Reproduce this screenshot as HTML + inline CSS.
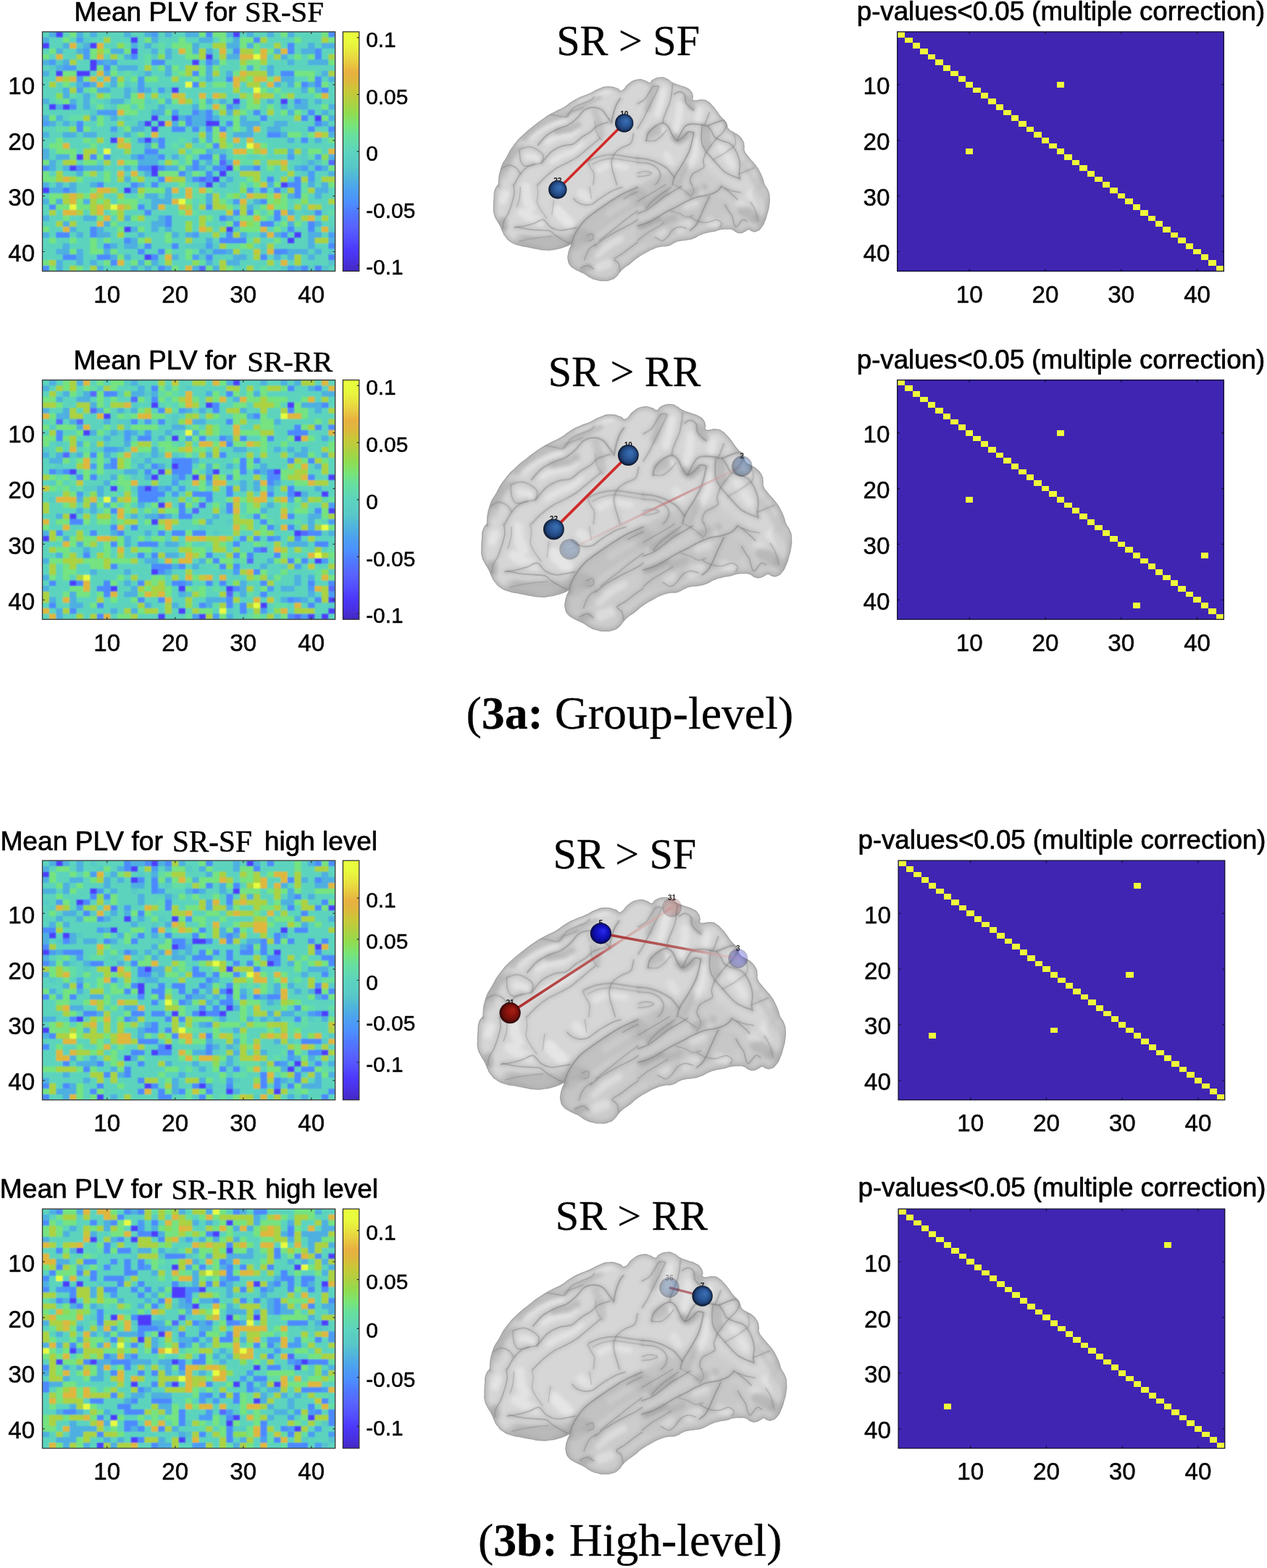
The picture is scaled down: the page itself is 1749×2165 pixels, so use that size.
<!DOCTYPE html>
<html lang="en"><head><meta charset="utf-8"><title>Figure 3</title>
<style>html,body{margin:0;padding:0;background:#fff}svg{display:block}</style></head><body>
<svg width="1749" height="2165" viewBox="0 0 1749 2165">
<defs>
<linearGradient id="cbg" x1="0" y1="0" x2="0" y2="1"><stop offset="0.000" stop-color="#e8ff3c"/><stop offset="0.045" stop-color="#e8fa3c"/><stop offset="0.094" stop-color="#e8e040"/><stop offset="0.133" stop-color="#e8c840"/><stop offset="0.168" stop-color="#e8b040"/><stop offset="0.207" stop-color="#ddb83c"/><stop offset="0.247" stop-color="#c8c838"/><stop offset="0.291" stop-color="#b0d040"/><stop offset="0.341" stop-color="#90dc50"/><stop offset="0.390" stop-color="#78e478"/><stop offset="0.430" stop-color="#68e09c"/><stop offset="0.502" stop-color="#5cd4be"/><stop offset="0.563" stop-color="#58c8c8"/><stop offset="0.612" stop-color="#50b4dc"/><stop offset="0.662" stop-color="#4ca0f0"/><stop offset="0.711" stop-color="#4c90ff"/><stop offset="0.760" stop-color="#5078ff"/><stop offset="0.810" stop-color="#5864ff"/><stop offset="0.860" stop-color="#5450ff"/><stop offset="0.910" stop-color="#4c38fc"/><stop offset="0.960" stop-color="#4830e0"/><stop offset="1.000" stop-color="#4428c0"/></linearGradient>
<filter id="bl1" x="-10%" y="-10%" width="120%" height="120%"><feGaussianBlur stdDeviation="0.9"/></filter>
<filter id="bl2" x="-10%" y="-10%" width="120%" height="120%"><feGaussianBlur stdDeviation="2.2"/></filter>
<filter id="bl3" x="-20%" y="-20%" width="140%" height="140%"><feGaussianBlur stdDeviation="5"/></filter>
<filter id="bl0" x="-10%" y="-10%" width="120%" height="120%"><feGaussianBlur stdDeviation="0.5"/></filter>
<clipPath id="bclip"><path d="M688.1 255.0C689.2 248.1 687.1 247.1 691.2 234.1C695.2 221.1 694.0 227.3 700.2 216.0C706.5 204.7 702.3 210.3 709.9 200.2C717.6 190.2 714.0 194.6 723.2 185.7C732.5 176.9 728.1 181.3 737.7 173.6C747.4 166.0 742.6 169.2 752.3 162.7C761.9 156.3 757.9 159.1 766.8 154.3C775.6 149.4 770.8 153.1 778.9 148.2C786.9 143.4 782.9 144.6 791.0 139.8C799.0 134.9 795.0 137.3 803.1 133.7C811.1 130.1 807.1 132.5 815.2 128.9C823.2 125.2 819.2 125.8 827.3 122.8C835.3 119.8 831.3 120.0 839.4 119.8C847.4 119.6 845.0 120.4 851.5 122.2C857.9 124.0 853.1 127.5 858.7 125.2C864.4 123.0 861.3 120.6 868.4 115.6C875.5 110.5 872.9 111.5 880.0 110.1C887.1 108.7 884.0 109.9 889.7 111.3C895.3 112.7 892.9 114.8 896.9 114.4C901.0 114.0 896.9 112.5 901.8 110.1C906.6 107.7 905.4 107.5 911.5 107.1C917.5 106.7 914.3 106.5 919.9 108.9C925.6 111.3 922.3 111.3 928.4 114.4C934.4 117.4 931.6 115.6 938.1 118.0C944.5 120.4 942.5 118.8 947.7 121.6C953.0 124.4 951.0 122.8 953.8 126.5C956.6 130.1 955.0 128.5 956.2 132.5C957.4 136.5 953.0 136.7 957.4 138.5C961.9 140.4 963.1 137.3 969.5 137.9C976.0 138.5 972.3 137.7 976.8 140.4C981.2 143.0 978.8 141.6 982.8 145.8C986.9 150.0 984.8 147.8 988.9 153.1C992.9 158.3 990.9 156.7 994.9 161.5C999.0 166.4 998.1 164.0 1001.0 167.6C1003.8 171.2 1001.8 168.8 1003.4 172.4C1005.0 176.0 1002.6 174.8 1005.8 178.5C1009.0 182.1 1008.6 180.5 1013.1 183.3C1017.5 186.1 1015.1 183.3 1019.1 186.9C1023.1 190.6 1022.5 189.4 1025.2 194.2C1027.8 199.0 1026.2 196.6 1027.0 201.5C1027.8 206.3 1025.8 203.9 1027.6 208.7C1029.4 213.5 1028.8 211.1 1032.4 216.0C1036.0 220.8 1034.4 218.4 1038.5 223.2C1042.5 228.1 1040.9 225.2 1044.5 230.5C1048.1 235.7 1046.5 233.3 1049.4 239.0C1052.2 244.6 1051.0 242.1 1053.0 247.4C1055.0 252.8 1053.0 249.7 1055.4 255.0C1057.8 260.4 1058.0 257.4 1060.2 263.5C1062.5 269.5 1061.7 266.3 1062.1 273.1C1062.5 280.0 1062.5 276.8 1061.5 284.0C1060.4 291.3 1061.0 287.7 1059.0 294.9C1057.0 302.2 1058.2 299.4 1055.4 305.8C1052.6 312.3 1054.2 309.8 1050.6 314.3C1046.9 318.7 1048.5 317.5 1044.5 319.1C1040.5 320.7 1042.1 319.9 1038.5 319.1C1034.8 318.3 1036.9 316.7 1033.6 316.7C1030.4 316.7 1032.4 317.5 1028.8 319.1C1025.2 320.7 1026.8 321.1 1022.7 321.5C1018.7 321.9 1020.7 321.9 1016.7 320.3C1012.7 318.7 1015.1 318.1 1010.6 316.7C1006.2 315.3 1008.6 316.1 1003.4 316.1C998.1 316.1 1000.6 315.7 994.9 316.7C989.3 317.7 992.5 317.7 986.5 319.1C980.4 320.5 983.2 319.3 976.8 320.9C970.3 322.5 973.5 321.3 967.1 324.0C960.6 326.6 963.9 326.4 957.4 328.8C951.0 331.2 954.2 330.0 947.7 331.2C941.3 332.4 943.7 331.2 938.1 332.4C932.4 333.6 936.0 332.6 930.8 334.8C925.6 337.1 928.8 337.3 922.3 339.1C915.9 340.9 918.3 338.9 911.5 340.3C904.6 341.7 908.2 340.7 901.8 343.3C895.3 345.9 899.4 344.1 892.1 348.1C884.8 352.2 887.5 350.2 880.0 355.4C872.5 360.6 875.9 359.0 869.6 363.9C863.3 368.7 866.0 365.9 861.1 369.9C856.3 374.0 858.7 371.9 855.1 376.0C851.5 380.0 854.3 378.6 850.2 382.0C846.2 385.4 848.6 384.4 843.0 386.2C837.3 388.1 839.8 387.5 833.3 387.5C826.9 387.5 829.7 387.7 823.6 386.2C817.6 384.8 820.4 385.8 815.2 383.2C809.9 380.6 812.7 381.2 807.9 378.4C803.1 375.6 805.5 377.2 800.6 374.8C795.8 372.3 797.8 374.0 793.4 371.1C789.0 368.3 790.4 370.3 787.3 366.3C784.3 362.3 785.3 363.9 784.3 359.0C783.3 354.2 783.7 356.6 784.3 351.8C784.9 346.9 784.7 349.4 786.1 344.5C787.5 339.7 789.4 339.1 788.5 337.3C787.7 335.4 788.1 337.5 783.7 339.1C779.3 340.7 781.7 340.3 775.2 342.1C768.8 343.9 772.0 343.5 764.4 344.5C756.7 345.5 760.3 345.5 752.3 345.1C744.2 344.7 748.2 344.7 740.2 343.3C732.1 341.9 736.1 342.5 728.1 340.9C720.0 339.3 723.6 340.9 716.0 338.5C708.3 336.0 711.1 337.7 705.1 333.6C699.0 329.6 701.5 330.8 697.8 326.4C694.2 321.9 696.6 325.2 694.2 320.3C691.8 315.5 693.4 317.5 690.6 311.9C687.7 306.2 688.5 309.0 685.7 303.4C682.9 297.7 683.5 301.0 682.1 294.9C680.7 288.9 681.5 292.5 681.5 285.2C681.5 278.0 681.5 280.8 682.1 273.1C682.7 265.5 681.3 268.3 683.3 262.3C685.3 256.2 686.5 257.4 688.1 255.0C689.8 252.6 687.1 262.0 688.1 255.0Z"/></clipPath>
<radialGradient id="nblue" cx="0.5" cy="0.5" r="0.5" fx="0.64" fy="0.36"><stop offset="0" stop-color="#3a70b6"/><stop offset="0.45" stop-color="#2c5a9a"/><stop offset="0.75" stop-color="#20447a"/><stop offset="0.92" stop-color="#122444"/><stop offset="1" stop-color="#081020"/></radialGradient>
<radialGradient id="ndblue" cx="0.5" cy="0.5" r="0.5" fx="0.64" fy="0.36"><stop offset="0" stop-color="#2a2af0"/><stop offset="0.45" stop-color="#1515c8"/><stop offset="0.75" stop-color="#0d0da0"/><stop offset="0.92" stop-color="#080860"/><stop offset="1" stop-color="#050530"/></radialGradient>
<radialGradient id="nred" cx="0.5" cy="0.5" r="0.5" fx="0.64" fy="0.36"><stop offset="0" stop-color="#a82014"/><stop offset="0.45" stop-color="#8c140e"/><stop offset="0.75" stop-color="#6c0e0a"/><stop offset="0.92" stop-color="#400806"/><stop offset="1" stop-color="#200303"/></radialGradient>
<g id="brain">
<path d="M688.1 255.0C689.2 248.1 687.1 247.1 691.2 234.1C695.2 221.1 694.0 227.3 700.2 216.0C706.5 204.7 702.3 210.3 709.9 200.2C717.6 190.2 714.0 194.6 723.2 185.7C732.5 176.9 728.1 181.3 737.7 173.6C747.4 166.0 742.6 169.2 752.3 162.7C761.9 156.3 757.9 159.1 766.8 154.3C775.6 149.4 770.8 153.1 778.9 148.2C786.9 143.4 782.9 144.6 791.0 139.8C799.0 134.9 795.0 137.3 803.1 133.7C811.1 130.1 807.1 132.5 815.2 128.9C823.2 125.2 819.2 125.8 827.3 122.8C835.3 119.8 831.3 120.0 839.4 119.8C847.4 119.6 845.0 120.4 851.5 122.2C857.9 124.0 853.1 127.5 858.7 125.2C864.4 123.0 861.3 120.6 868.4 115.6C875.5 110.5 872.9 111.5 880.0 110.1C887.1 108.7 884.0 109.9 889.7 111.3C895.3 112.7 892.9 114.8 896.9 114.4C901.0 114.0 896.9 112.5 901.8 110.1C906.6 107.7 905.4 107.5 911.5 107.1C917.5 106.7 914.3 106.5 919.9 108.9C925.6 111.3 922.3 111.3 928.4 114.4C934.4 117.4 931.6 115.6 938.1 118.0C944.5 120.4 942.5 118.8 947.7 121.6C953.0 124.4 951.0 122.8 953.8 126.5C956.6 130.1 955.0 128.5 956.2 132.5C957.4 136.5 953.0 136.7 957.4 138.5C961.9 140.4 963.1 137.3 969.5 137.9C976.0 138.5 972.3 137.7 976.8 140.4C981.2 143.0 978.8 141.6 982.8 145.8C986.9 150.0 984.8 147.8 988.9 153.1C992.9 158.3 990.9 156.7 994.9 161.5C999.0 166.4 998.1 164.0 1001.0 167.6C1003.8 171.2 1001.8 168.8 1003.4 172.4C1005.0 176.0 1002.6 174.8 1005.8 178.5C1009.0 182.1 1008.6 180.5 1013.1 183.3C1017.5 186.1 1015.1 183.3 1019.1 186.9C1023.1 190.6 1022.5 189.4 1025.2 194.2C1027.8 199.0 1026.2 196.6 1027.0 201.5C1027.8 206.3 1025.8 203.9 1027.6 208.7C1029.4 213.5 1028.8 211.1 1032.4 216.0C1036.0 220.8 1034.4 218.4 1038.5 223.2C1042.5 228.1 1040.9 225.2 1044.5 230.5C1048.1 235.7 1046.5 233.3 1049.4 239.0C1052.2 244.6 1051.0 242.1 1053.0 247.4C1055.0 252.8 1053.0 249.7 1055.4 255.0C1057.8 260.4 1058.0 257.4 1060.2 263.5C1062.5 269.5 1061.7 266.3 1062.1 273.1C1062.5 280.0 1062.5 276.8 1061.5 284.0C1060.4 291.3 1061.0 287.7 1059.0 294.9C1057.0 302.2 1058.2 299.4 1055.4 305.8C1052.6 312.3 1054.2 309.8 1050.6 314.3C1046.9 318.7 1048.5 317.5 1044.5 319.1C1040.5 320.7 1042.1 319.9 1038.5 319.1C1034.8 318.3 1036.9 316.7 1033.6 316.7C1030.4 316.7 1032.4 317.5 1028.8 319.1C1025.2 320.7 1026.8 321.1 1022.7 321.5C1018.7 321.9 1020.7 321.9 1016.7 320.3C1012.7 318.7 1015.1 318.1 1010.6 316.7C1006.2 315.3 1008.6 316.1 1003.4 316.1C998.1 316.1 1000.6 315.7 994.9 316.7C989.3 317.7 992.5 317.7 986.5 319.1C980.4 320.5 983.2 319.3 976.8 320.9C970.3 322.5 973.5 321.3 967.1 324.0C960.6 326.6 963.9 326.4 957.4 328.8C951.0 331.2 954.2 330.0 947.7 331.2C941.3 332.4 943.7 331.2 938.1 332.4C932.4 333.6 936.0 332.6 930.8 334.8C925.6 337.1 928.8 337.3 922.3 339.1C915.9 340.9 918.3 338.9 911.5 340.3C904.6 341.7 908.2 340.7 901.8 343.3C895.3 345.9 899.4 344.1 892.1 348.1C884.8 352.2 887.5 350.2 880.0 355.4C872.5 360.6 875.9 359.0 869.6 363.9C863.3 368.7 866.0 365.9 861.1 369.9C856.3 374.0 858.7 371.9 855.1 376.0C851.5 380.0 854.3 378.6 850.2 382.0C846.2 385.4 848.6 384.4 843.0 386.2C837.3 388.1 839.8 387.5 833.3 387.5C826.9 387.5 829.7 387.7 823.6 386.2C817.6 384.8 820.4 385.8 815.2 383.2C809.9 380.6 812.7 381.2 807.9 378.4C803.1 375.6 805.5 377.2 800.6 374.8C795.8 372.3 797.8 374.0 793.4 371.1C789.0 368.3 790.4 370.3 787.3 366.3C784.3 362.3 785.3 363.9 784.3 359.0C783.3 354.2 783.7 356.6 784.3 351.8C784.9 346.9 784.7 349.4 786.1 344.5C787.5 339.7 789.4 339.1 788.5 337.3C787.7 335.4 788.1 337.5 783.7 339.1C779.3 340.7 781.7 340.3 775.2 342.1C768.8 343.9 772.0 343.5 764.4 344.5C756.7 345.5 760.3 345.5 752.3 345.1C744.2 344.7 748.2 344.7 740.2 343.3C732.1 341.9 736.1 342.5 728.1 340.9C720.0 339.3 723.6 340.9 716.0 338.5C708.3 336.0 711.1 337.7 705.1 333.6C699.0 329.6 701.5 330.8 697.8 326.4C694.2 321.9 696.6 325.2 694.2 320.3C691.8 315.5 693.4 317.5 690.6 311.9C687.7 306.2 688.5 309.0 685.7 303.4C682.9 297.7 683.5 301.0 682.1 294.9C680.7 288.9 681.5 292.5 681.5 285.2C681.5 278.0 681.5 280.8 682.1 273.1C682.7 265.5 681.3 268.3 683.3 262.3C685.3 256.2 686.5 257.4 688.1 255.0C689.8 252.6 687.1 262.0 688.1 255.0Z" fill="#d6d6d6"/>
<g clip-path="url(#bclip)">
<path d="M788.5 337.3C791.2 327.3 790.2 330.7 792.2 326.4C794.1 322.0 795.1 320.1 798.2 315.5C801.4 310.9 803.5 307.7 807.9 303.4C812.3 299.0 815.2 297.3 820.0 293.7C824.8 290.1 826.8 288.9 832.1 285.2C837.4 281.6 840.8 279.2 846.6 275.6C852.4 271.9 854.5 270.5 861.1 267.1C867.8 263.7 873.8 262.0 880.0 258.6C886.2 255.2 884.8 254.0 892.1 250.2C899.4 246.3 906.6 243.1 916.3 239.3C926.0 235.4 930.8 232.5 940.5 230.8C950.2 229.1 955.0 228.4 964.7 230.8C974.4 233.2 979.2 235.6 988.9 242.9C998.5 250.2 1003.4 257.4 1013.1 267.1C1022.7 276.8 1027.6 284.0 1037.3 291.3C1046.9 298.5 1056.6 293.7 1061.5 303.4C1066.3 313.1 1097.7 327.6 1061.5 339.7C1025.2 351.8 924.4 351.8 880.0 363.9C835.6 376.0 859.6 397.7 839.4 400.2C819.1 402.6 789.0 388.5 778.9 376.0C768.7 363.4 785.9 347.2 788.5 337.3Z" fill="#9a9a9a" opacity="0.16" filter="url(#bl3)"/>
<g fill="none" stroke="#f0f0f0" stroke-linecap="round" stroke-linejoin="round" filter="url(#bl2)">
<path d="M732.9 189.4C735.3 187.5 742.2 181.5 747.4 178.5C752.7 175.4 759.1 173.0 764.4 171.2C769.6 169.4 776.5 168.2 778.9 167.6" stroke-width="7.7" opacity="0.51"/>
<path d="M754.7 196.6C757.1 195.4 764.2 191.0 769.2 189.4C774.2 187.7 780.3 188.5 784.9 186.9C789.6 185.3 795.0 180.9 797.0 179.7" stroke-width="7.7" opacity="0.51"/>
<path d="M728.1 216.0C729.7 216.2 735.3 216.4 737.7 217.2C740.2 218.0 741.8 220.2 742.6 220.8" stroke-width="8.8" opacity="0.51"/>
<path d="M800.6 138.5C803.1 137.7 810.3 135.5 815.2 133.7C820.0 131.9 825.2 129.1 829.7 127.7C834.1 126.2 839.8 125.6 841.8 125.2" stroke-width="7.7" opacity="0.47"/>
<path d="M761.9 223.2C764.4 221.8 771.6 217.2 776.5 214.8C781.3 212.3 786.5 211.3 791.0 208.7C795.4 206.1 801.0 200.6 803.1 199.0" stroke-width="7.7" opacity="0.47"/>
<path d="M827.3 234.1C829.3 233.1 833.3 228.7 839.4 228.1C845.4 227.5 859.5 230.1 863.5 230.5" stroke-width="9.9" opacity="0.42"/>
<path d="M915.1 125.2C914.7 127.9 913.9 135.5 912.7 141.0C911.5 146.4 908.6 155.1 907.8 157.9" stroke-width="9.9" opacity="0.51"/>
<path d="M938.1 145.8C937.9 148.6 937.7 157.5 936.9 162.7C936.0 168.0 933.8 174.8 933.2 177.3" stroke-width="11.0" opacity="0.47"/>
<path d="M964.7 153.1 L963.5 165.2" stroke-width="11.0" opacity="0.47"/>
<path d="M916.3 179.7 L917.5 182.1" stroke-width="5.5" opacity="0.85"/>
<path d="M959.8 194.2C959.6 197.4 959.8 207.9 958.6 213.5C957.4 219.2 953.6 225.6 952.6 228.1" stroke-width="9.9" opacity="0.47"/>
<path d="M994.9 203.9C996.3 205.9 1000.8 211.9 1003.4 216.0C1006.0 220.0 1009.4 226.0 1010.6 228.1" stroke-width="11.0" opacity="0.42"/>
<path d="M1034.8 225.6 L1043.3 240.2" stroke-width="9.9" opacity="0.42"/>
<path d="M919.9 213.5 L926.0 223.2" stroke-width="11.0" opacity="0.38"/>
<path d="M694.2 276.8 L697.8 267.1" stroke-width="11.0" opacity="0.51"/>
<path d="M720.8 293.7C722.8 294.9 728.9 299.0 732.9 301.0C736.9 303.0 743.0 305.0 745.0 305.8" stroke-width="13.2" opacity="0.51"/>
<path d="M769.2 291.3C770.8 292.9 776.0 298.1 778.9 301.0C781.7 303.8 784.9 307.0 786.1 308.2" stroke-width="15.4" opacity="0.59"/>
<path d="M725.6 258.6C725.8 261.2 725.6 269.7 726.9 274.4C728.1 279.0 731.9 284.4 732.9 286.5" stroke-width="13.2" opacity="0.47"/>
<path d="M803.1 267.1 L812.7 274.4" stroke-width="13.2" opacity="0.42"/>
<path d="M824.8 351.8C827.3 349.8 834.1 343.3 839.4 339.7C844.6 336.0 853.5 331.6 856.3 330.0" stroke-width="9.9" opacity="0.42"/>
<path d="M827.3 368.7 L839.4 363.9" stroke-width="13.2" opacity="0.42"/>
<path d="M839.4 294.9C842.2 293.1 850.6 287.5 856.3 284.0C861.9 280.6 870.4 276.0 873.2 274.4" stroke-width="8.8" opacity="0.30"/>
<path d="M938.1 315.5 L950.2 309.4" stroke-width="13.2" opacity="0.51"/>
<path d="M979.2 305.8 L988.9 308.2" stroke-width="13.2" opacity="0.51"/>
<path d="M947.7 285.2 L959.8 281.6" stroke-width="11.0" opacity="0.42"/>
<path d="M1037.3 268.3C1038.9 270.1 1044.5 275.4 1046.9 279.2C1049.4 283.0 1051.0 289.3 1051.8 291.3" stroke-width="13.2" opacity="0.47"/>
<path d="M909.0 325.2 L916.3 320.3" stroke-width="11.0" opacity="0.42"/>
<path d="M967.1 259.8 L968.3 265.9" stroke-width="8.8" opacity="0.51"/>
<path d="M1019.1 279.2 L1025.2 284.0" stroke-width="11.0" opacity="0.38"/>
</g>
<g fill="none" stroke="#8c8c8c" stroke-linecap="round" stroke-linejoin="round" filter="url(#bl2)">
<path d="M724.4 191.8C726.7 189.8 732.7 183.5 737.7 179.7C742.8 175.8 748.8 172.0 754.7 168.8C760.5 165.6 766.8 162.9 772.8 160.3C778.9 157.7 784.9 155.9 791.0 153.1C797.0 150.2 803.1 146.4 809.1 143.4C815.2 140.4 824.2 136.3 827.3 134.9" stroke-width="7.0" opacity="0.30"/>
<path d="M769.2 182.1C770.8 181.7 775.6 180.3 778.9 179.7C782.1 179.1 785.3 179.7 788.5 178.5C791.8 177.3 796.6 173.4 798.2 172.4" stroke-width="9.0" opacity="0.35"/>
<path d="M697.8 234.1C699.2 231.1 702.5 221.4 706.3 216.0C710.1 210.5 718.4 203.9 720.8 201.5" stroke-width="6.0" opacity="0.25"/>
<path d="M821.2 155.5C822.2 157.9 825.8 164.8 827.3 170.0C828.7 175.2 829.3 184.1 829.7 186.9" stroke-width="10.0" opacity="0.25"/>
<path d="M901.8 120.4C901.2 122.8 899.6 129.9 898.1 134.9C896.7 140.0 894.1 148.0 893.3 150.6" stroke-width="9.0" opacity="0.30"/>
<path d="M930.8 189.4C932.0 190.2 935.2 194.6 938.1 194.2C940.9 193.8 946.1 188.1 947.7 186.9" stroke-width="10.0" opacity="0.40"/>
<path d="M947.7 134.9C948.5 136.3 951.2 141.2 952.6 143.4C954.0 145.6 955.6 147.4 956.2 148.2" stroke-width="9.0" opacity="0.35"/>
<path d="M974.4 179.7C974.6 181.7 975.2 188.1 975.6 191.8C976.0 195.4 976.6 199.8 976.8 201.5" stroke-width="12.0" opacity="0.35"/>
<path d="M899.4 184.5 L906.6 179.7" stroke-width="14.0" opacity="0.30"/>
<path d="M947.7 228.1C946.9 230.1 944.7 236.1 942.9 240.2C941.1 244.2 937.9 250.2 936.9 252.3" stroke-width="8.0" opacity="0.25"/>
<path d="M694.2 305.8 L695.4 313.1" stroke-width="12.0" opacity="0.40"/>
<path d="M795.8 327.6C797.0 326.8 800.6 322.7 803.1 322.7C805.5 322.7 809.1 326.8 810.3 327.6" stroke-width="16.0" opacity="0.22"/>
<path d="M724.4 332.4C727.5 332.8 736.3 334.6 742.6 334.8C748.8 335.0 755.9 333.6 761.9 333.6C768.0 333.6 776.0 334.6 778.9 334.8" stroke-width="14.0" opacity="0.22"/>
<path d="M805.5 371.1 L812.7 368.7" stroke-width="10.0" opacity="0.35"/>
<path d="M884.8 313.1C886.9 312.3 892.9 310.0 896.9 308.2C901.0 306.4 907.0 303.2 909.0 302.2" stroke-width="8.0" opacity="0.40"/>
<path d="M892.1 284.0C894.5 282.4 902.0 277.4 906.6 274.4C911.2 271.3 917.7 267.3 919.9 265.9" stroke-width="9.0" opacity="0.35"/>
<path d="M1025.2 291.3C1026.8 291.9 1032.2 293.3 1034.8 294.9C1037.5 296.5 1039.9 300.0 1040.9 301.0" stroke-width="14.0" opacity="0.30"/>
<path d="M950.2 267.1C952.2 266.3 958.6 263.7 962.3 262.3C965.9 260.8 970.3 259.2 971.9 258.6" stroke-width="10.0" opacity="0.30"/>
<path d="M916.3 305.8 L930.8 301.0" stroke-width="10.0" opacity="0.25"/>
<path d="M794.6 332.4C797.0 330.0 803.7 322.7 809.1 317.9C814.6 313.1 821.2 307.8 827.3 303.4C833.3 299.0 839.4 295.1 845.4 291.3C851.5 287.5 857.8 283.6 863.5 280.4C869.3 277.2 877.3 273.3 880.0 271.9" stroke-width="26.0" opacity="0.16"/>
<path d="M880.0 271.9C883.0 270.3 892.1 265.5 898.1 262.3C904.2 259.0 913.3 254.2 916.3 252.6" stroke-width="26.0" opacity="0.14"/>
<path d="M791.0 351.8C793.0 351.0 799.0 349.0 803.1 346.9C807.1 344.9 813.1 340.9 815.2 339.7" stroke-width="30.0" opacity="0.10"/>
<path d="M892.1 322.7C896.1 320.9 908.2 315.1 916.3 311.9C924.4 308.6 932.4 306.2 940.5 303.4C948.5 300.6 956.6 297.7 964.7 294.9C972.7 292.1 984.8 287.9 988.9 286.5" stroke-width="30.0" opacity="0.08"/>
<path d="M720.8 333.6C724.4 334.0 734.9 335.8 742.6 336.0C750.2 336.2 760.3 335.4 766.8 334.8C773.2 334.2 778.9 332.8 781.3 332.4" stroke-width="22.0" opacity="0.22"/>
<path d="M694.2 240.2C695.4 237.1 698.8 227.5 701.5 222.0C704.1 216.6 708.5 209.9 709.9 207.5" stroke-width="14.0" opacity="0.20"/>
<path d="M1031.2 228.1C1032.8 230.1 1038.3 236.1 1040.9 240.2C1043.5 244.2 1045.9 250.2 1046.9 252.3" stroke-width="16.0" opacity="0.20"/>
<path d="M1046.9 267.1C1048.1 270.1 1053.8 279.2 1054.2 285.2C1054.6 291.3 1050.2 300.4 1049.4 303.4" stroke-width="18.0" opacity="0.20"/>
</g>
<g fill="none" stroke="#8a8a8a" stroke-linecap="round" stroke-linejoin="round" filter="url(#bl2)">
<path d="M717.2 206.3C719.4 205.7 726.2 202.5 730.5 202.7C734.7 202.9 739.4 205.5 742.6 207.5C745.8 209.5 749.0 211.9 749.8 214.8C750.6 217.6 749.4 222.4 747.4 224.4C745.4 226.5 741.6 226.0 737.7 226.9C733.9 227.7 727.7 230.3 724.4 229.3C721.2 228.3 719.6 224.6 718.4 220.8C717.2 217.0 717.4 208.7 717.2 206.3" stroke-width="4.2" opacity="0.25"/>
<path d="M742.6 200.2C744.6 198.0 750.2 190.6 754.7 186.9C759.1 183.3 764.2 180.9 769.2 178.5C774.2 176.0 780.3 175.0 784.9 172.4C789.6 169.8 793.4 166.2 797.0 162.7C800.6 159.3 803.1 154.3 806.7 151.9C810.3 149.4 814.8 148.2 818.8 148.2C822.8 148.2 827.5 149.4 830.9 151.9C834.3 154.3 837.3 160.1 839.4 162.7C841.4 165.4 842.4 166.8 843.0 167.6" stroke-width="4.8" opacity="0.30"/>
<path d="M747.4 225.6C749.6 223.0 755.9 214.0 760.7 209.9C765.6 205.9 771.4 203.3 776.5 201.5C781.5 199.6 786.5 201.0 791.0 199.0C795.4 197.0 799.0 192.2 803.1 189.4C807.1 186.5 811.5 184.7 815.2 182.1C818.8 179.5 820.8 175.8 824.8 173.6C828.9 171.4 836.9 169.6 839.4 168.8" stroke-width="4.5" opacity="0.28"/>
<path d="M754.7 157.9C756.7 158.1 762.7 158.5 766.8 159.1C770.8 159.7 776.0 161.3 778.9 161.5C781.7 161.7 781.7 162.3 783.7 160.3C785.7 158.3 787.7 152.3 791.0 149.4C794.2 146.6 799.0 145.2 803.1 143.4C807.1 141.6 812.3 140.2 815.2 138.5C818.0 136.9 819.2 134.5 820.0 133.7" stroke-width="4.2" opacity="0.23"/>
<path d="M856.3 136.1C855.5 137.3 852.9 140.6 851.5 143.4C850.0 146.2 848.8 149.8 847.8 153.1C846.8 156.3 846.0 159.9 845.4 162.7C844.8 165.6 844.4 168.8 844.2 170.0" stroke-width="5.4" opacity="0.30"/>
<path d="M874.4 184.5C873.8 186.7 873.4 194.6 870.8 197.8C868.2 201.0 862.3 201.7 858.7 203.9C855.1 206.1 851.5 208.1 849.0 211.1C846.6 214.2 844.8 218.2 844.2 222.0C843.6 225.8 844.6 230.1 845.4 234.1C846.2 238.1 848.0 242.7 849.0 246.2C850.0 249.7 851.0 253.6 851.5 255.0" stroke-width="4.5" opacity="0.25"/>
<path d="M812.7 222.0C815.2 221.0 821.8 217.4 827.3 216.0C832.7 214.6 839.4 213.5 845.4 213.5C851.5 213.5 857.8 215.2 863.5 216.0C869.3 216.8 877.3 218.0 880.0 218.4" stroke-width="5.4" opacity="0.23"/>
<path d="M817.6 226.9C819.6 225.9 825.0 222.7 829.7 221.4C834.3 220.1 839.8 219.0 845.4 219.0C851.0 219.0 857.8 220.6 863.5 221.4C869.3 222.2 877.3 223.4 880.0 223.8" stroke-width="4.2" opacity="0.17"/>
<path d="M690.6 234.1C692.4 233.1 697.8 228.5 701.5 228.1C705.1 227.7 709.5 229.7 712.3 231.7C715.2 233.7 717.4 238.8 718.4 240.2" stroke-width="4.2" opacity="0.25"/>
<path d="M709.9 255.0C711.3 252.6 715.4 244.3 718.4 240.2C721.4 236.1 724.8 232.7 728.1 230.5C731.3 228.3 736.1 227.5 737.7 226.9" stroke-width="4.5" opacity="0.28"/>
<path d="M742.6 255.0C744.6 253.0 750.2 246.5 754.7 242.6C759.1 238.7 764.4 234.7 769.2 231.7C774.0 228.7 778.9 227.1 783.7 224.4C788.5 221.8 793.4 219.4 798.2 216.0C803.1 212.5 807.9 207.9 812.7 203.9C817.6 199.8 824.8 193.8 827.3 191.8" stroke-width="4.5" opacity="0.25"/>
<path d="M811.5 223.2C812.1 224.6 813.8 228.9 815.2 231.7C816.6 234.5 819.4 236.3 820.0 240.2C820.6 244.1 819.0 252.6 818.8 255.0" stroke-width="4.2" opacity="0.20"/>
<path d="M781.3 160.3C782.1 159.5 783.7 156.9 786.1 155.5C788.5 154.1 792.6 153.1 795.8 151.9C799.0 150.6 803.9 148.8 805.5 148.2" stroke-width="3.6" opacity="0.20"/>
<path d="M821.2 167.6C821.4 169.6 821.4 176.0 822.4 179.7C823.4 183.3 825.8 187.1 827.3 189.4C828.7 191.6 830.3 192.4 830.9 193.0" stroke-width="3.9" opacity="0.17"/>
<path d="M880.0 143.4C881.6 142.4 886.9 140.2 889.7 137.3C892.5 134.5 894.9 129.5 896.9 126.5C899.0 123.4 899.8 120.4 901.8 119.2C903.8 118.0 907.8 119.2 909.0 119.2" stroke-width="4.5" opacity="0.25"/>
<path d="M909.0 120.4C908.2 122.2 906.0 127.5 904.2 131.3C902.4 135.1 900.2 139.4 898.1 143.4C896.1 147.4 894.1 151.5 892.1 155.5C890.1 159.5 888.1 164.0 886.0 167.6C884.0 171.2 881.0 175.6 880.0 177.3" stroke-width="4.5" opacity="0.25"/>
<path d="M928.4 116.8C928.2 118.8 927.8 124.8 927.2 128.9C926.6 132.9 926.0 136.9 924.8 141.0C923.5 145.0 921.3 149.4 919.9 153.1C918.5 156.7 917.1 159.9 916.3 162.7C915.5 165.6 915.3 168.8 915.1 170.0" stroke-width="4.5" opacity="0.25"/>
<path d="M930.8 130.1C932.0 129.5 935.6 126.2 938.1 126.5C940.5 126.7 943.9 128.9 945.3 131.3C946.7 133.7 945.3 138.1 946.5 141.0C947.7 143.8 950.8 146.4 952.6 148.2C954.4 150.0 956.6 151.2 957.4 151.9" stroke-width="4.8" opacity="0.28"/>
<path d="M892.1 194.2C892.5 192.6 892.5 187.7 894.5 184.5C896.5 181.3 900.8 177.3 904.2 174.8C907.6 172.4 912.1 170.0 915.1 170.0C918.1 170.0 920.1 172.0 922.3 174.8C924.6 177.7 926.4 183.7 928.4 186.9C930.4 190.2 932.0 193.8 934.4 194.2C936.9 194.6 940.3 191.4 942.9 189.4C945.5 187.3 947.7 183.1 950.2 182.1C952.6 181.1 956.2 183.1 957.4 183.3" stroke-width="5.4" opacity="0.30"/>
<path d="M892.1 194.2C894.1 194.2 900.6 195.4 904.2 194.2C907.8 193.0 911.2 189.4 913.9 186.9C916.5 184.5 918.9 180.9 919.9 179.7" stroke-width="4.2" opacity="0.23"/>
<path d="M934.4 194.2C936.2 191.0 941.9 178.7 945.3 174.8C948.8 171.0 951.0 171.6 955.0 171.2C959.0 170.8 965.9 172.0 969.5 172.4C973.1 172.8 973.5 174.2 976.8 173.6C980.0 173.0 985.2 170.0 988.9 168.8C992.5 167.6 996.1 165.8 998.5 166.4C1001.0 167.0 1002.6 171.4 1003.4 172.4" stroke-width="5.1" opacity="0.30"/>
<path d="M969.5 172.4C969.3 174.8 968.3 182.5 968.3 186.9C968.3 191.4 968.5 195.4 969.5 199.0C970.5 202.7 972.1 205.5 974.4 208.7C976.6 211.9 980.0 215.2 982.8 218.4C985.6 221.6 988.3 224.8 991.3 228.1C994.3 231.3 997.3 235.1 1001.0 237.7C1004.6 240.4 1009.8 242.4 1013.1 243.8C1016.3 245.2 1019.1 245.8 1020.3 246.2" stroke-width="4.8" opacity="0.28"/>
<path d="M979.2 155.5C978.6 157.1 976.8 162.1 975.6 165.2C974.4 168.2 972.5 172.2 971.9 173.6" stroke-width="4.5" opacity="0.25"/>
<path d="M976.8 173.6C977.8 175.0 981.2 179.5 982.8 182.1C984.4 184.7 984.2 187.3 986.5 189.4C988.7 191.4 992.7 192.8 996.1 194.2C999.6 195.6 1004.2 196.2 1007.0 197.8C1009.8 199.4 1011.0 200.8 1013.1 203.9C1015.1 206.9 1017.7 211.9 1019.1 216.0C1020.5 220.0 1021.3 224.0 1021.5 228.1C1021.7 232.1 1020.3 236.9 1020.3 240.2C1020.3 243.4 1021.3 246.2 1021.5 247.4" stroke-width="4.8" opacity="0.28"/>
<path d="M1003.4 172.4C1002.6 174.0 1001.0 178.9 998.5 182.1C996.1 185.3 992.1 188.1 988.9 191.8C985.6 195.4 981.6 200.6 979.2 203.9C976.8 207.1 975.2 209.9 974.4 211.1" stroke-width="4.5" opacity="0.25"/>
<path d="M957.4 184.5C957.0 186.5 956.0 192.6 955.0 196.6C954.0 200.6 953.0 204.7 951.4 208.7C949.8 212.7 947.5 216.8 945.3 220.8C943.1 224.8 940.5 228.9 938.1 232.9C935.6 236.9 932.4 241.3 930.8 245.0C929.2 248.7 928.8 253.4 928.4 255.0" stroke-width="5.4" opacity="0.30"/>
<path d="M974.4 211.1C973.8 212.9 971.1 218.8 970.7 222.0C970.3 225.2 972.9 228.3 971.9 230.5C970.9 232.7 967.3 233.7 964.7 235.3C962.1 236.9 958.2 237.7 956.2 240.2C954.2 242.6 952.8 247.4 952.6 249.8C952.4 252.3 954.6 254.2 955.0 255.0" stroke-width="4.5" opacity="0.25"/>
<path d="M1020.3 240.2C1022.3 239.4 1029.0 236.7 1032.4 235.3C1035.8 233.9 1039.5 232.3 1040.9 231.7" stroke-width="4.2" opacity="0.23"/>
<path d="M880.0 218.4C882.0 218.6 888.1 218.8 892.1 219.6C896.1 220.4 900.6 221.8 904.2 223.2C907.8 224.6 911.0 226.5 913.9 228.1C916.7 229.7 918.3 230.1 921.1 232.9C924.0 235.7 929.2 243.0 930.8 245.0" stroke-width="6.0" opacity="0.25"/>
<path d="M880.0 224.4C882.4 224.6 890.1 224.4 894.5 225.6C899.0 226.9 903.8 229.3 906.6 231.7C909.4 234.1 911.0 237.1 911.5 240.2C911.9 243.2 910.2 247.4 909.0 249.8C907.8 252.3 905.0 254.2 904.2 255.0" stroke-width="4.8" opacity="0.23"/>
<path d="M880.0 239.0C881.6 238.5 886.5 236.5 889.7 236.5C892.9 236.5 899.0 237.9 899.4 239.0C899.8 240.0 895.3 241.8 892.1 242.6C888.9 243.4 882.0 243.6 880.0 243.8" stroke-width="3.9" opacity="0.23"/>
<path d="M1013.1 184.5C1013.5 186.5 1015.7 193.4 1015.5 196.6C1015.3 199.8 1012.5 202.7 1011.9 203.9" stroke-width="3.9" opacity="0.20"/>
<path d="M984.0 220.8C986.9 219.2 996.5 214.0 1001.0 211.1C1005.4 208.3 1009.0 205.1 1010.6 203.9" stroke-width="3.9" opacity="0.20"/>
<path d="M788.5 337.3C789.2 335.4 790.6 330.0 792.2 326.4C793.8 322.7 795.6 319.3 798.2 315.5C800.8 311.7 804.3 307.0 807.9 303.4C811.5 299.8 816.0 296.7 820.0 293.7C824.0 290.7 827.7 288.3 832.1 285.2C836.5 282.2 841.8 278.6 846.6 275.6C851.5 272.5 855.6 269.9 861.1 267.1C866.7 264.3 876.9 260.0 880.0 258.6" stroke-width="5.4" opacity="0.30"/>
<path d="M792.2 274.4C793.0 275.2 794.6 277.8 797.0 279.2C799.4 280.6 803.3 282.4 806.7 282.8C810.1 283.2 814.4 282.8 817.6 281.6C820.8 280.4 822.8 277.8 826.0 275.6C829.3 273.3 833.3 270.5 836.9 268.3C840.6 266.1 844.2 263.9 847.8 262.3C851.5 260.6 856.9 259.2 858.7 258.6" stroke-width="4.8" opacity="0.23"/>
<path d="M708.7 255.0C708.9 257.0 710.3 262.7 709.9 267.1C709.5 271.5 707.7 277.0 706.3 281.6C704.9 286.2 703.3 290.9 701.5 294.9C699.6 299.0 696.6 302.4 695.4 305.8C694.2 309.2 694.4 313.9 694.2 315.5" stroke-width="4.5" opacity="0.25"/>
<path d="M718.4 258.6C718.2 261.0 718.0 268.7 717.2 273.1C716.4 277.6 714.2 283.2 713.5 285.2" stroke-width="3.9" opacity="0.20"/>
<path d="M709.9 314.3C712.3 313.9 719.8 312.9 724.4 311.9C729.1 310.8 733.5 309.6 737.7 308.2C742.0 306.8 746.2 302.6 749.8 303.4C753.5 304.2 755.9 310.6 759.5 313.1C763.1 315.5 767.6 317.3 771.6 317.9C775.6 318.5 779.7 317.3 783.7 316.7C787.7 316.1 793.8 314.7 795.8 314.3" stroke-width="4.5" opacity="0.25"/>
<path d="M712.3 313.1C715.4 313.7 724.6 315.9 730.5 316.7C736.3 317.5 742.6 317.5 747.4 317.9C752.3 318.3 756.3 317.9 759.5 319.1C762.7 320.3 763.5 322.9 766.8 325.2C770.0 327.4 775.2 330.4 778.9 332.4C782.5 334.4 786.9 336.5 788.5 337.3" stroke-width="4.5" opacity="0.25"/>
<path d="M716.0 333.6C718.4 333.0 725.2 331.0 730.5 330.0C735.7 329.0 742.2 328.2 747.4 327.6C752.7 327.0 759.5 326.6 761.9 326.4" stroke-width="3.9" opacity="0.20"/>
<path d="M810.3 325.2C811.5 324.8 816.2 321.9 817.6 322.7C819.0 323.5 819.6 328.4 818.8 330.0C818.0 331.6 813.8 332.0 812.7 332.4" stroke-width="3.9" opacity="0.23"/>
<path d="M821.2 339.7C823.2 338.1 829.3 332.8 833.3 330.0C837.3 327.2 841.2 325.2 845.4 322.7C849.6 320.3 854.1 317.9 858.7 315.5C863.3 313.1 869.7 310.2 873.2 308.2C876.8 306.2 878.9 304.2 880.0 303.4" stroke-width="4.5" opacity="0.25"/>
<path d="M806.7 359.0C807.3 357.4 808.9 352.2 810.3 349.4C811.7 346.5 813.1 344.1 815.2 342.1C817.2 340.1 821.2 338.1 822.4 337.3" stroke-width="4.2" opacity="0.23"/>
<path d="M801.9 369.9C803.5 369.3 808.7 366.1 811.5 366.3C814.4 366.5 817.6 370.3 818.8 371.1" stroke-width="4.2" opacity="0.25"/>
<path d="M856.3 376.0C855.9 374.0 855.3 366.9 853.9 363.9C852.5 360.8 847.0 360.0 847.8 357.8C848.6 355.6 855.1 353.2 858.7 350.6C862.3 347.9 866.0 344.7 869.6 342.1C873.1 339.5 878.3 336.0 880.0 334.8" stroke-width="4.5" opacity="0.25"/>
<path d="M861.1 274.4C862.5 273.5 866.5 271.1 869.6 269.5C872.7 267.9 878.3 265.5 880.0 264.7" stroke-width="4.2" opacity="0.25"/>
<path d="M827.3 332.4C829.3 330.8 835.3 326.0 839.4 322.7C843.4 319.5 847.4 316.3 851.5 313.1C855.5 309.8 858.8 307.0 863.5 303.4C868.3 299.8 877.3 293.3 880.0 291.3" stroke-width="4.2" opacity="0.23"/>
<path d="M741.4 255.0C741.6 257.0 742.6 263.1 742.6 267.1C742.6 271.1 740.6 275.2 741.4 279.2C742.2 283.2 745.2 287.7 747.4 291.3C749.6 294.9 753.5 299.4 754.7 301.0" stroke-width="3.9" opacity="0.17"/>
<path d="M764.4 276.8C764.2 278.4 763.5 283.2 763.1 286.5C762.7 289.7 762.1 294.5 761.9 296.1" stroke-width="3.9" opacity="0.17"/>
<path d="M814.0 258.6C814.2 260.0 814.8 264.5 815.2 267.1C815.6 269.7 816.2 273.1 816.4 274.4" stroke-width="3.9" opacity="0.17"/>
<path d="M880.0 294.9C882.0 294.1 888.1 292.3 892.1 290.1C896.1 287.9 900.2 284.6 904.2 281.6C908.2 278.6 912.3 274.8 916.3 271.9C920.3 269.1 924.4 267.1 928.4 264.7C932.4 262.3 938.5 258.6 940.5 257.4" stroke-width="4.8" opacity="0.28"/>
<path d="M880.0 311.9C882.0 311.2 888.1 309.8 892.1 308.2C896.1 306.6 899.6 304.8 904.2 302.2C908.8 299.6 914.9 295.3 919.9 292.5C925.0 289.7 929.8 287.7 934.4 285.2C939.1 282.8 943.1 280.2 947.7 278.0C952.4 275.8 957.4 273.3 962.3 271.9C967.1 270.5 972.3 270.7 976.8 269.5C981.2 268.3 985.6 266.7 988.9 264.7C992.1 262.7 994.9 258.6 996.1 257.4" stroke-width="5.1" opacity="0.30"/>
<path d="M892.1 287.7C893.7 285.8 898.1 280.2 901.8 276.8C905.4 273.3 909.8 270.1 913.9 267.1C917.9 264.1 924.0 260.0 926.0 258.6" stroke-width="4.2" opacity="0.25"/>
<path d="M996.1 257.4C997.3 258.2 1000.6 260.0 1003.4 262.3C1006.2 264.5 1010.6 268.5 1013.1 270.7C1015.5 272.9 1017.1 274.8 1017.9 275.6" stroke-width="4.5" opacity="0.25"/>
<path d="M1001.0 259.8C1002.6 260.4 1007.0 262.5 1010.6 263.5C1014.3 264.5 1020.7 265.5 1022.7 265.9" stroke-width="4.2" opacity="0.23"/>
<path d="M979.2 271.9C978.4 273.5 976.0 278.2 974.4 281.6C972.7 285.0 971.1 288.9 969.5 292.5C967.9 296.1 966.3 300.2 964.7 303.4C963.1 306.6 961.9 309.4 959.8 311.9C957.8 314.3 953.8 316.9 952.6 317.9" stroke-width="5.1" opacity="0.30"/>
<path d="M952.6 299.8C954.6 300.8 960.6 304.6 964.7 305.8C968.7 307.0 972.7 307.4 976.8 307.0C980.8 306.6 985.6 303.2 988.9 303.4C992.1 303.6 995.3 306.4 996.1 308.2C996.9 310.0 994.1 313.3 993.7 314.3" stroke-width="4.2" opacity="0.23"/>
<path d="M1001.0 282.8C1001.8 284.2 1004.2 288.7 1005.8 291.3C1007.4 293.9 1009.4 295.7 1010.6 298.5C1011.9 301.4 1012.1 305.8 1013.1 308.2C1014.1 310.6 1014.7 313.9 1016.7 313.1C1018.7 312.3 1022.7 304.6 1025.2 303.4C1027.6 302.2 1030.2 305.4 1031.2 305.8" stroke-width="4.5" opacity="0.25"/>
<path d="M1036.0 279.2C1036.9 280.4 1039.5 283.6 1040.9 286.5C1042.3 289.3 1043.5 292.9 1044.5 296.1C1045.5 299.4 1046.5 304.2 1046.9 305.8" stroke-width="4.2" opacity="0.20"/>
<path d="M904.2 327.6C905.8 328.4 911.0 332.4 913.9 332.4C916.7 332.4 918.7 330.0 921.1 327.6C923.5 325.2 925.6 320.3 928.4 317.9C931.2 315.5 934.8 313.5 938.1 313.1C941.3 312.7 946.1 315.1 947.7 315.5" stroke-width="4.2" opacity="0.23"/>
<path d="M880.0 332.4C882.0 330.8 888.1 325.6 892.1 322.7C896.1 319.9 900.2 317.9 904.2 315.5C908.2 313.1 914.3 309.4 916.3 308.2" stroke-width="4.2" opacity="0.23"/>
<path d="M880.0 278.0C882.4 276.6 889.7 272.3 894.5 269.5C899.4 266.7 905.0 263.5 909.0 261.0C913.1 258.6 917.1 256.0 918.7 255.0" stroke-width="4.2" opacity="0.23"/>
<path d="M926.0 291.3C928.0 291.9 934.4 293.5 938.1 294.9C941.7 296.3 944.5 299.4 947.7 299.8C951.0 300.2 955.8 297.7 957.4 297.3" stroke-width="3.9" opacity="0.20"/>
<path d="M930.8 255.0C932.8 256.2 939.3 259.8 942.9 262.3C946.5 264.7 951.0 268.3 952.6 269.5" stroke-width="3.9" opacity="0.20"/>
<path d="M955.0 255.0C955.4 256.6 957.8 261.7 957.4 264.7C957.0 267.7 953.4 271.7 952.6 273.1" stroke-width="3.9" opacity="0.20"/>
</g>
<g fill="none" stroke="#808080" stroke-linecap="round" stroke-linejoin="round">
<path d="M717.2 206.3C719.4 205.7 726.2 202.5 730.5 202.7C734.7 202.9 739.4 205.5 742.6 207.5C745.8 209.5 749.0 211.9 749.8 214.8C750.6 217.6 749.4 222.4 747.4 224.4C745.4 226.5 741.6 226.0 737.7 226.9C733.9 227.7 727.7 230.3 724.4 229.3C721.2 228.3 719.6 224.6 718.4 220.8C717.2 217.0 717.4 208.7 717.2 206.3" stroke-width="1.33" opacity="0.47"/>
<path d="M742.6 200.2C744.6 198.0 750.2 190.6 754.7 186.9C759.1 183.3 764.2 180.9 769.2 178.5C774.2 176.0 780.3 175.0 784.9 172.4C789.6 169.8 793.4 166.2 797.0 162.7C800.6 159.3 803.1 154.3 806.7 151.9C810.3 149.4 814.8 148.2 818.8 148.2C822.8 148.2 827.5 149.4 830.9 151.9C834.3 154.3 837.3 160.1 839.4 162.7C841.4 165.4 842.4 166.8 843.0 167.6" stroke-width="1.52" opacity="0.57"/>
<path d="M747.4 225.6C749.6 223.0 755.9 214.0 760.7 209.9C765.6 205.9 771.4 203.3 776.5 201.5C781.5 199.6 786.5 201.0 791.0 199.0C795.4 197.0 799.0 192.2 803.1 189.4C807.1 186.5 811.5 184.7 815.2 182.1C818.8 179.5 820.8 175.8 824.8 173.6C828.9 171.4 836.9 169.6 839.4 168.8" stroke-width="1.42" opacity="0.52"/>
<path d="M754.7 157.9C756.7 158.1 762.7 158.5 766.8 159.1C770.8 159.7 776.0 161.3 778.9 161.5C781.7 161.7 781.7 162.3 783.7 160.3C785.7 158.3 787.7 152.3 791.0 149.4C794.2 146.6 799.0 145.2 803.1 143.4C807.1 141.6 812.3 140.2 815.2 138.5C818.0 136.9 819.2 134.5 820.0 133.7" stroke-width="1.33" opacity="0.43"/>
<path d="M856.3 136.1C855.5 137.3 852.9 140.6 851.5 143.4C850.0 146.2 848.8 149.8 847.8 153.1C846.8 156.3 846.0 159.9 845.4 162.7C844.8 165.6 844.4 168.8 844.2 170.0" stroke-width="1.71" opacity="0.57"/>
<path d="M874.4 184.5C873.8 186.7 873.4 194.6 870.8 197.8C868.2 201.0 862.3 201.7 858.7 203.9C855.1 206.1 851.5 208.1 849.0 211.1C846.6 214.2 844.8 218.2 844.2 222.0C843.6 225.8 844.6 230.1 845.4 234.1C846.2 238.1 848.0 242.7 849.0 246.2C850.0 249.7 851.0 253.6 851.5 255.0" stroke-width="1.42" opacity="0.47"/>
<path d="M812.7 222.0C815.2 221.0 821.8 217.4 827.3 216.0C832.7 214.6 839.4 213.5 845.4 213.5C851.5 213.5 857.8 215.2 863.5 216.0C869.3 216.8 877.3 218.0 880.0 218.4" stroke-width="1.71" opacity="0.43"/>
<path d="M817.6 226.9C819.6 225.9 825.0 222.7 829.7 221.4C834.3 220.1 839.8 219.0 845.4 219.0C851.0 219.0 857.8 220.6 863.5 221.4C869.3 222.2 877.3 223.4 880.0 223.8" stroke-width="1.33" opacity="0.33"/>
<path d="M690.6 234.1C692.4 233.1 697.8 228.5 701.5 228.1C705.1 227.7 709.5 229.7 712.3 231.7C715.2 233.7 717.4 238.8 718.4 240.2" stroke-width="1.33" opacity="0.47"/>
<path d="M709.9 255.0C711.3 252.6 715.4 244.3 718.4 240.2C721.4 236.1 724.8 232.7 728.1 230.5C731.3 228.3 736.1 227.5 737.7 226.9" stroke-width="1.42" opacity="0.52"/>
<path d="M742.6 255.0C744.6 253.0 750.2 246.5 754.7 242.6C759.1 238.7 764.4 234.7 769.2 231.7C774.0 228.7 778.9 227.1 783.7 224.4C788.5 221.8 793.4 219.4 798.2 216.0C803.1 212.5 807.9 207.9 812.7 203.9C817.6 199.8 824.8 193.8 827.3 191.8" stroke-width="1.42" opacity="0.47"/>
<path d="M811.5 223.2C812.1 224.6 813.8 228.9 815.2 231.7C816.6 234.5 819.4 236.3 820.0 240.2C820.6 244.1 819.0 252.6 818.8 255.0" stroke-width="1.33" opacity="0.38"/>
<path d="M781.3 160.3C782.1 159.5 783.7 156.9 786.1 155.5C788.5 154.1 792.6 153.1 795.8 151.9C799.0 150.6 803.9 148.8 805.5 148.2" stroke-width="1.14" opacity="0.38"/>
<path d="M821.2 167.6C821.4 169.6 821.4 176.0 822.4 179.7C823.4 183.3 825.8 187.1 827.3 189.4C828.7 191.6 830.3 192.4 830.9 193.0" stroke-width="1.23" opacity="0.33"/>
<path d="M880.0 143.4C881.6 142.4 886.9 140.2 889.7 137.3C892.5 134.5 894.9 129.5 896.9 126.5C899.0 123.4 899.8 120.4 901.8 119.2C903.8 118.0 907.8 119.2 909.0 119.2" stroke-width="1.42" opacity="0.47"/>
<path d="M909.0 120.4C908.2 122.2 906.0 127.5 904.2 131.3C902.4 135.1 900.2 139.4 898.1 143.4C896.1 147.4 894.1 151.5 892.1 155.5C890.1 159.5 888.1 164.0 886.0 167.6C884.0 171.2 881.0 175.6 880.0 177.3" stroke-width="1.42" opacity="0.47"/>
<path d="M928.4 116.8C928.2 118.8 927.8 124.8 927.2 128.9C926.6 132.9 926.0 136.9 924.8 141.0C923.5 145.0 921.3 149.4 919.9 153.1C918.5 156.7 917.1 159.9 916.3 162.7C915.5 165.6 915.3 168.8 915.1 170.0" stroke-width="1.42" opacity="0.47"/>
<path d="M930.8 130.1C932.0 129.5 935.6 126.2 938.1 126.5C940.5 126.7 943.9 128.9 945.3 131.3C946.7 133.7 945.3 138.1 946.5 141.0C947.7 143.8 950.8 146.4 952.6 148.2C954.4 150.0 956.6 151.2 957.4 151.9" stroke-width="1.52" opacity="0.52"/>
<path d="M892.1 194.2C892.5 192.6 892.5 187.7 894.5 184.5C896.5 181.3 900.8 177.3 904.2 174.8C907.6 172.4 912.1 170.0 915.1 170.0C918.1 170.0 920.1 172.0 922.3 174.8C924.6 177.7 926.4 183.7 928.4 186.9C930.4 190.2 932.0 193.8 934.4 194.2C936.9 194.6 940.3 191.4 942.9 189.4C945.5 187.3 947.7 183.1 950.2 182.1C952.6 181.1 956.2 183.1 957.4 183.3" stroke-width="1.71" opacity="0.57"/>
<path d="M892.1 194.2C894.1 194.2 900.6 195.4 904.2 194.2C907.8 193.0 911.2 189.4 913.9 186.9C916.5 184.5 918.9 180.9 919.9 179.7" stroke-width="1.33" opacity="0.43"/>
<path d="M934.4 194.2C936.2 191.0 941.9 178.7 945.3 174.8C948.8 171.0 951.0 171.6 955.0 171.2C959.0 170.8 965.9 172.0 969.5 172.4C973.1 172.8 973.5 174.2 976.8 173.6C980.0 173.0 985.2 170.0 988.9 168.8C992.5 167.6 996.1 165.8 998.5 166.4C1001.0 167.0 1002.6 171.4 1003.4 172.4" stroke-width="1.61" opacity="0.57"/>
<path d="M969.5 172.4C969.3 174.8 968.3 182.5 968.3 186.9C968.3 191.4 968.5 195.4 969.5 199.0C970.5 202.7 972.1 205.5 974.4 208.7C976.6 211.9 980.0 215.2 982.8 218.4C985.6 221.6 988.3 224.8 991.3 228.1C994.3 231.3 997.3 235.1 1001.0 237.7C1004.6 240.4 1009.8 242.4 1013.1 243.8C1016.3 245.2 1019.1 245.8 1020.3 246.2" stroke-width="1.52" opacity="0.52"/>
<path d="M979.2 155.5C978.6 157.1 976.8 162.1 975.6 165.2C974.4 168.2 972.5 172.2 971.9 173.6" stroke-width="1.42" opacity="0.47"/>
<path d="M976.8 173.6C977.8 175.0 981.2 179.5 982.8 182.1C984.4 184.7 984.2 187.3 986.5 189.4C988.7 191.4 992.7 192.8 996.1 194.2C999.6 195.6 1004.2 196.2 1007.0 197.8C1009.8 199.4 1011.0 200.8 1013.1 203.9C1015.1 206.9 1017.7 211.9 1019.1 216.0C1020.5 220.0 1021.3 224.0 1021.5 228.1C1021.7 232.1 1020.3 236.9 1020.3 240.2C1020.3 243.4 1021.3 246.2 1021.5 247.4" stroke-width="1.52" opacity="0.52"/>
<path d="M1003.4 172.4C1002.6 174.0 1001.0 178.9 998.5 182.1C996.1 185.3 992.1 188.1 988.9 191.8C985.6 195.4 981.6 200.6 979.2 203.9C976.8 207.1 975.2 209.9 974.4 211.1" stroke-width="1.42" opacity="0.47"/>
<path d="M957.4 184.5C957.0 186.5 956.0 192.6 955.0 196.6C954.0 200.6 953.0 204.7 951.4 208.7C949.8 212.7 947.5 216.8 945.3 220.8C943.1 224.8 940.5 228.9 938.1 232.9C935.6 236.9 932.4 241.3 930.8 245.0C929.2 248.7 928.8 253.4 928.4 255.0" stroke-width="1.71" opacity="0.57"/>
<path d="M974.4 211.1C973.8 212.9 971.1 218.8 970.7 222.0C970.3 225.2 972.9 228.3 971.9 230.5C970.9 232.7 967.3 233.7 964.7 235.3C962.1 236.9 958.2 237.7 956.2 240.2C954.2 242.6 952.8 247.4 952.6 249.8C952.4 252.3 954.6 254.2 955.0 255.0" stroke-width="1.42" opacity="0.47"/>
<path d="M1020.3 240.2C1022.3 239.4 1029.0 236.7 1032.4 235.3C1035.8 233.9 1039.5 232.3 1040.9 231.7" stroke-width="1.33" opacity="0.43"/>
<path d="M880.0 218.4C882.0 218.6 888.1 218.8 892.1 219.6C896.1 220.4 900.6 221.8 904.2 223.2C907.8 224.6 911.0 226.5 913.9 228.1C916.7 229.7 918.3 230.1 921.1 232.9C924.0 235.7 929.2 243.0 930.8 245.0" stroke-width="1.90" opacity="0.47"/>
<path d="M880.0 224.4C882.4 224.6 890.1 224.4 894.5 225.6C899.0 226.9 903.8 229.3 906.6 231.7C909.4 234.1 911.0 237.1 911.5 240.2C911.9 243.2 910.2 247.4 909.0 249.8C907.8 252.3 905.0 254.2 904.2 255.0" stroke-width="1.52" opacity="0.43"/>
<path d="M880.0 239.0C881.6 238.5 886.5 236.5 889.7 236.5C892.9 236.5 899.0 237.9 899.4 239.0C899.8 240.0 895.3 241.8 892.1 242.6C888.9 243.4 882.0 243.6 880.0 243.8" stroke-width="1.23" opacity="0.43"/>
<path d="M1013.1 184.5C1013.5 186.5 1015.7 193.4 1015.5 196.6C1015.3 199.8 1012.5 202.7 1011.9 203.9" stroke-width="1.23" opacity="0.38"/>
<path d="M984.0 220.8C986.9 219.2 996.5 214.0 1001.0 211.1C1005.4 208.3 1009.0 205.1 1010.6 203.9" stroke-width="1.23" opacity="0.38"/>
<path d="M788.5 337.3C789.2 335.4 790.6 330.0 792.2 326.4C793.8 322.7 795.6 319.3 798.2 315.5C800.8 311.7 804.3 307.0 807.9 303.4C811.5 299.8 816.0 296.7 820.0 293.7C824.0 290.7 827.7 288.3 832.1 285.2C836.5 282.2 841.8 278.6 846.6 275.6C851.5 272.5 855.6 269.9 861.1 267.1C866.7 264.3 876.9 260.0 880.0 258.6" stroke-width="1.71" opacity="0.57"/>
<path d="M792.2 274.4C793.0 275.2 794.6 277.8 797.0 279.2C799.4 280.6 803.3 282.4 806.7 282.8C810.1 283.2 814.4 282.8 817.6 281.6C820.8 280.4 822.8 277.8 826.0 275.6C829.3 273.3 833.3 270.5 836.9 268.3C840.6 266.1 844.2 263.9 847.8 262.3C851.5 260.6 856.9 259.2 858.7 258.6" stroke-width="1.52" opacity="0.43"/>
<path d="M708.7 255.0C708.9 257.0 710.3 262.7 709.9 267.1C709.5 271.5 707.7 277.0 706.3 281.6C704.9 286.2 703.3 290.9 701.5 294.9C699.6 299.0 696.6 302.4 695.4 305.8C694.2 309.2 694.4 313.9 694.2 315.5" stroke-width="1.42" opacity="0.47"/>
<path d="M718.4 258.6C718.2 261.0 718.0 268.7 717.2 273.1C716.4 277.6 714.2 283.2 713.5 285.2" stroke-width="1.23" opacity="0.38"/>
<path d="M709.9 314.3C712.3 313.9 719.8 312.9 724.4 311.9C729.1 310.8 733.5 309.6 737.7 308.2C742.0 306.8 746.2 302.6 749.8 303.4C753.5 304.2 755.9 310.6 759.5 313.1C763.1 315.5 767.6 317.3 771.6 317.9C775.6 318.5 779.7 317.3 783.7 316.7C787.7 316.1 793.8 314.7 795.8 314.3" stroke-width="1.42" opacity="0.47"/>
<path d="M712.3 313.1C715.4 313.7 724.6 315.9 730.5 316.7C736.3 317.5 742.6 317.5 747.4 317.9C752.3 318.3 756.3 317.9 759.5 319.1C762.7 320.3 763.5 322.9 766.8 325.2C770.0 327.4 775.2 330.4 778.9 332.4C782.5 334.4 786.9 336.5 788.5 337.3" stroke-width="1.42" opacity="0.47"/>
<path d="M716.0 333.6C718.4 333.0 725.2 331.0 730.5 330.0C735.7 329.0 742.2 328.2 747.4 327.6C752.7 327.0 759.5 326.6 761.9 326.4" stroke-width="1.23" opacity="0.38"/>
<path d="M810.3 325.2C811.5 324.8 816.2 321.9 817.6 322.7C819.0 323.5 819.6 328.4 818.8 330.0C818.0 331.6 813.8 332.0 812.7 332.4" stroke-width="1.23" opacity="0.43"/>
<path d="M821.2 339.7C823.2 338.1 829.3 332.8 833.3 330.0C837.3 327.2 841.2 325.2 845.4 322.7C849.6 320.3 854.1 317.9 858.7 315.5C863.3 313.1 869.7 310.2 873.2 308.2C876.8 306.2 878.9 304.2 880.0 303.4" stroke-width="1.42" opacity="0.47"/>
<path d="M806.7 359.0C807.3 357.4 808.9 352.2 810.3 349.4C811.7 346.5 813.1 344.1 815.2 342.1C817.2 340.1 821.2 338.1 822.4 337.3" stroke-width="1.33" opacity="0.43"/>
<path d="M801.9 369.9C803.5 369.3 808.7 366.1 811.5 366.3C814.4 366.5 817.6 370.3 818.8 371.1" stroke-width="1.33" opacity="0.47"/>
<path d="M856.3 376.0C855.9 374.0 855.3 366.9 853.9 363.9C852.5 360.8 847.0 360.0 847.8 357.8C848.6 355.6 855.1 353.2 858.7 350.6C862.3 347.9 866.0 344.7 869.6 342.1C873.1 339.5 878.3 336.0 880.0 334.8" stroke-width="1.42" opacity="0.47"/>
<path d="M861.1 274.4C862.5 273.5 866.5 271.1 869.6 269.5C872.7 267.9 878.3 265.5 880.0 264.7" stroke-width="1.33" opacity="0.47"/>
<path d="M827.3 332.4C829.3 330.8 835.3 326.0 839.4 322.7C843.4 319.5 847.4 316.3 851.5 313.1C855.5 309.8 858.8 307.0 863.5 303.4C868.3 299.8 877.3 293.3 880.0 291.3" stroke-width="1.33" opacity="0.43"/>
<path d="M741.4 255.0C741.6 257.0 742.6 263.1 742.6 267.1C742.6 271.1 740.6 275.2 741.4 279.2C742.2 283.2 745.2 287.7 747.4 291.3C749.6 294.9 753.5 299.4 754.7 301.0" stroke-width="1.23" opacity="0.33"/>
<path d="M764.4 276.8C764.2 278.4 763.5 283.2 763.1 286.5C762.7 289.7 762.1 294.5 761.9 296.1" stroke-width="1.23" opacity="0.33"/>
<path d="M814.0 258.6C814.2 260.0 814.8 264.5 815.2 267.1C815.6 269.7 816.2 273.1 816.4 274.4" stroke-width="1.23" opacity="0.33"/>
<path d="M880.0 294.9C882.0 294.1 888.1 292.3 892.1 290.1C896.1 287.9 900.2 284.6 904.2 281.6C908.2 278.6 912.3 274.8 916.3 271.9C920.3 269.1 924.4 267.1 928.4 264.7C932.4 262.3 938.5 258.6 940.5 257.4" stroke-width="1.52" opacity="0.52"/>
<path d="M880.0 311.9C882.0 311.2 888.1 309.8 892.1 308.2C896.1 306.6 899.6 304.8 904.2 302.2C908.8 299.6 914.9 295.3 919.9 292.5C925.0 289.7 929.8 287.7 934.4 285.2C939.1 282.8 943.1 280.2 947.7 278.0C952.4 275.8 957.4 273.3 962.3 271.9C967.1 270.5 972.3 270.7 976.8 269.5C981.2 268.3 985.6 266.7 988.9 264.7C992.1 262.7 994.9 258.6 996.1 257.4" stroke-width="1.61" opacity="0.57"/>
<path d="M892.1 287.7C893.7 285.8 898.1 280.2 901.8 276.8C905.4 273.3 909.8 270.1 913.9 267.1C917.9 264.1 924.0 260.0 926.0 258.6" stroke-width="1.33" opacity="0.47"/>
<path d="M996.1 257.4C997.3 258.2 1000.6 260.0 1003.4 262.3C1006.2 264.5 1010.6 268.5 1013.1 270.7C1015.5 272.9 1017.1 274.8 1017.9 275.6" stroke-width="1.42" opacity="0.47"/>
<path d="M1001.0 259.8C1002.6 260.4 1007.0 262.5 1010.6 263.5C1014.3 264.5 1020.7 265.5 1022.7 265.9" stroke-width="1.33" opacity="0.43"/>
<path d="M979.2 271.9C978.4 273.5 976.0 278.2 974.4 281.6C972.7 285.0 971.1 288.9 969.5 292.5C967.9 296.1 966.3 300.2 964.7 303.4C963.1 306.6 961.9 309.4 959.8 311.9C957.8 314.3 953.8 316.9 952.6 317.9" stroke-width="1.61" opacity="0.57"/>
<path d="M952.6 299.8C954.6 300.8 960.6 304.6 964.7 305.8C968.7 307.0 972.7 307.4 976.8 307.0C980.8 306.6 985.6 303.2 988.9 303.4C992.1 303.6 995.3 306.4 996.1 308.2C996.9 310.0 994.1 313.3 993.7 314.3" stroke-width="1.33" opacity="0.43"/>
<path d="M1001.0 282.8C1001.8 284.2 1004.2 288.7 1005.8 291.3C1007.4 293.9 1009.4 295.7 1010.6 298.5C1011.9 301.4 1012.1 305.8 1013.1 308.2C1014.1 310.6 1014.7 313.9 1016.7 313.1C1018.7 312.3 1022.7 304.6 1025.2 303.4C1027.6 302.2 1030.2 305.4 1031.2 305.8" stroke-width="1.42" opacity="0.47"/>
<path d="M1036.0 279.2C1036.9 280.4 1039.5 283.6 1040.9 286.5C1042.3 289.3 1043.5 292.9 1044.5 296.1C1045.5 299.4 1046.5 304.2 1046.9 305.8" stroke-width="1.33" opacity="0.38"/>
<path d="M904.2 327.6C905.8 328.4 911.0 332.4 913.9 332.4C916.7 332.4 918.7 330.0 921.1 327.6C923.5 325.2 925.6 320.3 928.4 317.9C931.2 315.5 934.8 313.5 938.1 313.1C941.3 312.7 946.1 315.1 947.7 315.5" stroke-width="1.33" opacity="0.43"/>
<path d="M880.0 332.4C882.0 330.8 888.1 325.6 892.1 322.7C896.1 319.9 900.2 317.9 904.2 315.5C908.2 313.1 914.3 309.4 916.3 308.2" stroke-width="1.33" opacity="0.43"/>
<path d="M880.0 278.0C882.4 276.6 889.7 272.3 894.5 269.5C899.4 266.7 905.0 263.5 909.0 261.0C913.1 258.6 917.1 256.0 918.7 255.0" stroke-width="1.33" opacity="0.43"/>
<path d="M926.0 291.3C928.0 291.9 934.4 293.5 938.1 294.9C941.7 296.3 944.5 299.4 947.7 299.8C951.0 300.2 955.8 297.7 957.4 297.3" stroke-width="1.23" opacity="0.38"/>
<path d="M930.8 255.0C932.8 256.2 939.3 259.8 942.9 262.3C946.5 264.7 951.0 268.3 952.6 269.5" stroke-width="1.23" opacity="0.38"/>
<path d="M955.0 255.0C955.4 256.6 957.8 261.7 957.4 264.7C957.0 267.7 953.4 271.7 952.6 273.1" stroke-width="1.23" opacity="0.38"/>
</g>
<path d="M688.1 255.0C689.2 248.1 687.1 247.1 691.2 234.1C695.2 221.1 694.0 227.3 700.2 216.0C706.5 204.7 702.3 210.3 709.9 200.2C717.6 190.2 714.0 194.6 723.2 185.7C732.5 176.9 728.1 181.3 737.7 173.6C747.4 166.0 742.6 169.2 752.3 162.7C761.9 156.3 757.9 159.1 766.8 154.3C775.6 149.4 770.8 153.1 778.9 148.2C786.9 143.4 782.9 144.6 791.0 139.8C799.0 134.9 795.0 137.3 803.1 133.7C811.1 130.1 807.1 132.5 815.2 128.9C823.2 125.2 819.2 125.8 827.3 122.8C835.3 119.8 831.3 120.0 839.4 119.8C847.4 119.6 845.0 120.4 851.5 122.2C857.9 124.0 853.1 127.5 858.7 125.2C864.4 123.0 861.3 120.6 868.4 115.6C875.5 110.5 872.9 111.5 880.0 110.1C887.1 108.7 884.0 109.9 889.7 111.3C895.3 112.7 892.9 114.8 896.9 114.4C901.0 114.0 896.9 112.5 901.8 110.1C906.6 107.7 905.4 107.5 911.5 107.1C917.5 106.7 914.3 106.5 919.9 108.9C925.6 111.3 922.3 111.3 928.4 114.4C934.4 117.4 931.6 115.6 938.1 118.0C944.5 120.4 942.5 118.8 947.7 121.6C953.0 124.4 951.0 122.8 953.8 126.5C956.6 130.1 955.0 128.5 956.2 132.5C957.4 136.5 953.0 136.7 957.4 138.5C961.9 140.4 963.1 137.3 969.5 137.9C976.0 138.5 972.3 137.7 976.8 140.4C981.2 143.0 978.8 141.6 982.8 145.8C986.9 150.0 984.8 147.8 988.9 153.1C992.9 158.3 990.9 156.7 994.9 161.5C999.0 166.4 998.1 164.0 1001.0 167.6C1003.8 171.2 1001.8 168.8 1003.4 172.4C1005.0 176.0 1002.6 174.8 1005.8 178.5C1009.0 182.1 1008.6 180.5 1013.1 183.3C1017.5 186.1 1015.1 183.3 1019.1 186.9C1023.1 190.6 1022.5 189.4 1025.2 194.2C1027.8 199.0 1026.2 196.6 1027.0 201.5C1027.8 206.3 1025.8 203.9 1027.6 208.7C1029.4 213.5 1028.8 211.1 1032.4 216.0C1036.0 220.8 1034.4 218.4 1038.5 223.2C1042.5 228.1 1040.9 225.2 1044.5 230.5C1048.1 235.7 1046.5 233.3 1049.4 239.0C1052.2 244.6 1051.0 242.1 1053.0 247.4C1055.0 252.8 1053.0 249.7 1055.4 255.0C1057.8 260.4 1058.0 257.4 1060.2 263.5C1062.5 269.5 1061.7 266.3 1062.1 273.1C1062.5 280.0 1062.5 276.8 1061.5 284.0C1060.4 291.3 1061.0 287.7 1059.0 294.9C1057.0 302.2 1058.2 299.4 1055.4 305.8C1052.6 312.3 1054.2 309.8 1050.6 314.3C1046.9 318.7 1048.5 317.5 1044.5 319.1C1040.5 320.7 1042.1 319.9 1038.5 319.1C1034.8 318.3 1036.9 316.7 1033.6 316.7C1030.4 316.7 1032.4 317.5 1028.8 319.1C1025.2 320.7 1026.8 321.1 1022.7 321.5C1018.7 321.9 1020.7 321.9 1016.7 320.3C1012.7 318.7 1015.1 318.1 1010.6 316.7C1006.2 315.3 1008.6 316.1 1003.4 316.1C998.1 316.1 1000.6 315.7 994.9 316.7C989.3 317.7 992.5 317.7 986.5 319.1C980.4 320.5 983.2 319.3 976.8 320.9C970.3 322.5 973.5 321.3 967.1 324.0C960.6 326.6 963.9 326.4 957.4 328.8C951.0 331.2 954.2 330.0 947.7 331.2C941.3 332.4 943.7 331.2 938.1 332.4C932.4 333.6 936.0 332.6 930.8 334.8C925.6 337.1 928.8 337.3 922.3 339.1C915.9 340.9 918.3 338.9 911.5 340.3C904.6 341.7 908.2 340.7 901.8 343.3C895.3 345.9 899.4 344.1 892.1 348.1C884.8 352.2 887.5 350.2 880.0 355.4C872.5 360.6 875.9 359.0 869.6 363.9C863.3 368.7 866.0 365.9 861.1 369.9C856.3 374.0 858.7 371.9 855.1 376.0C851.5 380.0 854.3 378.6 850.2 382.0C846.2 385.4 848.6 384.4 843.0 386.2C837.3 388.1 839.8 387.5 833.3 387.5C826.9 387.5 829.7 387.7 823.6 386.2C817.6 384.8 820.4 385.8 815.2 383.2C809.9 380.6 812.7 381.2 807.9 378.4C803.1 375.6 805.5 377.2 800.6 374.8C795.8 372.3 797.8 374.0 793.4 371.1C789.0 368.3 790.4 370.3 787.3 366.3C784.3 362.3 785.3 363.9 784.3 359.0C783.3 354.2 783.7 356.6 784.3 351.8C784.9 346.9 784.7 349.4 786.1 344.5C787.5 339.7 789.4 339.1 788.5 337.3C787.7 335.4 788.1 337.5 783.7 339.1C779.3 340.7 781.7 340.3 775.2 342.1C768.8 343.9 772.0 343.5 764.4 344.5C756.7 345.5 760.3 345.5 752.3 345.1C744.2 344.7 748.2 344.7 740.2 343.3C732.1 341.9 736.1 342.5 728.1 340.9C720.0 339.3 723.6 340.9 716.0 338.5C708.3 336.0 711.1 337.7 705.1 333.6C699.0 329.6 701.5 330.8 697.8 326.4C694.2 321.9 696.6 325.2 694.2 320.3C691.8 315.5 693.4 317.5 690.6 311.9C687.7 306.2 688.5 309.0 685.7 303.4C682.9 297.7 683.5 301.0 682.1 294.9C680.7 288.9 681.5 292.5 681.5 285.2C681.5 278.0 681.5 280.8 682.1 273.1C682.7 265.5 681.3 268.3 683.3 262.3C685.3 256.2 686.5 257.4 688.1 255.0C689.8 252.6 687.1 262.0 688.1 255.0Z" fill="none" stroke="#8a8a8a" stroke-width="7" opacity="0.35" filter="url(#bl2)"/>
</g>
<path d="M688.1 255.0C689.2 248.1 687.1 247.1 691.2 234.1C695.2 221.1 694.0 227.3 700.2 216.0C706.5 204.7 702.3 210.3 709.9 200.2C717.6 190.2 714.0 194.6 723.2 185.7C732.5 176.9 728.1 181.3 737.7 173.6C747.4 166.0 742.6 169.2 752.3 162.7C761.9 156.3 757.9 159.1 766.8 154.3C775.6 149.4 770.8 153.1 778.9 148.2C786.9 143.4 782.9 144.6 791.0 139.8C799.0 134.9 795.0 137.3 803.1 133.7C811.1 130.1 807.1 132.5 815.2 128.9C823.2 125.2 819.2 125.8 827.3 122.8C835.3 119.8 831.3 120.0 839.4 119.8C847.4 119.6 845.0 120.4 851.5 122.2C857.9 124.0 853.1 127.5 858.7 125.2C864.4 123.0 861.3 120.6 868.4 115.6C875.5 110.5 872.9 111.5 880.0 110.1C887.1 108.7 884.0 109.9 889.7 111.3C895.3 112.7 892.9 114.8 896.9 114.4C901.0 114.0 896.9 112.5 901.8 110.1C906.6 107.7 905.4 107.5 911.5 107.1C917.5 106.7 914.3 106.5 919.9 108.9C925.6 111.3 922.3 111.3 928.4 114.4C934.4 117.4 931.6 115.6 938.1 118.0C944.5 120.4 942.5 118.8 947.7 121.6C953.0 124.4 951.0 122.8 953.8 126.5C956.6 130.1 955.0 128.5 956.2 132.5C957.4 136.5 953.0 136.7 957.4 138.5C961.9 140.4 963.1 137.3 969.5 137.9C976.0 138.5 972.3 137.7 976.8 140.4C981.2 143.0 978.8 141.6 982.8 145.8C986.9 150.0 984.8 147.8 988.9 153.1C992.9 158.3 990.9 156.7 994.9 161.5C999.0 166.4 998.1 164.0 1001.0 167.6C1003.8 171.2 1001.8 168.8 1003.4 172.4C1005.0 176.0 1002.6 174.8 1005.8 178.5C1009.0 182.1 1008.6 180.5 1013.1 183.3C1017.5 186.1 1015.1 183.3 1019.1 186.9C1023.1 190.6 1022.5 189.4 1025.2 194.2C1027.8 199.0 1026.2 196.6 1027.0 201.5C1027.8 206.3 1025.8 203.9 1027.6 208.7C1029.4 213.5 1028.8 211.1 1032.4 216.0C1036.0 220.8 1034.4 218.4 1038.5 223.2C1042.5 228.1 1040.9 225.2 1044.5 230.5C1048.1 235.7 1046.5 233.3 1049.4 239.0C1052.2 244.6 1051.0 242.1 1053.0 247.4C1055.0 252.8 1053.0 249.7 1055.4 255.0C1057.8 260.4 1058.0 257.4 1060.2 263.5C1062.5 269.5 1061.7 266.3 1062.1 273.1C1062.5 280.0 1062.5 276.8 1061.5 284.0C1060.4 291.3 1061.0 287.7 1059.0 294.9C1057.0 302.2 1058.2 299.4 1055.4 305.8C1052.6 312.3 1054.2 309.8 1050.6 314.3C1046.9 318.7 1048.5 317.5 1044.5 319.1C1040.5 320.7 1042.1 319.9 1038.5 319.1C1034.8 318.3 1036.9 316.7 1033.6 316.7C1030.4 316.7 1032.4 317.5 1028.8 319.1C1025.2 320.7 1026.8 321.1 1022.7 321.5C1018.7 321.9 1020.7 321.9 1016.7 320.3C1012.7 318.7 1015.1 318.1 1010.6 316.7C1006.2 315.3 1008.6 316.1 1003.4 316.1C998.1 316.1 1000.6 315.7 994.9 316.7C989.3 317.7 992.5 317.7 986.5 319.1C980.4 320.5 983.2 319.3 976.8 320.9C970.3 322.5 973.5 321.3 967.1 324.0C960.6 326.6 963.9 326.4 957.4 328.8C951.0 331.2 954.2 330.0 947.7 331.2C941.3 332.4 943.7 331.2 938.1 332.4C932.4 333.6 936.0 332.6 930.8 334.8C925.6 337.1 928.8 337.3 922.3 339.1C915.9 340.9 918.3 338.9 911.5 340.3C904.6 341.7 908.2 340.7 901.8 343.3C895.3 345.9 899.4 344.1 892.1 348.1C884.8 352.2 887.5 350.2 880.0 355.4C872.5 360.6 875.9 359.0 869.6 363.9C863.3 368.7 866.0 365.9 861.1 369.9C856.3 374.0 858.7 371.9 855.1 376.0C851.5 380.0 854.3 378.6 850.2 382.0C846.2 385.4 848.6 384.4 843.0 386.2C837.3 388.1 839.8 387.5 833.3 387.5C826.9 387.5 829.7 387.7 823.6 386.2C817.6 384.8 820.4 385.8 815.2 383.2C809.9 380.6 812.7 381.2 807.9 378.4C803.1 375.6 805.5 377.2 800.6 374.8C795.8 372.3 797.8 374.0 793.4 371.1C789.0 368.3 790.4 370.3 787.3 366.3C784.3 362.3 785.3 363.9 784.3 359.0C783.3 354.2 783.7 356.6 784.3 351.8C784.9 346.9 784.7 349.4 786.1 344.5C787.5 339.7 789.4 339.1 788.5 337.3C787.7 335.4 788.1 337.5 783.7 339.1C779.3 340.7 781.7 340.3 775.2 342.1C768.8 343.9 772.0 343.5 764.4 344.5C756.7 345.5 760.3 345.5 752.3 345.1C744.2 344.7 748.2 344.7 740.2 343.3C732.1 341.9 736.1 342.5 728.1 340.9C720.0 339.3 723.6 340.9 716.0 338.5C708.3 336.0 711.1 337.7 705.1 333.6C699.0 329.6 701.5 330.8 697.8 326.4C694.2 321.9 696.6 325.2 694.2 320.3C691.8 315.5 693.4 317.5 690.6 311.9C687.7 306.2 688.5 309.0 685.7 303.4C682.9 297.7 683.5 301.0 682.1 294.9C680.7 288.9 681.5 292.5 681.5 285.2C681.5 278.0 681.5 280.8 682.1 273.1C682.7 265.5 681.3 268.3 683.3 262.3C685.3 256.2 686.5 257.4 688.1 255.0C689.8 252.6 687.1 262.0 688.1 255.0Z" fill="none" stroke="#9c9c9c" stroke-width="1.3" opacity="0.85" filter="url(#bl0)"/>
</g>
<linearGradient id="lg2" gradientUnits="userSpaceOnUse" x1="786.5" y1="758.4" x2="1024.3" y2="643.7"><stop offset="0" stop-color="#d8b0b0" stop-opacity="0.25"/><stop offset="0.35" stop-color="#d09090" stop-opacity="0.4"/><stop offset="0.6" stop-color="#c06060" stop-opacity="0.6"/><stop offset="0.8" stop-color="#d09090" stop-opacity="0.45"/><stop offset="1" stop-color="#d8b0b0" stop-opacity="0.3"/></linearGradient>
<linearGradient id="lg3a" gradientUnits="userSpaceOnUse" x1="704.1" y1="1398.6" x2="927.5" y2="1252.9"><stop offset="0" stop-color="#b02828"/><stop offset="0.55" stop-color="#b44a4a" stop-opacity="0.85"/><stop offset="0.7" stop-color="#d09090" stop-opacity="0.55"/><stop offset="1" stop-color="#e0b0b0" stop-opacity="0.5"/></linearGradient>
<linearGradient id="lg3b" gradientUnits="userSpaceOnUse" x1="829.4" y1="1288.8" x2="1018.8" y2="1323.4"><stop offset="0" stop-color="#a83030"/><stop offset="0.6" stop-color="#b05050" stop-opacity="0.85"/><stop offset="0.8" stop-color="#d0a0a0" stop-opacity="0.6"/><stop offset="1" stop-color="#e0c0c0" stop-opacity="0.5"/></linearGradient>
<filter id="hblur" x="-2%" y="-2%" width="104%" height="104%"><feGaussianBlur stdDeviation="0.9"/></filter>
</defs>
<rect width="1749" height="2165" fill="#fff"/>
<!-- row 0 left heatmap -->
<clipPath id="hc1"><rect x="58.50" y="43.90" width="404.20" height="330.50"/></clipPath>
<g clip-path="url(#hc1)"><g>
<g id="hm1" transform="translate(58.50 43.90) scale(9.4000 7.6860)">
<rect x="-1" y="-1" width="45" height="45" fill="#5cd4bd"/>
<path fill="#4e3dfd" d="M2 0h1v1h-1zM28 0h1v1h-1zM13 1h1v1h-1zM0 2h1v1h-1zM7 2h1v1h-1zM13 3h1v1h-1zM24 4h1v1h-1zM7 5h1v1h-1zM22 5h1v1h-1zM7 6h1v1h-1zM2 7h1v1h-1zM5 7h2v1h-2zM19 10h1v1h-1zM28 12h1v1h-1zM35 12h1v1h-1zM1 13h1v1h-1zM3 13h1v1h-1zM16 15h1v1h-1zM19 15h1v1h-1zM40 15h1v1h-1zM15 16h1v1h-1zM17 16h1v1h-1zM24 16h2v1h-2zM16 17h1v1h-1zM10 19h1v1h-1zM15 19h1v1h-1zM5 22h1v1h-1zM4 24h1v1h-1zM16 24h1v1h-1zM27 24h1v1h-1zM16 25h1v1h-1zM26 25h1v1h-1zM25 26h1v1h-1zM24 27h1v1h-1zM35 27h1v1h-1zM0 28h1v1h-1zM12 28h1v1h-1zM12 35h1v1h-1zM27 35h1v1h-1zM37 36h1v1h-1zM36 37h1v1h-1zM15 40h1v1h-1z"/>
<path fill="#5668ff" d="M26 23h1v1h-1zM42 23h1v1h-1zM23 26h1v1h-1zM23 42h1v1h-1z"/>
<path fill="#4f7dff" d="M42 40h1v1h-1zM40 42h1v1h-1z"/>
<path fill="#4d89ff" d="M24 0h1v1h-1zM42 0h1v1h-1zM31 1h1v1h-1zM36 2h1v1h-1zM28 3h1v1h-1zM36 3h1v1h-1zM40 3h1v1h-1zM13 4h1v1h-1zM40 4h1v1h-1zM16 5h2v1h-2zM24 5h1v1h-1zM9 6h1v1h-1zM22 7h1v1h-1zM35 7h2v1h-2zM27 8h1v1h-1zM40 8h1v1h-1zM6 9h1v1h-1zM22 9h1v1h-1zM38 9h1v1h-1zM40 9h1v1h-1zM41 10h1v1h-1zM37 12h1v1h-1zM4 13h1v1h-1zM27 13h1v1h-1zM22 14h1v1h-1zM24 14h1v1h-1zM31 14h1v1h-1zM39 14h1v1h-1zM21 15h1v1h-1zM24 15h1v1h-1zM32 15h1v1h-1zM38 15h1v1h-1zM5 16h1v1h-1zM21 16h1v1h-1zM27 16h1v1h-1zM40 16h1v1h-1zM5 17h1v1h-1zM19 17h2v1h-2zM22 17h1v1h-1zM24 17h1v1h-1zM26 17h1v1h-1zM39 17h1v1h-1zM42 17h1v1h-1zM33 18h2v1h-2zM17 19h1v1h-1zM38 19h1v1h-1zM17 20h1v1h-1zM25 20h1v1h-1zM15 21h2v1h-2zM7 22h1v1h-1zM9 22h1v1h-1zM14 22h1v1h-1zM17 22h1v1h-1zM23 22h2v1h-2zM26 22h1v1h-1zM22 23h1v1h-1zM0 24h1v1h-1zM5 24h1v1h-1zM14 24h2v1h-2zM17 24h1v1h-1zM22 24h1v1h-1zM25 24h2v1h-2zM31 24h1v1h-1zM40 24h1v1h-1zM20 25h1v1h-1zM24 25h1v1h-1zM17 26h1v1h-1zM22 26h1v1h-1zM24 26h1v1h-1zM33 26h1v1h-1zM37 26h1v1h-1zM8 27h1v1h-1zM13 27h1v1h-1zM16 27h1v1h-1zM36 27h2v1h-2zM3 28h1v1h-1zM32 28h1v1h-1zM34 28h1v1h-1zM37 28h1v1h-1zM37 29h1v1h-1zM32 30h1v1h-1zM1 31h1v1h-1zM14 31h1v1h-1zM24 31h1v1h-1zM15 32h1v1h-1zM28 32h1v1h-1zM30 32h1v1h-1zM34 32h1v1h-1zM40 32h1v1h-1zM18 33h1v1h-1zM26 33h1v1h-1zM34 33h1v1h-1zM18 34h1v1h-1zM28 34h1v1h-1zM32 34h2v1h-2zM39 34h1v1h-1zM7 35h1v1h-1zM36 35h1v1h-1zM39 35h1v1h-1zM2 36h2v1h-2zM7 36h1v1h-1zM27 36h1v1h-1zM35 36h1v1h-1zM12 37h1v1h-1zM26 37h4v1h-4zM9 38h1v1h-1zM15 38h1v1h-1zM19 38h1v1h-1zM42 38h1v1h-1zM14 39h1v1h-1zM17 39h1v1h-1zM34 39h2v1h-2zM3 40h2v1h-2zM8 40h2v1h-2zM16 40h1v1h-1zM24 40h1v1h-1zM32 40h1v1h-1zM10 41h1v1h-1zM0 42h1v1h-1zM17 42h1v1h-1zM38 42h1v1h-1z"/>
<path fill="#4c9cf4" d="M16 0h1v1h-1zM5 1h1v1h-1zM6 3h1v1h-1zM6 4h1v1h-1zM1 5h1v1h-1zM8 5h1v1h-1zM10 5h1v1h-1zM3 6h2v1h-2zM5 8h1v1h-1zM14 8h1v1h-1zM14 9h1v1h-1zM5 10h1v1h-1zM14 10h1v1h-1zM17 10h1v1h-1zM8 14h3v1h-3zM19 14h1v1h-1zM0 16h1v1h-1zM10 17h1v1h-1zM14 19h1v1h-1zM36 22h1v1h-1zM40 22h1v1h-1zM38 24h1v1h-1zM39 25h1v1h-1zM39 26h1v1h-1zM30 28h1v1h-1zM28 30h1v1h-1zM22 36h1v1h-1zM42 36h1v1h-1zM24 38h1v1h-1zM25 39h2v1h-2zM22 40h1v1h-1zM36 42h1v1h-1z"/>
<path fill="#4fafe1" d="M1 0h1v1h-1zM5 0h1v1h-1zM7 0h1v1h-1zM12 0h1v1h-1zM15 0h1v1h-1zM18 0h1v1h-1zM21 0h2v1h-2zM27 0h1v1h-1zM30 0h1v1h-1zM33 0h1v1h-1zM36 0h1v1h-1zM0 1h1v1h-1zM16 1h1v1h-1zM23 1h2v1h-2zM28 1h1v1h-1zM3 2h1v1h-1zM6 2h1v1h-1zM13 2h1v1h-1zM15 2h1v1h-1zM22 2h1v1h-1zM27 2h2v1h-2zM30 2h1v1h-1zM39 2h1v1h-1zM41 2h2v1h-2zM2 3h1v1h-1zM5 3h1v1h-1zM10 3h2v1h-2zM16 3h1v1h-1zM18 3h1v1h-1zM22 3h1v1h-1zM24 3h1v1h-1zM34 3h1v1h-1zM38 3h2v1h-2zM12 4h1v1h-1zM18 4h1v1h-1zM27 4h2v1h-2zM35 4h1v1h-1zM0 5h1v1h-1zM3 5h1v1h-1zM9 5h1v1h-1zM25 5h1v1h-1zM36 5h1v1h-1zM39 5h3v1h-3zM2 6h1v1h-1zM11 6h3v1h-3zM18 6h1v1h-1zM24 6h1v1h-1zM30 6h1v1h-1zM33 6h1v1h-1zM0 7h1v1h-1zM9 7h1v1h-1zM15 7h1v1h-1zM18 7h1v1h-1zM24 7h1v1h-1zM27 7h1v1h-1zM33 7h1v1h-1zM41 7h1v1h-1zM10 8h1v1h-1zM24 8h1v1h-1zM35 8h2v1h-2zM42 8h1v1h-1zM5 9h1v1h-1zM7 9h1v1h-1zM10 9h1v1h-1zM34 9h1v1h-1zM36 9h1v1h-1zM39 9h1v1h-1zM3 10h1v1h-1zM8 10h2v1h-2zM12 10h1v1h-1zM15 10h1v1h-1zM38 10h1v1h-1zM40 10h1v1h-1zM3 11h1v1h-1zM6 11h1v1h-1zM12 11h1v1h-1zM0 12h1v1h-1zM4 12h1v1h-1zM6 12h1v1h-1zM10 12h2v1h-2zM18 12h1v1h-1zM24 12h1v1h-1zM26 12h1v1h-1zM33 12h1v1h-1zM38 12h1v1h-1zM40 12h1v1h-1zM2 13h1v1h-1zM6 13h1v1h-1zM17 13h1v1h-1zM22 13h1v1h-1zM28 13h1v1h-1zM35 13h1v1h-1zM37 13h2v1h-2zM42 13h1v1h-1zM16 14h2v1h-2zM23 14h1v1h-1zM27 14h1v1h-1zM36 14h1v1h-1zM41 14h1v1h-1zM0 15h1v1h-1zM2 15h1v1h-1zM7 15h1v1h-1zM10 15h1v1h-1zM20 15h1v1h-1zM22 15h2v1h-2zM25 15h1v1h-1zM29 15h1v1h-1zM42 15h1v1h-1zM1 16h1v1h-1zM3 16h1v1h-1zM14 16h1v1h-1zM19 16h1v1h-1zM22 16h2v1h-2zM29 16h3v1h-3zM34 16h2v1h-2zM41 16h1v1h-1zM13 17h2v1h-2zM30 17h1v1h-1zM33 17h2v1h-2zM0 18h1v1h-1zM3 18h2v1h-2zM6 18h2v1h-2zM12 18h1v1h-1zM24 18h1v1h-1zM28 18h3v1h-3zM35 18h1v1h-1zM42 18h1v1h-1zM16 19h1v1h-1zM22 19h1v1h-1zM24 19h1v1h-1zM36 19h1v1h-1zM40 19h1v1h-1zM15 20h1v1h-1zM0 21h1v1h-1zM24 21h1v1h-1zM36 21h1v1h-1zM0 22h1v1h-1zM2 22h2v1h-2zM13 22h1v1h-1zM15 22h2v1h-2zM19 22h1v1h-1zM42 22h1v1h-1zM1 23h1v1h-1zM14 23h3v1h-3zM24 23h1v1h-1zM27 23h1v1h-1zM39 23h1v1h-1zM1 24h1v1h-1zM3 24h1v1h-1zM6 24h3v1h-3zM12 24h1v1h-1zM18 24h2v1h-2zM21 24h1v1h-1zM23 24h1v1h-1zM29 24h2v1h-2zM37 24h1v1h-1zM41 24h1v1h-1zM5 25h1v1h-1zM15 25h1v1h-1zM42 25h1v1h-1zM12 26h1v1h-1zM27 26h1v1h-1zM0 27h1v1h-1zM2 27h1v1h-1zM4 27h1v1h-1zM7 27h1v1h-1zM14 27h1v1h-1zM23 27h1v1h-1zM26 27h1v1h-1zM33 27h1v1h-1zM39 27h1v1h-1zM41 27h1v1h-1zM1 28h2v1h-2zM4 28h1v1h-1zM13 28h1v1h-1zM18 28h1v1h-1zM40 28h2v1h-2zM15 29h2v1h-2zM18 29h1v1h-1zM24 29h1v1h-1zM36 29h1v1h-1zM40 29h1v1h-1zM0 30h1v1h-1zM2 30h1v1h-1zM6 30h1v1h-1zM16 30h3v1h-3zM24 30h1v1h-1zM31 30h1v1h-1zM16 31h1v1h-1zM30 31h1v1h-1zM36 32h1v1h-1zM0 33h1v1h-1zM6 33h2v1h-2zM12 33h1v1h-1zM17 33h1v1h-1zM27 33h1v1h-1zM3 34h1v1h-1zM9 34h1v1h-1zM16 34h2v1h-2zM36 34h1v1h-1zM40 34h1v1h-1zM4 35h1v1h-1zM8 35h1v1h-1zM13 35h1v1h-1zM16 35h1v1h-1zM18 35h1v1h-1zM0 36h1v1h-1zM5 36h1v1h-1zM8 36h2v1h-2zM14 36h1v1h-1zM19 36h1v1h-1zM21 36h1v1h-1zM29 36h1v1h-1zM32 36h1v1h-1zM34 36h1v1h-1zM39 36h2v1h-2zM13 37h1v1h-1zM24 37h1v1h-1zM39 37h1v1h-1zM42 37h1v1h-1zM3 38h1v1h-1zM10 38h1v1h-1zM12 38h2v1h-2zM39 38h1v1h-1zM2 39h2v1h-2zM5 39h1v1h-1zM9 39h1v1h-1zM23 39h1v1h-1zM27 39h1v1h-1zM36 39h3v1h-3zM40 39h1v1h-1zM5 40h1v1h-1zM10 40h1v1h-1zM12 40h1v1h-1zM19 40h1v1h-1zM28 40h2v1h-2zM34 40h1v1h-1zM36 40h1v1h-1zM39 40h1v1h-1zM2 41h1v1h-1zM5 41h1v1h-1zM7 41h1v1h-1zM14 41h1v1h-1zM16 41h1v1h-1zM24 41h1v1h-1zM27 41h2v1h-2zM2 42h1v1h-1zM8 42h1v1h-1zM13 42h1v1h-1zM15 42h1v1h-1zM18 42h1v1h-1zM22 42h1v1h-1zM25 42h1v1h-1zM37 42h1v1h-1z"/>
<path fill="#56c3cd" d="M25 21h2v1h-2zM21 25h1v1h-1zM21 26h1v1h-1zM42 41h1v1h-1zM41 42h1v1h-1z"/>
<path fill="#59cbc6" d="M6 1h1v1h-1zM5 2h1v1h-1zM16 4h1v1h-1zM2 5h1v1h-1zM1 6h1v1h-1zM14 7h1v1h-1zM12 9h1v1h-1zM13 10h1v1h-1zM18 10h1v1h-1zM9 12h1v1h-1zM15 12h1v1h-1zM10 13h1v1h-1zM7 14h1v1h-1zM12 15h1v1h-1zM4 16h1v1h-1zM10 18h1v1h-1zM38 21h1v1h-1zM38 22h1v1h-1zM38 23h1v1h-1zM40 23h1v1h-1zM39 24h1v1h-1zM38 25h1v1h-1zM35 28h1v1h-1zM38 32h2v1h-2zM28 35h1v1h-1zM42 35h1v1h-1zM21 38h3v1h-3zM25 38h1v1h-1zM32 38h1v1h-1zM24 39h1v1h-1zM32 39h1v1h-1zM42 39h1v1h-1zM23 40h1v1h-1zM35 42h1v1h-1zM39 42h1v1h-1z"/>
<path fill="#65dda5" d="M12 2h1v1h-1zM17 2h1v1h-1zM17 3h1v1h-1zM11 4h1v1h-1zM15 4h1v1h-1zM15 5h1v1h-1zM10 6h1v1h-1zM12 7h1v1h-1zM19 7h1v1h-1zM6 10h1v1h-1zM4 11h1v1h-1zM2 12h1v1h-1zM7 12h1v1h-1zM4 15h2v1h-2zM2 17h2v1h-2zM7 19h1v1h-1zM20 19h1v1h-1zM19 20h1v1h-1zM28 22h2v1h-2zM32 22h1v1h-1zM39 22h1v1h-1zM25 23h1v1h-1zM29 23h2v1h-2zM41 23h1v1h-1zM23 25h1v1h-1zM38 27h1v1h-1zM22 28h1v1h-1zM38 28h1v1h-1zM22 29h2v1h-2zM23 30h1v1h-1zM37 30h1v1h-1zM22 32h1v1h-1zM42 32h1v1h-1zM30 37h1v1h-1zM27 38h2v1h-2zM22 39h1v1h-1zM23 41h1v1h-1zM32 42h1v1h-1z"/>
<path fill="#74e381" d="M4 0h1v1h-1zM23 0h1v1h-1zM25 0h2v1h-2zM35 0h1v1h-1zM41 0h1v1h-1zM3 1h1v1h-1zM15 1h1v1h-1zM20 1h1v1h-1zM26 1h1v1h-1zM29 1h2v1h-2zM37 1h1v1h-1zM42 1h1v1h-1zM19 2h3v1h-3zM29 2h1v1h-1zM31 2h1v1h-1zM1 3h1v1h-1zM7 3h1v1h-1zM9 3h1v1h-1zM12 3h1v1h-1zM21 3h1v1h-1zM31 3h1v1h-1zM33 3h1v1h-1zM0 4h1v1h-1zM7 4h1v1h-1zM21 4h2v1h-2zM37 4h1v1h-1zM39 4h1v1h-1zM26 5h1v1h-1zM30 5h2v1h-2zM42 5h1v1h-1zM8 6h1v1h-1zM17 6h1v1h-1zM19 6h1v1h-1zM23 6h1v1h-1zM25 6h1v1h-1zM29 6h1v1h-1zM31 6h1v1h-1zM3 7h2v1h-2zM10 7h1v1h-1zM20 7h1v1h-1zM23 7h1v1h-1zM28 7h1v1h-1zM37 7h3v1h-3zM6 8h1v1h-1zM13 8h1v1h-1zM15 8h2v1h-2zM22 8h1v1h-1zM30 8h1v1h-1zM33 8h1v1h-1zM39 8h1v1h-1zM3 9h1v1h-1zM11 9h1v1h-1zM25 9h2v1h-2zM37 9h1v1h-1zM41 9h1v1h-1zM7 10h1v1h-1zM32 10h1v1h-1zM34 10h1v1h-1zM39 10h1v1h-1zM9 11h1v1h-1zM13 11h1v1h-1zM30 11h1v1h-1zM35 11h1v1h-1zM40 11h1v1h-1zM3 12h1v1h-1zM13 12h2v1h-2zM17 12h1v1h-1zM19 12h1v1h-1zM23 12h1v1h-1zM30 12h1v1h-1zM8 13h1v1h-1zM11 13h2v1h-2zM14 13h1v1h-1zM23 13h1v1h-1zM26 13h1v1h-1zM30 13h2v1h-2zM33 13h1v1h-1zM41 13h1v1h-1zM12 14h2v1h-2zM18 14h1v1h-1zM29 14h1v1h-1zM35 14h1v1h-1zM37 14h1v1h-1zM1 15h1v1h-1zM8 15h1v1h-1zM28 15h1v1h-1zM41 15h1v1h-1zM8 16h1v1h-1zM20 16h1v1h-1zM28 16h1v1h-1zM6 17h1v1h-1zM12 17h1v1h-1zM25 17h1v1h-1zM28 17h1v1h-1zM14 18h1v1h-1zM25 18h1v1h-1zM36 18h2v1h-2zM39 18h1v1h-1zM2 19h1v1h-1zM6 19h1v1h-1zM12 19h1v1h-1zM23 19h1v1h-1zM25 19h1v1h-1zM42 19h1v1h-1zM1 20h2v1h-2zM7 20h1v1h-1zM16 20h1v1h-1zM24 20h1v1h-1zM27 20h1v1h-1zM32 20h1v1h-1zM2 21h3v1h-3zM22 21h2v1h-2zM30 21h1v1h-1zM39 21h2v1h-2zM4 22h1v1h-1zM8 22h1v1h-1zM21 22h1v1h-1zM25 22h1v1h-1zM0 23h1v1h-1zM6 23h2v1h-2zM12 23h2v1h-2zM19 23h1v1h-1zM21 23h1v1h-1zM20 24h1v1h-1zM28 24h1v1h-1zM33 24h1v1h-1zM42 24h1v1h-1zM0 25h1v1h-1zM6 25h1v1h-1zM9 25h1v1h-1zM17 25h3v1h-3zM22 25h1v1h-1zM0 26h2v1h-2zM5 26h1v1h-1zM9 26h1v1h-1zM13 26h1v1h-1zM30 26h1v1h-1zM20 27h1v1h-1zM29 27h1v1h-1zM31 27h1v1h-1zM34 27h1v1h-1zM42 27h1v1h-1zM7 28h1v1h-1zM15 28h3v1h-3zM24 28h1v1h-1zM1 29h2v1h-2zM6 29h1v1h-1zM14 29h1v1h-1zM27 29h1v1h-1zM33 29h1v1h-1zM35 29h1v1h-1zM38 29h1v1h-1zM1 30h1v1h-1zM5 30h1v1h-1zM8 30h1v1h-1zM11 30h3v1h-3zM21 30h1v1h-1zM26 30h1v1h-1zM33 30h1v1h-1zM35 30h1v1h-1zM2 31h2v1h-2zM5 31h2v1h-2zM13 31h1v1h-1zM27 31h1v1h-1zM32 31h1v1h-1zM34 31h2v1h-2zM10 32h1v1h-1zM20 32h1v1h-1zM31 32h1v1h-1zM33 32h1v1h-1zM3 33h1v1h-1zM8 33h1v1h-1zM13 33h1v1h-1zM24 33h1v1h-1zM29 33h2v1h-2zM32 33h1v1h-1zM10 34h1v1h-1zM27 34h1v1h-1zM31 34h1v1h-1zM35 34h1v1h-1zM37 34h1v1h-1zM0 35h1v1h-1zM11 35h1v1h-1zM14 35h1v1h-1zM29 35h3v1h-3zM34 35h1v1h-1zM18 36h1v1h-1zM1 37h1v1h-1zM4 37h1v1h-1zM7 37h1v1h-1zM9 37h1v1h-1zM14 37h1v1h-1zM18 37h1v1h-1zM34 37h1v1h-1zM7 38h1v1h-1zM29 38h1v1h-1zM4 39h1v1h-1zM7 39h2v1h-2zM10 39h1v1h-1zM18 39h1v1h-1zM21 39h1v1h-1zM11 40h1v1h-1zM21 40h1v1h-1zM0 41h1v1h-1zM9 41h1v1h-1zM13 41h1v1h-1zM15 41h1v1h-1zM1 42h1v1h-1zM5 42h1v1h-1zM19 42h1v1h-1zM24 42h1v1h-1zM27 42h1v1h-1z"/>
<path fill="#8cdd57" d="M11 2h1v1h-1zM17 4h1v1h-1zM2 11h1v1h-1zM4 17h1v1h-1zM41 22h1v1h-1zM29 28h1v1h-1zM28 29h1v1h-1zM34 30h1v1h-1zM38 30h1v1h-1zM30 34h1v1h-1zM30 38h1v1h-1zM22 41h1v1h-1z"/>
<path fill="#9ad84b" d="M21 12h1v1h-1zM12 21h1v1h-1zM34 21h2v1h-2zM21 34h1v1h-1zM21 35h1v1h-1z"/>
<path fill="#aad243" d="M9 1h1v1h-1zM32 1h1v1h-1zM41 1h1v1h-1zM25 2h2v1h-2zM34 2h1v1h-1zM8 3h1v1h-1zM23 3h1v1h-1zM29 3h2v1h-2zM5 4h1v1h-1zM10 4h1v1h-1zM23 4h1v1h-1zM26 4h1v1h-1zM34 4h1v1h-1zM42 4h1v1h-1zM4 5h1v1h-1zM29 5h1v1h-1zM32 5h1v1h-1zM15 6h1v1h-1zM21 6h2v1h-2zM21 7h1v1h-1zM25 7h1v1h-1zM30 7h3v1h-3zM42 7h1v1h-1zM3 8h1v1h-1zM11 8h1v1h-1zM19 8h1v1h-1zM29 8h1v1h-1zM1 9h1v1h-1zM23 9h1v1h-1zM30 9h2v1h-2zM4 10h1v1h-1zM28 10h1v1h-1zM8 11h1v1h-1zM16 11h1v1h-1zM26 11h1v1h-1zM29 11h1v1h-1zM32 11h2v1h-2zM36 11h1v1h-1zM31 12h1v1h-1zM26 14h1v1h-1zM28 14h1v1h-1zM33 14h1v1h-1zM6 15h1v1h-1zM37 15h1v1h-1zM11 16h1v1h-1zM23 18h1v1h-1zM41 18h1v1h-1zM8 19h1v1h-1zM26 19h1v1h-1zM21 20h1v1h-1zM26 20h1v1h-1zM6 21h2v1h-2zM20 21h1v1h-1zM31 21h1v1h-1zM37 21h1v1h-1zM6 22h1v1h-1zM3 23h2v1h-2zM9 23h1v1h-1zM18 23h1v1h-1zM31 23h1v1h-1zM33 23h2v1h-2zM35 24h1v1h-1zM2 25h1v1h-1zM7 25h1v1h-1zM29 25h3v1h-3zM36 25h1v1h-1zM2 26h1v1h-1zM4 26h1v1h-1zM11 26h1v1h-1zM14 26h1v1h-1zM19 26h2v1h-2zM31 26h1v1h-1zM35 26h1v1h-1zM38 26h1v1h-1zM41 26h2v1h-2zM10 28h1v1h-1zM14 28h1v1h-1zM36 28h1v1h-1zM39 28h1v1h-1zM3 29h1v1h-1zM5 29h1v1h-1zM8 29h1v1h-1zM11 29h1v1h-1zM25 29h1v1h-1zM31 29h2v1h-2zM3 30h1v1h-1zM7 30h1v1h-1zM9 30h1v1h-1zM25 30h1v1h-1zM42 30h1v1h-1zM7 31h1v1h-1zM9 31h1v1h-1zM12 31h1v1h-1zM21 31h1v1h-1zM23 31h1v1h-1zM25 31h2v1h-2zM29 31h1v1h-1zM37 31h1v1h-1zM40 31h1v1h-1zM1 32h1v1h-1zM5 32h1v1h-1zM7 32h1v1h-1zM11 32h1v1h-1zM29 32h1v1h-1zM11 33h1v1h-1zM14 33h1v1h-1zM23 33h1v1h-1zM38 33h1v1h-1zM41 33h1v1h-1zM2 34h1v1h-1zM4 34h1v1h-1zM23 34h1v1h-1zM24 35h1v1h-1zM26 35h1v1h-1zM11 36h1v1h-1zM25 36h1v1h-1zM28 36h1v1h-1zM15 37h1v1h-1zM21 37h1v1h-1zM31 37h1v1h-1zM40 37h2v1h-2zM26 38h1v1h-1zM33 38h1v1h-1zM28 39h1v1h-1zM31 40h1v1h-1zM37 40h1v1h-1zM1 41h1v1h-1zM18 41h1v1h-1zM26 41h1v1h-1zM33 41h1v1h-1zM37 41h1v1h-1zM4 42h1v1h-1zM7 42h1v1h-1zM26 42h1v1h-1zM30 42h1v1h-1z"/>
<path fill="#c6c939" d="M20 11h1v1h-1zM11 20h1v1h-1zM32 27h1v1h-1zM39 31h1v1h-1zM27 32h1v1h-1zM31 39h1v1h-1z"/>
<path fill="#dfb73d" d="M4 2h1v1h-1zM8 2h1v1h-1zM20 3h1v1h-1zM26 3h1v1h-1zM32 3h1v1h-1zM35 3h1v1h-1zM2 4h1v1h-1zM8 4h1v1h-1zM29 4h2v1h-2zM32 4h1v1h-1zM8 7h1v1h-1zM29 7h1v1h-1zM2 8h1v1h-1zM4 8h1v1h-1zM7 8h1v1h-1zM9 8h1v1h-1zM28 8h1v1h-1zM31 8h2v1h-2zM34 8h1v1h-1zM8 9h1v1h-1zM28 9h1v1h-1zM33 9h1v1h-1zM14 11h1v1h-1zM19 11h1v1h-1zM23 11h1v1h-1zM25 11h1v1h-1zM31 11h1v1h-1zM41 11h1v1h-1zM20 12h1v1h-1zM25 13h1v1h-1zM11 14h1v1h-1zM18 16h1v1h-1zM31 17h1v1h-1zM16 18h1v1h-1zM26 18h1v1h-1zM40 18h1v1h-1zM11 19h1v1h-1zM28 19h1v1h-1zM30 19h1v1h-1zM3 20h1v1h-1zM12 20h1v1h-1zM31 20h1v1h-1zM28 21h2v1h-2zM32 21h1v1h-1zM42 21h1v1h-1zM11 23h1v1h-1zM28 23h1v1h-1zM35 23h1v1h-1zM11 25h1v1h-1zM13 25h1v1h-1zM3 26h1v1h-1zM18 26h1v1h-1zM8 28h2v1h-2zM19 28h1v1h-1zM21 28h1v1h-1zM23 28h1v1h-1zM4 29h1v1h-1zM7 29h1v1h-1zM21 29h1v1h-1zM30 29h1v1h-1zM34 29h1v1h-1zM4 30h1v1h-1zM19 30h1v1h-1zM29 30h1v1h-1zM8 31h1v1h-1zM11 31h1v1h-1zM17 31h1v1h-1zM20 31h1v1h-1zM33 31h1v1h-1zM3 32h2v1h-2zM8 32h1v1h-1zM21 32h1v1h-1zM35 32h1v1h-1zM9 33h1v1h-1zM31 33h1v1h-1zM36 33h1v1h-1zM39 33h1v1h-1zM8 34h1v1h-1zM29 34h1v1h-1zM3 35h1v1h-1zM23 35h1v1h-1zM32 35h1v1h-1zM41 35h1v1h-1zM33 36h1v1h-1zM33 39h1v1h-1zM18 40h1v1h-1zM11 41h1v1h-1zM35 41h1v1h-1zM21 42h1v1h-1z"/>
<path fill="#e8fc3c" d="M31 4h1v1h-1zM21 9h1v1h-1zM31 10h1v1h-1zM30 20h1v1h-1zM9 21h1v1h-1zM20 30h1v1h-1zM4 31h1v1h-1zM10 31h1v1h-1z"/>
</g></g>
<use href="#hm1" filter="url(#hblur)" opacity="0.6"/>
</g>
<rect x="58.50" y="43.90" width="404.20" height="330.50" fill="none" stroke="#333333" stroke-width="1.3"/>
<path d="M147.80 374.40v-3.2M147.80 43.90v3.2M58.50 116.92h3.2M462.70 116.92h-3.2M241.80 374.40v-3.2M241.80 43.90v3.2M58.50 193.78h3.2M462.70 193.78h-3.2M335.80 374.40v-3.2M335.80 43.90v3.2M58.50 270.64h3.2M462.70 270.64h-3.2M429.80 374.40v-3.2M429.80 43.90v3.2M58.50 347.50h3.2M462.70 347.50h-3.2" stroke="#333333" stroke-width="1.2" fill="none"/>
<g font-family="Liberation Sans, Arial, Helvetica, sans-serif" font-size="33.2" fill="#000" stroke="#000" stroke-width="0.45" stroke-linejoin="round">
<text x="147.8" y="417.6" text-anchor="middle">10</text>
<text x="48.2" y="130.3" text-anchor="end">10</text>
<text x="241.8" y="417.6" text-anchor="middle">20</text>
<text x="48.2" y="207.2" text-anchor="end">20</text>
<text x="335.8" y="417.6" text-anchor="middle">30</text>
<text x="48.2" y="284.0" text-anchor="end">30</text>
<text x="429.8" y="417.6" text-anchor="middle">40</text>
<text x="48.2" y="360.9" text-anchor="end">40</text>
</g>
<rect x="473.40" y="43.90" width="22.40" height="330.50" fill="url(#cbg)" stroke="#262626" stroke-width="1.2"/>
<g font-family="Liberation Sans, Arial, Helvetica, sans-serif" font-size="29.9" fill="#000" stroke="#000" stroke-width="0.45" stroke-linejoin="round">
<text x="505.15" y="64.95">0.1</text>
<text x="505.15" y="143.55">0.05</text>
<text x="505.15" y="222.25">0</text>
<text x="505.15" y="300.85">-0.05</text>
<text x="505.15" y="379.45">-0.1</text>
</g>
<path d="M495.80 51.90h-3M495.80 130.50h-3M495.80 209.20h-3M495.80 287.80h-3M495.80 366.40h-3" stroke="#262626" stroke-width="1.2" fill="none"/>
<text x="102.28" y="29.30" font-family="Liberation Sans, Arial, Helvetica, sans-serif" font-size="37.17" stroke="#000" stroke-width="0.70" stroke-linejoin="round" >Mean PLV for</text>
<text x="338.09" y="29.90" font-family="Liberation Serif, Times New Roman, Times, serif" font-size="40.82" stroke="#000" stroke-width="0.50" stroke-linejoin="round" >SR-SF</text>
<text x="1182.78" y="27.90" font-family="Liberation Sans, Arial, Helvetica, sans-serif" font-size="36.66" stroke="#000" stroke-width="0.70" stroke-linejoin="round" >p-values&lt;0.05 (multiple correction)</text>
<text x="768.28" y="75.50" font-family="Liberation Serif, Times New Roman, Times, serif" font-size="58.18" stroke="#000" stroke-width="0.30" stroke-linejoin="round" >SR &gt; SF</text>
<!-- row 0 right pmap -->
<rect x="1238.70" y="43.90" width="450.60" height="330.50" fill="#4025b3"/>
<g transform="translate(1238.70 43.90) scale(10.4791 7.6860)" shape-rendering="crispEdges">
<path fill="#eefa3a" d="M0 0h1v1h-1zM1 1h1v1h-1zM2 2h1v1h-1zM3 3h1v1h-1zM4 4h1v1h-1zM5 5h1v1h-1zM6 6h1v1h-1zM7 7h1v1h-1zM8 8h1v1h-1zM9 9h1v1h-1zM10 10h1v1h-1zM11 11h1v1h-1zM12 12h1v1h-1zM13 13h1v1h-1zM14 14h1v1h-1zM15 15h1v1h-1zM16 16h1v1h-1zM17 17h1v1h-1zM18 18h1v1h-1zM19 19h1v1h-1zM20 20h1v1h-1zM21 21h1v1h-1zM22 22h1v1h-1zM23 23h1v1h-1zM24 24h1v1h-1zM25 25h1v1h-1zM26 26h1v1h-1zM27 27h1v1h-1zM28 28h1v1h-1zM29 29h1v1h-1zM30 30h1v1h-1zM31 31h1v1h-1zM32 32h1v1h-1zM33 33h1v1h-1zM34 34h1v1h-1zM35 35h1v1h-1zM36 36h1v1h-1zM37 37h1v1h-1zM38 38h1v1h-1zM39 39h1v1h-1zM40 40h1v1h-1zM41 41h1v1h-1zM42 42h1v1h-1zM21 9h1v1h-1zM9 21h1v1h-1z"/>
</g>
<rect x="1238.70" y="43.90" width="450.60" height="330.50" fill="none" stroke="#0e0e30" stroke-width="1.3"/>
<path d="M1338.25 374.40v-3.2M1338.25 43.90v3.2M1238.70 116.92h3.2M1689.30 116.92h-3.2M1443.04 374.40v-3.2M1443.04 43.90v3.2M1238.70 193.78h3.2M1689.30 193.78h-3.2M1547.83 374.40v-3.2M1547.83 43.90v3.2M1238.70 270.64h3.2M1689.30 270.64h-3.2M1652.62 374.40v-3.2M1652.62 43.90v3.2M1238.70 347.50h3.2M1689.30 347.50h-3.2" stroke="#0e0e30" stroke-width="1.2" fill="none"/>
<g font-family="Liberation Sans, Arial, Helvetica, sans-serif" font-size="33.2" fill="#000" stroke="#000" stroke-width="0.45" stroke-linejoin="round">
<text x="1338.3" y="417.6" text-anchor="middle">10</text>
<text x="1228.5" y="130.3" text-anchor="end">10</text>
<text x="1443.0" y="417.6" text-anchor="middle">20</text>
<text x="1228.5" y="207.2" text-anchor="end">20</text>
<text x="1547.8" y="417.6" text-anchor="middle">30</text>
<text x="1228.5" y="284.0" text-anchor="end">30</text>
<text x="1652.6" y="417.6" text-anchor="middle">40</text>
<text x="1228.5" y="360.9" text-anchor="end">40</text>
</g>
<!-- row 1 left heatmap -->
<clipPath id="hc2"><rect x="58.50" y="524.70" width="404.20" height="330.50"/></clipPath>
<g clip-path="url(#hc2)"><g>
<g id="hm2" transform="translate(58.50 524.70) scale(9.4000 7.6860)">
<rect x="-1" y="-1" width="45" height="45" fill="#5cd4bd"/>
<path fill="#4e3dfd" d="M28 0h1v1h-1zM16 4h1v1h-1zM24 4h1v1h-1zM36 4h1v1h-1zM9 6h1v1h-1zM6 9h1v1h-1zM19 10h1v1h-1zM37 10h1v1h-1zM19 15h1v1h-1zM4 16h1v1h-1zM17 16h1v1h-1zM25 16h1v1h-1zM34 16h1v1h-1zM16 17h1v1h-1zM22 17h1v1h-1zM42 17h1v1h-1zM10 19h1v1h-1zM15 19h1v1h-1zM37 20h1v1h-1zM41 20h1v1h-1zM17 22h1v1h-1zM42 23h1v1h-1zM4 24h1v1h-1zM16 25h1v1h-1zM37 27h1v1h-1zM0 28h1v1h-1zM40 32h1v1h-1zM16 34h1v1h-1zM4 36h1v1h-1zM10 37h1v1h-1zM20 37h1v1h-1zM27 37h1v1h-1zM42 39h1v1h-1zM32 40h1v1h-1zM20 41h1v1h-1zM42 41h1v1h-1zM17 42h1v1h-1zM23 42h1v1h-1zM39 42h1v1h-1zM41 42h1v1h-1z"/>
<path fill="#5668ff" d="M7 2h1v1h-1zM13 3h1v1h-1zM7 5h1v1h-1zM2 7h1v1h-1zM5 7h1v1h-1zM3 13h1v1h-1zM23 22h1v1h-1zM22 23h1v1h-1zM38 27h1v1h-1zM32 30h1v1h-1zM30 32h1v1h-1zM42 37h1v1h-1zM27 38h1v1h-1zM37 42h1v1h-1z"/>
<path fill="#4d89ff" d="M16 1h1v1h-1zM36 1h1v1h-1zM40 1h1v1h-1zM9 2h2v1h-2zM27 2h1v1h-1zM16 3h1v1h-1zM25 4h1v1h-1zM41 4h1v1h-1zM17 5h1v1h-1zM25 5h1v1h-1zM36 5h1v1h-1zM31 6h1v1h-1zM13 7h1v1h-1zM17 7h1v1h-1zM27 7h1v1h-1zM37 8h1v1h-1zM40 8h1v1h-1zM42 8h1v1h-1zM2 9h1v1h-1zM36 9h3v1h-3zM2 10h1v1h-1zM14 10h2v1h-2zM23 10h1v1h-1zM26 10h1v1h-1zM29 10h1v1h-1zM33 10h1v1h-1zM27 11h1v1h-1zM7 13h1v1h-1zM26 13h1v1h-1zM10 14h1v1h-1zM19 14h3v1h-3zM29 14h1v1h-1zM31 14h1v1h-1zM36 14h1v1h-1zM39 14h1v1h-1zM10 15h1v1h-1zM16 15h1v1h-1zM20 15h2v1h-2zM29 15h1v1h-1zM1 16h1v1h-1zM3 16h1v1h-1zM15 16h1v1h-1zM19 16h3v1h-3zM29 16h1v1h-1zM31 16h1v1h-1zM33 16h1v1h-1zM5 17h1v1h-1zM7 17h1v1h-1zM20 17h1v1h-1zM24 17h1v1h-1zM27 17h1v1h-1zM33 17h2v1h-2zM39 17h1v1h-1zM33 18h1v1h-1zM14 19h1v1h-1zM16 19h1v1h-1zM27 19h1v1h-1zM36 19h1v1h-1zM14 20h4v1h-4zM22 20h3v1h-3zM27 20h1v1h-1zM33 20h1v1h-1zM36 20h1v1h-1zM14 21h3v1h-3zM24 21h1v1h-1zM20 22h1v1h-1zM27 22h1v1h-1zM10 23h1v1h-1zM20 23h1v1h-1zM27 23h1v1h-1zM40 23h1v1h-1zM17 24h1v1h-1zM20 24h2v1h-2zM31 24h1v1h-1zM36 24h1v1h-1zM4 25h2v1h-2zM32 25h1v1h-1zM10 26h1v1h-1zM13 26h1v1h-1zM33 26h1v1h-1zM36 26h1v1h-1zM2 27h1v1h-1zM7 27h1v1h-1zM11 27h1v1h-1zM17 27h1v1h-1zM19 27h2v1h-2zM22 27h2v1h-2zM39 27h2v1h-2zM29 28h1v1h-1zM31 28h1v1h-1zM33 28h1v1h-1zM37 28h1v1h-1zM10 29h1v1h-1zM14 29h3v1h-3zM28 29h1v1h-1zM40 29h2v1h-2zM31 30h1v1h-1zM6 31h1v1h-1zM14 31h1v1h-1zM16 31h1v1h-1zM24 31h1v1h-1zM28 31h1v1h-1zM30 31h1v1h-1zM34 31h1v1h-1zM25 32h1v1h-1zM36 32h1v1h-1zM38 32h1v1h-1zM10 33h1v1h-1zM16 33h3v1h-3zM20 33h1v1h-1zM26 33h1v1h-1zM28 33h1v1h-1zM17 34h1v1h-1zM31 34h1v1h-1zM1 36h1v1h-1zM5 36h1v1h-1zM9 36h1v1h-1zM14 36h1v1h-1zM19 36h2v1h-2zM24 36h1v1h-1zM26 36h1v1h-1zM32 36h1v1h-1zM39 36h1v1h-1zM42 36h1v1h-1zM8 37h2v1h-2zM28 37h1v1h-1zM9 38h1v1h-1zM32 38h1v1h-1zM14 39h1v1h-1zM17 39h1v1h-1zM27 39h1v1h-1zM36 39h1v1h-1zM40 39h1v1h-1zM1 40h1v1h-1zM8 40h1v1h-1zM23 40h1v1h-1zM27 40h1v1h-1zM29 40h1v1h-1zM39 40h1v1h-1zM4 41h1v1h-1zM29 41h1v1h-1zM8 42h1v1h-1zM36 42h1v1h-1z"/>
<path fill="#4c9cf4" d="M20 5h1v1h-1zM15 7h1v1h-1zM12 9h1v1h-1zM15 9h1v1h-1zM12 10h1v1h-1zM9 12h2v1h-2zM7 15h1v1h-1zM9 15h1v1h-1zM19 18h1v1h-1zM18 19h1v1h-1zM20 19h1v1h-1zM5 20h1v1h-1zM19 20h1v1h-1zM42 22h1v1h-1zM42 25h1v1h-1zM34 28h1v1h-1zM41 32h1v1h-1zM37 33h1v1h-1zM28 34h1v1h-1zM33 37h1v1h-1zM39 37h1v1h-1zM42 38h1v1h-1zM37 39h1v1h-1zM32 41h1v1h-1zM22 42h1v1h-1zM25 42h1v1h-1zM38 42h1v1h-1z"/>
<path fill="#4da5eb" d="M21 10h1v1h-1zM10 21h1v1h-1zM36 21h1v1h-1zM21 36h1v1h-1z"/>
<path fill="#4fafe1" d="M1 0h1v1h-1zM5 0h1v1h-1zM13 0h1v1h-1zM27 0h1v1h-1zM32 0h1v1h-1zM35 0h1v1h-1zM37 0h1v1h-1zM0 1h1v1h-1zM14 1h1v1h-1zM39 1h1v1h-1zM3 2h1v1h-1zM6 2h1v1h-1zM13 2h2v1h-2zM16 2h1v1h-1zM24 2h1v1h-1zM31 2h1v1h-1zM41 2h2v1h-2zM2 3h1v1h-1zM5 3h2v1h-2zM28 3h1v1h-1zM7 4h1v1h-1zM38 4h3v1h-3zM0 5h1v1h-1zM3 5h1v1h-1zM8 5h1v1h-1zM11 5h1v1h-1zM13 5h1v1h-1zM21 5h1v1h-1zM23 5h1v1h-1zM29 5h1v1h-1zM40 5h1v1h-1zM2 6h2v1h-2zM30 6h1v1h-1zM4 7h1v1h-1zM9 7h1v1h-1zM22 7h2v1h-2zM34 7h1v1h-1zM5 8h1v1h-1zM19 8h2v1h-2zM7 9h1v1h-1zM10 9h1v1h-1zM13 9h1v1h-1zM18 9h1v1h-1zM22 9h1v1h-1zM9 10h1v1h-1zM17 10h1v1h-1zM27 10h1v1h-1zM41 10h1v1h-1zM5 11h1v1h-1zM12 11h1v1h-1zM11 12h1v1h-1zM16 12h1v1h-1zM28 12h2v1h-2zM34 12h1v1h-1zM36 12h1v1h-1zM38 12h1v1h-1zM0 13h1v1h-1zM2 13h1v1h-1zM5 13h1v1h-1zM9 13h1v1h-1zM16 13h1v1h-1zM24 13h1v1h-1zM37 13h2v1h-2zM41 13h1v1h-1zM1 14h2v1h-2zM15 14h1v1h-1zM22 14h1v1h-1zM14 15h1v1h-1zM17 15h1v1h-1zM24 15h1v1h-1zM27 15h1v1h-1zM32 15h1v1h-1zM40 15h1v1h-1zM2 16h1v1h-1zM12 16h2v1h-2zM24 16h1v1h-1zM32 16h1v1h-1zM10 17h1v1h-1zM15 17h1v1h-1zM19 17h1v1h-1zM9 18h1v1h-1zM24 18h1v1h-1zM29 18h1v1h-1zM31 18h1v1h-1zM34 18h1v1h-1zM8 19h1v1h-1zM17 19h1v1h-1zM29 19h1v1h-1zM31 19h1v1h-1zM33 19h1v1h-1zM40 19h1v1h-1zM8 20h1v1h-1zM38 20h1v1h-1zM5 21h1v1h-1zM7 22h1v1h-1zM9 22h1v1h-1zM14 22h1v1h-1zM33 22h1v1h-1zM5 23h1v1h-1zM7 23h1v1h-1zM32 23h1v1h-1zM2 24h1v1h-1zM13 24h1v1h-1zM15 24h2v1h-2zM18 24h1v1h-1zM25 24h1v1h-1zM39 24h2v1h-2zM24 25h1v1h-1zM39 25h1v1h-1zM39 26h1v1h-1zM0 27h1v1h-1zM10 27h1v1h-1zM15 27h1v1h-1zM42 27h1v1h-1zM3 28h1v1h-1zM12 28h1v1h-1zM5 29h1v1h-1zM12 29h1v1h-1zM18 29h2v1h-2zM36 29h3v1h-3zM6 30h1v1h-1zM2 31h1v1h-1zM18 31h2v1h-2zM0 32h1v1h-1zM15 32h2v1h-2zM23 32h1v1h-1zM33 32h1v1h-1zM19 33h1v1h-1zM22 33h1v1h-1zM32 33h1v1h-1zM7 34h1v1h-1zM12 34h1v1h-1zM18 34h1v1h-1zM0 35h1v1h-1zM37 35h1v1h-1zM39 35h1v1h-1zM12 36h1v1h-1zM29 36h1v1h-1zM37 36h1v1h-1zM0 37h1v1h-1zM13 37h1v1h-1zM29 37h1v1h-1zM35 37h2v1h-2zM4 38h1v1h-1zM12 38h2v1h-2zM20 38h1v1h-1zM29 38h1v1h-1zM39 38h1v1h-1zM1 39h1v1h-1zM4 39h1v1h-1zM24 39h3v1h-3zM35 39h1v1h-1zM38 39h1v1h-1zM4 40h2v1h-2zM15 40h1v1h-1zM19 40h1v1h-1zM24 40h1v1h-1zM2 41h1v1h-1zM10 41h1v1h-1zM13 41h1v1h-1zM2 42h1v1h-1zM27 42h1v1h-1z"/>
<path fill="#56c3cd" d="M38 21h1v1h-1zM21 38h1v1h-1z"/>
<path fill="#59cbc6" d="M12 0h1v1h-1zM8 1h1v1h-1zM18 1h1v1h-1zM21 1h1v1h-1zM11 2h1v1h-1zM15 2h1v1h-1zM13 4h1v1h-1zM19 6h1v1h-1zM11 7h2v1h-2zM19 7h1v1h-1zM1 8h1v1h-1zM12 8h1v1h-1zM11 9h1v1h-1zM2 11h1v1h-1zM7 11h1v1h-1zM9 11h1v1h-1zM0 12h1v1h-1zM7 12h2v1h-2zM4 13h1v1h-1zM14 13h1v1h-1zM17 13h1v1h-1zM19 13h1v1h-1zM13 14h1v1h-1zM2 15h1v1h-1zM13 17h1v1h-1zM21 17h1v1h-1zM1 18h1v1h-1zM6 19h2v1h-2zM13 19h1v1h-1zM1 21h1v1h-1zM17 21h1v1h-1zM26 23h1v1h-1zM27 25h1v1h-1zM23 26h1v1h-1zM34 26h1v1h-1zM25 27h1v1h-1zM41 27h1v1h-1zM35 33h1v1h-1zM26 34h1v1h-1zM42 34h1v1h-1zM33 35h1v1h-1zM42 40h1v1h-1zM27 41h1v1h-1zM34 42h1v1h-1zM40 42h1v1h-1z"/>
<path fill="#60d8b1" d="M21 8h1v1h-1zM21 18h1v1h-1zM8 21h1v1h-1zM18 21h1v1h-1zM41 21h1v1h-1zM21 41h1v1h-1z"/>
<path fill="#65dda5" d="M7 1h1v1h-1zM17 2h1v1h-1zM19 2h1v1h-1zM18 4h1v1h-1zM19 5h1v1h-1zM12 6h1v1h-1zM1 7h1v1h-1zM18 10h1v1h-1zM20 10h1v1h-1zM19 11h1v1h-1zM6 12h1v1h-1zM17 12h1v1h-1zM2 17h1v1h-1zM12 17h1v1h-1zM4 18h1v1h-1zM10 18h1v1h-1zM2 19h1v1h-1zM5 19h1v1h-1zM11 19h1v1h-1zM10 20h1v1h-1zM37 22h1v1h-1zM29 24h1v1h-1zM33 25h1v1h-1zM37 25h1v1h-1zM40 25h1v1h-1zM24 29h1v1h-1zM32 29h1v1h-1zM38 30h1v1h-1zM42 30h1v1h-1zM29 32h1v1h-1zM42 32h1v1h-1zM25 33h1v1h-1zM40 34h1v1h-1zM40 35h1v1h-1zM22 37h1v1h-1zM25 37h1v1h-1zM30 38h1v1h-1zM25 40h1v1h-1zM34 40h2v1h-2zM30 42h1v1h-1zM32 42h1v1h-1z"/>
<path fill="#6ae098" d="M42 21h1v1h-1zM21 42h1v1h-1z"/>
<path fill="#74e381" d="M3 0h1v1h-1zM8 0h1v1h-1zM10 0h2v1h-2zM26 0h1v1h-1zM3 1h1v1h-1zM6 1h1v1h-1zM10 1h1v1h-1zM17 1h1v1h-1zM19 1h1v1h-1zM32 1h1v1h-1zM35 1h1v1h-1zM4 2h1v1h-1zM8 2h1v1h-1zM18 2h1v1h-1zM25 2h1v1h-1zM28 2h1v1h-1zM30 2h1v1h-1zM32 2h1v1h-1zM0 3h2v1h-2zM8 3h1v1h-1zM10 3h1v1h-1zM14 3h1v1h-1zM17 3h1v1h-1zM19 3h1v1h-1zM22 3h1v1h-1zM25 3h1v1h-1zM30 3h2v1h-2zM33 3h3v1h-3zM38 3h1v1h-1zM2 4h1v1h-1zM8 4h1v1h-1zM20 4h1v1h-1zM28 4h2v1h-2zM34 4h1v1h-1zM37 4h1v1h-1zM9 5h1v1h-1zM14 5h1v1h-1zM37 5h2v1h-2zM1 6h1v1h-1zM11 6h1v1h-1zM13 6h1v1h-1zM16 6h2v1h-2zM25 6h1v1h-1zM28 6h2v1h-2zM32 6h1v1h-1zM38 6h1v1h-1zM28 7h1v1h-1zM32 7h2v1h-2zM40 7h1v1h-1zM0 8h1v1h-1zM2 8h3v1h-3zM9 8h1v1h-1zM13 8h4v1h-4zM22 8h1v1h-1zM25 8h1v1h-1zM32 8h2v1h-2zM38 8h1v1h-1zM5 9h1v1h-1zM8 9h1v1h-1zM23 9h1v1h-1zM25 9h1v1h-1zM29 9h3v1h-3zM0 10h2v1h-2zM3 10h1v1h-1zM22 10h1v1h-1zM32 10h1v1h-1zM36 10h1v1h-1zM39 10h1v1h-1zM0 11h1v1h-1zM6 11h1v1h-1zM13 11h1v1h-1zM17 11h2v1h-2zM25 11h1v1h-1zM28 11h2v1h-2zM32 11h1v1h-1zM35 11h1v1h-1zM42 11h1v1h-1zM14 12h2v1h-2zM18 12h2v1h-2zM22 12h2v1h-2zM32 12h1v1h-1zM42 12h1v1h-1zM6 13h1v1h-1zM8 13h1v1h-1zM11 13h1v1h-1zM21 13h1v1h-1zM39 13h1v1h-1zM3 14h1v1h-1zM5 14h1v1h-1zM8 14h1v1h-1zM12 14h1v1h-1zM28 14h1v1h-1zM30 14h1v1h-1zM38 14h1v1h-1zM41 14h1v1h-1zM8 15h1v1h-1zM12 15h1v1h-1zM23 15h1v1h-1zM25 15h1v1h-1zM30 15h1v1h-1zM37 15h1v1h-1zM6 16h1v1h-1zM8 16h1v1h-1zM22 16h1v1h-1zM28 16h1v1h-1zM35 16h2v1h-2zM1 17h1v1h-1zM3 17h1v1h-1zM6 17h1v1h-1zM11 17h1v1h-1zM26 17h1v1h-1zM28 17h1v1h-1zM35 17h1v1h-1zM2 18h1v1h-1zM11 18h2v1h-2zM23 18h1v1h-1zM37 18h2v1h-2zM1 19h1v1h-1zM3 19h1v1h-1zM12 19h1v1h-1zM23 19h1v1h-1zM32 19h1v1h-1zM4 20h1v1h-1zM13 21h1v1h-1zM27 21h1v1h-1zM29 21h1v1h-1zM37 21h1v1h-1zM3 22h1v1h-1zM8 22h1v1h-1zM10 22h1v1h-1zM12 22h1v1h-1zM16 22h1v1h-1zM25 22h1v1h-1zM30 22h1v1h-1zM35 22h1v1h-1zM9 23h1v1h-1zM12 23h1v1h-1zM15 23h1v1h-1zM18 23h2v1h-2zM30 23h2v1h-2zM37 23h2v1h-2zM41 23h1v1h-1zM32 24h1v1h-1zM41 24h1v1h-1zM2 25h2v1h-2zM6 25h1v1h-1zM8 25h2v1h-2zM11 25h1v1h-1zM15 25h1v1h-1zM22 25h1v1h-1zM0 26h1v1h-1zM17 26h1v1h-1zM29 26h1v1h-1zM32 26h1v1h-1zM42 26h1v1h-1zM21 27h1v1h-1zM32 27h1v1h-1zM2 28h1v1h-1zM4 28h1v1h-1zM6 28h2v1h-2zM11 28h1v1h-1zM14 28h1v1h-1zM16 28h2v1h-2zM4 29h1v1h-1zM6 29h1v1h-1zM9 29h1v1h-1zM11 29h1v1h-1zM21 29h1v1h-1zM26 29h1v1h-1zM31 29h1v1h-1zM2 30h2v1h-2zM9 30h1v1h-1zM14 30h2v1h-2zM22 30h2v1h-2zM3 31h1v1h-1zM9 31h1v1h-1zM23 31h1v1h-1zM29 31h1v1h-1zM35 31h1v1h-1zM42 31h1v1h-1zM1 32h2v1h-2zM6 32h3v1h-3zM10 32h3v1h-3zM19 32h1v1h-1zM24 32h1v1h-1zM26 32h2v1h-2zM34 32h1v1h-1zM37 32h1v1h-1zM3 33h1v1h-1zM7 33h2v1h-2zM3 34h2v1h-2zM32 34h1v1h-1zM35 34h1v1h-1zM1 35h1v1h-1zM3 35h1v1h-1zM11 35h1v1h-1zM16 35h2v1h-2zM22 35h1v1h-1zM31 35h1v1h-1zM34 35h1v1h-1zM42 35h1v1h-1zM10 36h1v1h-1zM16 36h1v1h-1zM4 37h2v1h-2zM15 37h1v1h-1zM18 37h1v1h-1zM21 37h1v1h-1zM23 37h1v1h-1zM32 37h1v1h-1zM3 38h1v1h-1zM5 38h2v1h-2zM8 38h1v1h-1zM14 38h1v1h-1zM18 38h1v1h-1zM23 38h1v1h-1zM10 39h1v1h-1zM13 39h1v1h-1zM7 40h1v1h-1zM14 41h1v1h-1zM23 41h2v1h-2zM11 42h2v1h-2zM26 42h1v1h-1zM31 42h1v1h-1zM35 42h1v1h-1z"/>
<path fill="#7fe26c" d="M22 21h1v1h-1zM21 22h1v1h-1z"/>
<path fill="#8cdd57" d="M12 2h1v1h-1zM20 7h1v1h-1zM2 12h1v1h-1zM7 20h1v1h-1zM33 27h1v1h-1zM30 28h1v1h-1zM36 28h1v1h-1zM28 30h1v1h-1zM27 33h1v1h-1zM41 34h1v1h-1zM28 36h1v1h-1zM34 41h1v1h-1z"/>
<path fill="#9ad84b" d="M21 6h1v1h-1zM21 20h1v1h-1zM6 21h1v1h-1zM20 21h1v1h-1zM40 21h1v1h-1zM21 40h1v1h-1z"/>
<path fill="#aad243" d="M4 0h1v1h-1zM17 0h1v1h-1zM22 0h2v1h-2zM38 0h2v1h-2zM2 1h1v1h-1zM4 1h1v1h-1zM9 1h1v1h-1zM27 1h2v1h-2zM30 1h1v1h-1zM33 1h2v1h-2zM1 2h1v1h-1zM20 3h1v1h-1zM24 3h1v1h-1zM32 3h1v1h-1zM41 3h1v1h-1zM0 4h2v1h-2zM5 4h2v1h-2zM10 4h2v1h-2zM22 4h1v1h-1zM31 4h3v1h-3zM4 5h1v1h-1zM6 5h1v1h-1zM15 5h1v1h-1zM27 5h2v1h-2zM32 5h1v1h-1zM35 5h1v1h-1zM42 5h1v1h-1zM4 6h2v1h-2zM22 6h1v1h-1zM24 6h1v1h-1zM29 7h1v1h-1zM42 7h1v1h-1zM11 8h1v1h-1zM24 8h1v1h-1zM31 8h1v1h-1zM39 8h1v1h-1zM1 9h1v1h-1zM24 9h1v1h-1zM32 9h2v1h-2zM4 10h1v1h-1zM28 10h1v1h-1zM4 11h1v1h-1zM8 11h1v1h-1zM14 11h2v1h-2zM21 11h1v1h-1zM31 11h1v1h-1zM20 12h1v1h-1zM25 12h1v1h-1zM41 12h1v1h-1zM23 13h1v1h-1zM25 13h1v1h-1zM30 13h1v1h-1zM32 13h1v1h-1zM35 13h1v1h-1zM42 13h1v1h-1zM11 14h1v1h-1zM37 14h1v1h-1zM40 14h1v1h-1zM5 15h1v1h-1zM11 15h1v1h-1zM36 15h1v1h-1zM41 15h1v1h-1zM18 16h1v1h-1zM37 16h2v1h-2zM41 16h1v1h-1zM0 17h1v1h-1zM23 17h1v1h-1zM25 17h1v1h-1zM31 17h1v1h-1zM36 17h2v1h-2zM16 18h1v1h-1zM40 18h2v1h-2zM25 19h1v1h-1zM28 19h1v1h-1zM35 19h1v1h-1zM3 20h1v1h-1zM12 20h1v1h-1zM30 20h1v1h-1zM11 21h1v1h-1zM30 21h1v1h-1zM34 21h1v1h-1zM39 21h1v1h-1zM0 22h1v1h-1zM4 22h1v1h-1zM6 22h1v1h-1zM31 22h1v1h-1zM38 22h1v1h-1zM41 22h1v1h-1zM0 23h1v1h-1zM13 23h1v1h-1zM17 23h1v1h-1zM25 23h1v1h-1zM3 24h1v1h-1zM6 24h1v1h-1zM8 24h2v1h-2zM28 24h1v1h-1zM42 24h1v1h-1zM12 25h2v1h-2zM17 25h1v1h-1zM19 25h1v1h-1zM23 25h1v1h-1zM28 25h3v1h-3zM30 26h1v1h-1zM38 26h1v1h-1zM40 26h1v1h-1zM1 27h1v1h-1zM5 27h1v1h-1zM28 27h1v1h-1zM31 27h1v1h-1zM1 28h1v1h-1zM5 28h1v1h-1zM10 28h1v1h-1zM19 28h1v1h-1zM24 28h2v1h-2zM27 28h1v1h-1zM39 28h1v1h-1zM7 29h1v1h-1zM25 29h1v1h-1zM34 29h1v1h-1zM1 30h1v1h-1zM13 30h1v1h-1zM20 30h2v1h-2zM25 30h2v1h-2zM35 30h1v1h-1zM37 30h1v1h-1zM40 30h1v1h-1zM4 31h1v1h-1zM8 31h1v1h-1zM11 31h1v1h-1zM17 31h1v1h-1zM22 31h1v1h-1zM27 31h1v1h-1zM41 31h1v1h-1zM3 32h3v1h-3zM9 32h1v1h-1zM13 32h1v1h-1zM35 32h1v1h-1zM1 33h1v1h-1zM4 33h1v1h-1zM9 33h1v1h-1zM36 33h1v1h-1zM42 33h1v1h-1zM1 34h1v1h-1zM21 34h1v1h-1zM29 34h1v1h-1zM5 35h1v1h-1zM13 35h1v1h-1zM19 35h1v1h-1zM30 35h1v1h-1zM32 35h1v1h-1zM15 36h1v1h-1zM17 36h1v1h-1zM33 36h1v1h-1zM14 37h1v1h-1zM16 37h2v1h-2zM30 37h1v1h-1zM41 37h1v1h-1zM0 38h1v1h-1zM16 38h1v1h-1zM22 38h1v1h-1zM26 38h1v1h-1zM41 38h1v1h-1zM0 39h1v1h-1zM8 39h1v1h-1zM21 39h1v1h-1zM28 39h1v1h-1zM41 39h1v1h-1zM14 40h1v1h-1zM18 40h1v1h-1zM26 40h1v1h-1zM30 40h1v1h-1zM3 41h1v1h-1zM12 41h1v1h-1zM15 41h2v1h-2zM18 41h1v1h-1zM22 41h1v1h-1zM31 41h1v1h-1zM37 41h3v1h-3zM5 42h1v1h-1zM7 42h1v1h-1zM13 42h1v1h-1zM24 42h1v1h-1zM33 42h1v1h-1z"/>
<path fill="#c6c939" d="M19 0h1v1h-1zM18 5h1v1h-1zM5 18h1v1h-1zM0 19h1v1h-1zM28 22h1v1h-1zM35 23h1v1h-1zM22 28h1v1h-1zM39 33h1v1h-1zM23 35h1v1h-1zM33 39h1v1h-1z"/>
<path fill="#d4bf3a" d="M21 12h1v1h-1zM12 21h1v1h-1z"/>
<path fill="#dfb73d" d="M6 0h1v1h-1zM25 0h1v1h-1zM41 0h1v1h-1zM42 1h1v1h-1zM21 2h1v1h-1zM21 3h1v1h-1zM26 3h1v1h-1zM29 3h1v1h-1zM39 3h1v1h-1zM12 4h1v1h-1zM21 4h1v1h-1zM0 6h1v1h-1zM8 6h1v1h-1zM14 6h2v1h-2zM36 6h2v1h-2zM21 7h1v1h-1zM6 8h1v1h-1zM28 8h1v1h-1zM28 9h1v1h-1zM42 9h1v1h-1zM38 10h1v1h-1zM23 11h2v1h-2zM26 11h1v1h-1zM30 11h1v1h-1zM4 12h1v1h-1zM13 12h1v1h-1zM12 13h1v1h-1zM18 13h1v1h-1zM6 14h1v1h-1zM6 15h1v1h-1zM38 15h1v1h-1zM38 17h1v1h-1zM13 18h1v1h-1zM22 18h1v1h-1zM25 18h2v1h-2zM32 18h1v1h-1zM39 18h1v1h-1zM32 20h1v1h-1zM2 21h3v1h-3zM7 21h1v1h-1zM28 21h1v1h-1zM31 21h2v1h-2zM35 21h1v1h-1zM18 22h1v1h-1zM11 23h1v1h-1zM28 23h1v1h-1zM11 24h1v1h-1zM35 24h1v1h-1zM0 25h1v1h-1zM18 25h1v1h-1zM3 26h1v1h-1zM11 26h1v1h-1zM18 26h1v1h-1zM28 26h1v1h-1zM35 26h1v1h-1zM8 28h2v1h-2zM21 28h1v1h-1zM23 28h1v1h-1zM26 28h1v1h-1zM3 29h1v1h-1zM11 30h1v1h-1zM34 30h1v1h-1zM21 31h1v1h-1zM39 31h1v1h-1zM18 32h1v1h-1zM20 32h2v1h-2zM30 34h1v1h-1zM21 35h1v1h-1zM24 35h1v1h-1zM26 35h1v1h-1zM41 35h1v1h-1zM6 36h1v1h-1zM6 37h1v1h-1zM40 37h1v1h-1zM10 38h1v1h-1zM15 38h1v1h-1zM17 38h1v1h-1zM3 39h1v1h-1zM18 39h1v1h-1zM31 39h1v1h-1zM37 40h1v1h-1zM0 41h1v1h-1zM35 41h1v1h-1zM1 42h1v1h-1zM9 42h1v1h-1z"/>
<path fill="#e8fc3c" d="M35 6h1v1h-1zM21 9h1v1h-1zM9 21h1v1h-1zM41 26h1v1h-1zM40 31h1v1h-1zM6 35h1v1h-1zM31 40h1v1h-1zM26 41h1v1h-1z"/>
</g></g>
<use href="#hm2" filter="url(#hblur)" opacity="0.6"/>
</g>
<rect x="58.50" y="524.70" width="404.20" height="330.50" fill="none" stroke="#333333" stroke-width="1.3"/>
<path d="M147.80 855.20v-3.2M147.80 524.70v3.2M58.50 597.72h3.2M462.70 597.72h-3.2M241.80 855.20v-3.2M241.80 524.70v3.2M58.50 674.58h3.2M462.70 674.58h-3.2M335.80 855.20v-3.2M335.80 524.70v3.2M58.50 751.44h3.2M462.70 751.44h-3.2M429.80 855.20v-3.2M429.80 524.70v3.2M58.50 828.30h3.2M462.70 828.30h-3.2" stroke="#333333" stroke-width="1.2" fill="none"/>
<g font-family="Liberation Sans, Arial, Helvetica, sans-serif" font-size="33.2" fill="#000" stroke="#000" stroke-width="0.45" stroke-linejoin="round">
<text x="147.8" y="898.5" text-anchor="middle">10</text>
<text x="48.2" y="611.1" text-anchor="end">10</text>
<text x="241.8" y="898.5" text-anchor="middle">20</text>
<text x="48.2" y="688.0" text-anchor="end">20</text>
<text x="335.8" y="898.5" text-anchor="middle">30</text>
<text x="48.2" y="764.8" text-anchor="end">30</text>
<text x="429.8" y="898.5" text-anchor="middle">40</text>
<text x="48.2" y="841.7" text-anchor="end">40</text>
</g>
<rect x="473.40" y="524.70" width="22.40" height="330.50" fill="url(#cbg)" stroke="#262626" stroke-width="1.2"/>
<g font-family="Liberation Sans, Arial, Helvetica, sans-serif" font-size="29.9" fill="#000" stroke="#000" stroke-width="0.45" stroke-linejoin="round">
<text x="505.15" y="545.45">0.1</text>
<text x="505.15" y="624.15">0.05</text>
<text x="505.15" y="702.95">0</text>
<text x="505.15" y="781.65">-0.05</text>
<text x="505.15" y="860.05">-0.1</text>
</g>
<path d="M495.80 532.40h-3M495.80 611.10h-3M495.80 689.90h-3M495.80 768.60h-3M495.80 847.00h-3" stroke="#262626" stroke-width="1.2" fill="none"/>
<text x="101.57" y="509.70" font-family="Liberation Sans, Arial, Helvetica, sans-serif" font-size="37.22" stroke="#000" stroke-width="0.70" stroke-linejoin="round" >Mean PLV for</text>
<text x="341.29" y="512.70" font-family="Liberation Serif, Times New Roman, Times, serif" font-size="40.82" stroke="#000" stroke-width="0.50" stroke-linejoin="round" >SR-RR</text>
<text x="1182.78" y="509.40" font-family="Liberation Sans, Arial, Helvetica, sans-serif" font-size="36.66" stroke="#000" stroke-width="0.70" stroke-linejoin="round" >p-values&lt;0.05 (multiple correction)</text>
<text x="756.78" y="532.50" font-family="Liberation Serif, Times New Roman, Times, serif" font-size="58.14" stroke="#000" stroke-width="0.30" stroke-linejoin="round" >SR &gt; RR</text>
<!-- row 1 right pmap -->
<rect x="1238.70" y="524.70" width="450.60" height="330.50" fill="#4025b3"/>
<g transform="translate(1238.70 524.70) scale(10.4791 7.6860)" shape-rendering="crispEdges">
<path fill="#eefa3a" d="M0 0h1v1h-1zM1 1h1v1h-1zM2 2h1v1h-1zM3 3h1v1h-1zM4 4h1v1h-1zM5 5h1v1h-1zM6 6h1v1h-1zM7 7h1v1h-1zM8 8h1v1h-1zM9 9h1v1h-1zM10 10h1v1h-1zM11 11h1v1h-1zM12 12h1v1h-1zM13 13h1v1h-1zM14 14h1v1h-1zM15 15h1v1h-1zM16 16h1v1h-1zM17 17h1v1h-1zM18 18h1v1h-1zM19 19h1v1h-1zM20 20h1v1h-1zM21 21h1v1h-1zM22 22h1v1h-1zM23 23h1v1h-1zM24 24h1v1h-1zM25 25h1v1h-1zM26 26h1v1h-1zM27 27h1v1h-1zM28 28h1v1h-1zM29 29h1v1h-1zM30 30h1v1h-1zM31 31h1v1h-1zM32 32h1v1h-1zM33 33h1v1h-1zM34 34h1v1h-1zM35 35h1v1h-1zM36 36h1v1h-1zM37 37h1v1h-1zM38 38h1v1h-1zM39 39h1v1h-1zM40 40h1v1h-1zM41 41h1v1h-1zM42 42h1v1h-1zM21 9h1v1h-1zM9 21h1v1h-1zM40 31h1v1h-1zM31 40h1v1h-1z"/>
</g>
<rect x="1238.70" y="524.70" width="450.60" height="330.50" fill="none" stroke="#0e0e30" stroke-width="1.3"/>
<path d="M1338.25 855.20v-3.2M1338.25 524.70v3.2M1238.70 597.72h3.2M1689.30 597.72h-3.2M1443.04 855.20v-3.2M1443.04 524.70v3.2M1238.70 674.58h3.2M1689.30 674.58h-3.2M1547.83 855.20v-3.2M1547.83 524.70v3.2M1238.70 751.44h3.2M1689.30 751.44h-3.2M1652.62 855.20v-3.2M1652.62 524.70v3.2M1238.70 828.30h3.2M1689.30 828.30h-3.2" stroke="#0e0e30" stroke-width="1.2" fill="none"/>
<g font-family="Liberation Sans, Arial, Helvetica, sans-serif" font-size="33.2" fill="#000" stroke="#000" stroke-width="0.45" stroke-linejoin="round">
<text x="1338.3" y="898.5" text-anchor="middle">10</text>
<text x="1228.5" y="611.1" text-anchor="end">10</text>
<text x="1443.0" y="898.5" text-anchor="middle">20</text>
<text x="1228.5" y="688.0" text-anchor="end">20</text>
<text x="1547.8" y="898.5" text-anchor="middle">30</text>
<text x="1228.5" y="764.8" text-anchor="end">30</text>
<text x="1652.6" y="898.5" text-anchor="middle">40</text>
<text x="1228.5" y="841.7" text-anchor="end">40</text>
</g>
<!-- row 2 left heatmap -->
<clipPath id="hc3"><rect x="58.50" y="1188.20" width="404.20" height="330.50"/></clipPath>
<g clip-path="url(#hc3)"><g>
<g id="hm3" transform="translate(58.50 1188.20) scale(9.4000 7.6860)">
<rect x="-1" y="-1" width="45" height="45" fill="#5cd4bd"/>
<path fill="#4e3dfd" d="M2 0h1v1h-1zM16 0h1v1h-1zM30 0h1v1h-1zM13 1h1v1h-1zM0 2h1v1h-1zM13 3h1v1h-1zM7 5h1v1h-1zM28 5h1v1h-1zM5 7h1v1h-1zM42 8h1v1h-1zM12 10h1v1h-1zM19 10h1v1h-1zM10 12h1v1h-1zM35 12h1v1h-1zM1 13h1v1h-1zM3 13h1v1h-1zM22 14h2v1h-2zM19 15h1v1h-1zM40 15h1v1h-1zM0 16h1v1h-1zM34 16h1v1h-1zM33 18h1v1h-1zM10 19h1v1h-1zM15 19h1v1h-1zM27 19h1v1h-1zM14 22h1v1h-1zM14 23h1v1h-1zM27 23h1v1h-1zM40 23h1v1h-1zM27 26h1v1h-1zM19 27h1v1h-1zM23 27h1v1h-1zM26 27h1v1h-1zM41 27h1v1h-1zM5 28h1v1h-1zM0 30h1v1h-1zM18 33h1v1h-1zM16 34h1v1h-1zM41 34h1v1h-1zM12 35h1v1h-1zM37 36h1v1h-1zM36 37h1v1h-1zM15 40h1v1h-1zM23 40h1v1h-1zM27 41h1v1h-1zM34 41h1v1h-1zM8 42h1v1h-1z"/>
<path fill="#4d89ff" d="M12 0h1v1h-1zM15 0h1v1h-1zM18 0h1v1h-1zM24 0h1v1h-1zM33 0h1v1h-1zM40 0h1v1h-1zM42 0h1v1h-1zM12 1h1v1h-1zM31 1h1v1h-1zM14 3h1v1h-1zM16 3h1v1h-1zM36 3h1v1h-1zM40 3h1v1h-1zM16 4h1v1h-1zM24 4h1v1h-1zM28 4h1v1h-1zM16 5h1v1h-1zM22 5h1v1h-1zM7 6h1v1h-1zM9 6h1v1h-1zM27 6h1v1h-1zM37 6h1v1h-1zM6 7h1v1h-1zM18 7h1v1h-1zM27 7h1v1h-1zM41 7h1v1h-1zM10 8h1v1h-1zM18 8h1v1h-1zM36 8h1v1h-1zM40 8h1v1h-1zM6 9h1v1h-1zM14 9h1v1h-1zM38 9h1v1h-1zM8 10h1v1h-1zM0 12h2v1h-2zM16 12h1v1h-1zM23 12h1v1h-1zM28 12h1v1h-1zM37 12h2v1h-2zM14 13h1v1h-1zM18 13h1v1h-1zM22 13h1v1h-1zM27 13h1v1h-1zM34 13h1v1h-1zM3 14h1v1h-1zM9 14h1v1h-1zM13 14h1v1h-1zM19 14h2v1h-2zM24 14h1v1h-1zM27 14h1v1h-1zM32 14h1v1h-1zM34 14h1v1h-1zM36 14h1v1h-1zM39 14h1v1h-1zM41 14h1v1h-1zM0 15h1v1h-1zM20 15h1v1h-1zM30 15h1v1h-1zM32 15h1v1h-1zM3 16h3v1h-3zM12 16h1v1h-1zM23 16h1v1h-1zM25 16h1v1h-1zM27 16h1v1h-1zM29 16h2v1h-2zM32 16h1v1h-1zM40 16h1v1h-1zM22 17h3v1h-3zM27 17h1v1h-1zM33 17h2v1h-2zM41 17h2v1h-2zM0 18h1v1h-1zM7 18h2v1h-2zM13 18h1v1h-1zM28 18h1v1h-1zM30 18h1v1h-1zM34 18h1v1h-1zM42 18h1v1h-1zM14 19h1v1h-1zM22 19h1v1h-1zM31 19h1v1h-1zM14 20h2v1h-2zM22 20h2v1h-2zM25 20h1v1h-1zM28 20h1v1h-1zM41 20h1v1h-1zM24 21h1v1h-1zM5 22h1v1h-1zM13 22h1v1h-1zM17 22h1v1h-1zM19 22h2v1h-2zM23 22h1v1h-1zM27 22h1v1h-1zM40 22h1v1h-1zM12 23h1v1h-1zM16 23h2v1h-2zM20 23h1v1h-1zM22 23h1v1h-1zM26 23h1v1h-1zM42 23h1v1h-1zM0 24h1v1h-1zM4 24h1v1h-1zM14 24h1v1h-1zM17 24h1v1h-1zM21 24h1v1h-1zM27 24h1v1h-1zM31 24h1v1h-1zM33 24h2v1h-2zM41 24h1v1h-1zM16 25h1v1h-1zM20 25h1v1h-1zM26 25h2v1h-2zM23 26h1v1h-1zM25 26h1v1h-1zM37 26h1v1h-1zM6 27h2v1h-2zM13 27h2v1h-2zM16 27h2v1h-2zM22 27h1v1h-1zM24 27h2v1h-2zM40 27h1v1h-1zM4 28h1v1h-1zM12 28h1v1h-1zM18 28h1v1h-1zM20 28h1v1h-1zM37 28h1v1h-1zM16 29h1v1h-1zM15 30h2v1h-2zM18 30h1v1h-1zM1 31h1v1h-1zM19 31h1v1h-1zM24 31h1v1h-1zM14 32h3v1h-3zM38 32h3v1h-3zM0 33h1v1h-1zM17 33h1v1h-1zM24 33h1v1h-1zM13 34h2v1h-2zM17 34h2v1h-2zM24 34h1v1h-1zM36 34h1v1h-1zM39 34h2v1h-2zM3 36h1v1h-1zM8 36h1v1h-1zM14 36h1v1h-1zM34 36h1v1h-1zM40 36h1v1h-1zM6 37h1v1h-1zM12 37h1v1h-1zM26 37h1v1h-1zM28 37h1v1h-1zM38 37h2v1h-2zM9 38h1v1h-1zM12 38h1v1h-1zM32 38h1v1h-1zM37 38h1v1h-1zM14 39h1v1h-1zM32 39h1v1h-1zM34 39h1v1h-1zM37 39h1v1h-1zM0 40h1v1h-1zM3 40h1v1h-1zM8 40h1v1h-1zM16 40h1v1h-1zM22 40h1v1h-1zM27 40h1v1h-1zM32 40h1v1h-1zM34 40h1v1h-1zM36 40h1v1h-1zM7 41h1v1h-1zM14 41h1v1h-1zM17 41h1v1h-1zM20 41h1v1h-1zM24 41h1v1h-1zM42 41h1v1h-1zM0 42h1v1h-1zM17 42h2v1h-2zM23 42h1v1h-1zM41 42h1v1h-1z"/>
<path fill="#4c94fc" d="M21 10h1v1h-1zM10 21h1v1h-1z"/>
<path fill="#4c9cf4" d="M16 1h1v1h-1zM7 2h1v1h-1zM8 5h1v1h-1zM17 5h1v1h-1zM2 7h1v1h-1zM5 8h1v1h-1zM12 8h1v1h-1zM8 12h1v1h-1zM1 16h1v1h-1zM5 17h1v1h-1zM29 24h1v1h-1zM39 27h1v1h-1zM24 29h1v1h-1zM36 35h1v1h-1zM35 36h1v1h-1zM27 39h1v1h-1z"/>
<path fill="#4fafe1" d="M1 0h1v1h-1zM3 0h1v1h-1zM5 0h1v1h-1zM13 0h2v1h-2zM17 0h1v1h-1zM20 0h1v1h-1zM28 0h1v1h-1zM31 0h1v1h-1zM39 0h1v1h-1zM0 1h1v1h-1zM5 1h1v1h-1zM11 1h1v1h-1zM18 1h1v1h-1zM23 1h1v1h-1zM28 1h1v1h-1zM10 2h1v1h-1zM16 2h1v1h-1zM24 2h1v1h-1zM41 2h1v1h-1zM0 3h1v1h-1zM4 3h2v1h-2zM9 3h1v1h-1zM11 3h1v1h-1zM18 3h1v1h-1zM22 3h1v1h-1zM38 3h1v1h-1zM41 3h2v1h-2zM3 4h1v1h-1zM9 4h1v1h-1zM13 4h2v1h-2zM26 4h1v1h-1zM35 4h1v1h-1zM40 4h2v1h-2zM0 5h2v1h-2zM3 5h1v1h-1zM10 5h1v1h-1zM21 5h1v1h-1zM23 5h1v1h-1zM26 5h1v1h-1zM36 5h1v1h-1zM14 6h1v1h-1zM18 6h1v1h-1zM30 6h1v1h-1zM36 6h1v1h-1zM39 6h1v1h-1zM14 7h1v1h-1zM24 7h1v1h-1zM35 7h2v1h-2zM24 8h1v1h-1zM27 8h1v1h-1zM3 9h2v1h-2zM10 9h1v1h-1zM12 9h1v1h-1zM2 10h1v1h-1zM5 10h1v1h-1zM9 10h1v1h-1zM14 10h1v1h-1zM37 10h1v1h-1zM42 10h1v1h-1zM1 11h1v1h-1zM3 11h1v1h-1zM13 11h1v1h-1zM18 11h1v1h-1zM38 11h1v1h-1zM9 12h1v1h-1zM26 12h1v1h-1zM0 13h1v1h-1zM4 13h1v1h-1zM11 13h1v1h-1zM16 13h1v1h-1zM26 13h1v1h-1zM28 13h1v1h-1zM35 13h1v1h-1zM0 14h1v1h-1zM4 14h1v1h-1zM6 14h2v1h-2zM10 14h1v1h-1zM30 14h2v1h-2zM16 15h1v1h-1zM21 15h1v1h-1zM29 15h1v1h-1zM2 16h1v1h-1zM13 16h1v1h-1zM15 16h1v1h-1zM17 16h1v1h-1zM19 16h1v1h-1zM21 16h1v1h-1zM0 17h1v1h-1zM16 17h1v1h-1zM19 17h2v1h-2zM1 18h1v1h-1zM3 18h1v1h-1zM6 18h1v1h-1zM11 18h1v1h-1zM36 18h1v1h-1zM16 19h2v1h-2zM39 19h3v1h-3zM0 20h1v1h-1zM17 20h1v1h-1zM38 20h1v1h-1zM5 21h1v1h-1zM15 21h2v1h-2zM25 21h1v1h-1zM3 22h1v1h-1zM24 22h1v1h-1zM34 22h1v1h-1zM36 22h1v1h-1zM1 23h1v1h-1zM5 23h1v1h-1zM24 23h1v1h-1zM29 23h1v1h-1zM34 23h1v1h-1zM37 23h1v1h-1zM39 23h1v1h-1zM2 24h1v1h-1zM7 24h2v1h-2zM22 24h2v1h-2zM25 24h1v1h-1zM32 24h1v1h-1zM40 24h1v1h-1zM21 25h1v1h-1zM24 25h1v1h-1zM33 25h1v1h-1zM4 26h2v1h-2zM12 26h2v1h-2zM28 26h1v1h-1zM8 27h1v1h-1zM33 27h1v1h-1zM35 27h2v1h-2zM0 28h2v1h-2zM13 28h1v1h-1zM26 28h1v1h-1zM30 28h1v1h-1zM32 28h1v1h-1zM34 28h1v1h-1zM41 28h1v1h-1zM15 29h1v1h-1zM23 29h1v1h-1zM6 30h1v1h-1zM14 30h1v1h-1zM28 30h1v1h-1zM0 31h1v1h-1zM14 31h1v1h-1zM24 32h1v1h-1zM28 32h1v1h-1zM34 32h1v1h-1zM25 33h1v1h-1zM27 33h1v1h-1zM22 34h2v1h-2zM28 34h1v1h-1zM32 34h1v1h-1zM4 35h1v1h-1zM7 35h1v1h-1zM13 35h1v1h-1zM27 35h1v1h-1zM37 35h1v1h-1zM39 35h1v1h-1zM5 36h3v1h-3zM18 36h1v1h-1zM22 36h1v1h-1zM27 36h1v1h-1zM42 36h1v1h-1zM10 37h1v1h-1zM23 37h1v1h-1zM35 37h1v1h-1zM3 38h1v1h-1zM11 38h1v1h-1zM20 38h1v1h-1zM40 38h1v1h-1zM42 38h1v1h-1zM0 39h1v1h-1zM6 39h1v1h-1zM19 39h1v1h-1zM23 39h1v1h-1zM35 39h1v1h-1zM40 39h1v1h-1zM4 40h1v1h-1zM19 40h1v1h-1zM24 40h1v1h-1zM38 40h3v1h-3zM2 41h3v1h-3zM19 41h1v1h-1zM28 41h1v1h-1zM3 42h1v1h-1zM10 42h1v1h-1zM36 42h1v1h-1zM38 42h1v1h-1z"/>
<path fill="#56c3cd" d="M21 14h1v1h-1zM14 21h1v1h-1z"/>
<path fill="#59cbc6" d="M7 0h1v1h-1zM8 1h1v1h-1zM21 1h1v1h-1zM14 2h1v1h-1zM18 4h1v1h-1zM13 5h1v1h-1zM19 6h1v1h-1zM0 7h1v1h-1zM9 7h1v1h-1zM1 8h1v1h-1zM7 9h1v1h-1zM17 10h1v1h-1zM16 11h1v1h-1zM5 13h1v1h-1zM2 14h1v1h-1zM17 14h1v1h-1zM11 16h1v1h-1zM20 16h1v1h-1zM10 17h1v1h-1zM14 17h1v1h-1zM4 18h1v1h-1zM6 19h1v1h-1zM16 20h1v1h-1zM1 21h1v1h-1zM42 22h1v1h-1zM34 25h1v1h-1zM38 27h1v1h-1zM33 28h1v1h-1zM39 28h1v1h-1zM42 31h1v1h-1zM36 32h1v1h-1zM41 32h1v1h-1zM28 33h1v1h-1zM25 34h1v1h-1zM32 36h1v1h-1zM39 36h1v1h-1zM27 38h1v1h-1zM28 39h1v1h-1zM36 39h1v1h-1zM32 41h1v1h-1zM22 42h1v1h-1zM31 42h1v1h-1z"/>
<path fill="#60d8b1" d="M21 19h1v1h-1zM19 21h1v1h-1z"/>
<path fill="#65dda5" d="M17 2h1v1h-1zM19 4h2v1h-2zM17 7h1v1h-1zM17 8h1v1h-1zM2 17h1v1h-1zM7 17h2v1h-2zM4 19h1v1h-1zM4 20h1v1h-1zM30 22h1v1h-1zM39 26h1v1h-1zM42 26h1v1h-1zM38 28h1v1h-1zM36 29h1v1h-1zM38 29h1v1h-1zM22 30h1v1h-1zM36 30h1v1h-1zM36 31h1v1h-1zM35 34h1v1h-1zM34 35h1v1h-1zM29 36h3v1h-3zM41 37h1v1h-1zM28 38h2v1h-2zM26 39h1v1h-1zM37 41h1v1h-1zM26 42h1v1h-1z"/>
<path fill="#6ae098" d="M37 21h1v1h-1zM41 21h2v1h-2zM21 37h1v1h-1zM21 41h1v1h-1zM21 42h1v1h-1z"/>
<path fill="#74e381" d="M23 0h1v1h-1zM37 0h1v1h-1zM41 0h1v1h-1zM2 1h2v1h-2zM9 1h1v1h-1zM19 1h2v1h-2zM24 1h1v1h-1zM29 1h2v1h-2zM37 1h1v1h-1zM1 2h1v1h-1zM4 2h1v1h-1zM6 2h1v1h-1zM11 2h1v1h-1zM18 2h1v1h-1zM25 2h1v1h-1zM30 2h1v1h-1zM33 2h1v1h-1zM1 3h1v1h-1zM7 3h1v1h-1zM17 3h1v1h-1zM19 3h1v1h-1zM21 3h1v1h-1zM23 3h3v1h-3zM29 3h2v1h-2zM2 4h1v1h-1zM5 4h1v1h-1zM23 4h1v1h-1zM27 4h1v1h-1zM4 5h1v1h-1zM29 5h3v1h-3zM33 5h1v1h-1zM35 5h1v1h-1zM37 5h1v1h-1zM40 5h3v1h-3zM2 6h1v1h-1zM10 6h1v1h-1zM20 6h1v1h-1zM22 6h1v1h-1zM25 6h1v1h-1zM3 7h1v1h-1zM10 7h1v1h-1zM34 7h1v1h-1zM37 7h1v1h-1zM42 7h1v1h-1zM21 8h2v1h-2zM28 8h1v1h-1zM32 8h2v1h-2zM41 8h1v1h-1zM1 9h1v1h-1zM13 9h1v1h-1zM15 9h1v1h-1zM24 9h2v1h-2zM31 9h1v1h-1zM6 10h2v1h-2zM16 10h1v1h-1zM20 10h1v1h-1zM22 10h2v1h-2zM26 10h1v1h-1zM34 10h3v1h-3zM2 11h1v1h-1zM23 11h1v1h-1zM28 11h1v1h-1zM33 11h1v1h-1zM37 11h1v1h-1zM40 11h1v1h-1zM13 12h2v1h-2zM19 12h1v1h-1zM22 12h1v1h-1zM27 12h1v1h-1zM29 12h1v1h-1zM9 13h1v1h-1zM12 13h1v1h-1zM23 13h1v1h-1zM12 14h1v1h-1zM18 14h1v1h-1zM35 14h1v1h-1zM9 15h1v1h-1zM17 15h2v1h-2zM31 15h1v1h-1zM10 16h1v1h-1zM24 16h1v1h-1zM3 17h1v1h-1zM15 17h1v1h-1zM38 17h1v1h-1zM2 18h1v1h-1zM14 18h2v1h-2zM20 18h1v1h-1zM23 18h1v1h-1zM31 18h1v1h-1zM37 18h1v1h-1zM39 18h1v1h-1zM41 18h1v1h-1zM1 19h1v1h-1zM3 19h1v1h-1zM12 19h1v1h-1zM20 19h1v1h-1zM25 19h1v1h-1zM37 19h1v1h-1zM1 20h1v1h-1zM6 20h1v1h-1zM10 20h1v1h-1zM18 20h2v1h-2zM26 20h2v1h-2zM32 20h1v1h-1zM35 20h1v1h-1zM3 21h1v1h-1zM8 21h1v1h-1zM30 21h1v1h-1zM34 21h1v1h-1zM6 22h1v1h-1zM8 22h1v1h-1zM10 22h1v1h-1zM12 22h1v1h-1zM25 22h1v1h-1zM28 22h1v1h-1zM32 22h1v1h-1zM35 22h1v1h-1zM0 23h1v1h-1zM3 23h2v1h-2zM10 23h2v1h-2zM13 23h1v1h-1zM18 23h1v1h-1zM28 23h1v1h-1zM32 23h1v1h-1zM41 23h1v1h-1zM1 24h1v1h-1zM3 24h1v1h-1zM9 24h1v1h-1zM16 24h1v1h-1zM28 24h1v1h-1zM39 24h1v1h-1zM42 24h1v1h-1zM2 25h2v1h-2zM6 25h1v1h-1zM9 25h1v1h-1zM19 25h1v1h-1zM22 25h1v1h-1zM30 25h2v1h-2zM37 25h1v1h-1zM10 26h1v1h-1zM20 26h1v1h-1zM29 26h1v1h-1zM35 26h1v1h-1zM38 26h1v1h-1zM4 27h1v1h-1zM12 27h1v1h-1zM20 27h1v1h-1zM29 27h1v1h-1zM8 28h1v1h-1zM11 28h1v1h-1zM22 28h3v1h-3zM29 28h1v1h-1zM42 28h1v1h-1zM1 29h1v1h-1zM3 29h1v1h-1zM5 29h1v1h-1zM12 29h1v1h-1zM26 29h3v1h-3zM31 29h2v1h-2zM1 30h3v1h-3zM5 30h1v1h-1zM21 30h1v1h-1zM25 30h1v1h-1zM33 30h1v1h-1zM37 30h1v1h-1zM5 31h1v1h-1zM9 31h1v1h-1zM15 31h1v1h-1zM18 31h1v1h-1zM25 31h1v1h-1zM29 31h1v1h-1zM8 32h1v1h-1zM20 32h1v1h-1zM22 32h2v1h-2zM29 32h1v1h-1zM2 33h1v1h-1zM5 33h1v1h-1zM8 33h1v1h-1zM11 33h1v1h-1zM30 33h1v1h-1zM37 33h1v1h-1zM7 34h1v1h-1zM10 34h1v1h-1zM21 34h1v1h-1zM37 34h1v1h-1zM5 35h1v1h-1zM10 35h1v1h-1zM14 35h1v1h-1zM20 35h1v1h-1zM22 35h1v1h-1zM26 35h1v1h-1zM38 35h1v1h-1zM10 36h1v1h-1zM0 37h2v1h-2zM5 37h1v1h-1zM7 37h1v1h-1zM11 37h1v1h-1zM18 37h2v1h-2zM25 37h1v1h-1zM30 37h1v1h-1zM33 37h2v1h-2zM40 37h1v1h-1zM17 38h1v1h-1zM26 38h1v1h-1zM35 38h1v1h-1zM41 38h1v1h-1zM18 39h1v1h-1zM24 39h1v1h-1zM5 40h1v1h-1zM11 40h1v1h-1zM37 40h1v1h-1zM0 41h1v1h-1zM5 41h1v1h-1zM8 41h1v1h-1zM18 41h1v1h-1zM23 41h1v1h-1zM38 41h1v1h-1zM5 42h1v1h-1zM7 42h1v1h-1zM24 42h1v1h-1zM28 42h1v1h-1z"/>
<path fill="#8cdd57" d="M8 6h1v1h-1zM6 8h1v1h-1zM36 25h1v1h-1zM39 31h1v1h-1zM25 36h1v1h-1zM31 39h1v1h-1z"/>
<path fill="#aad243" d="M19 0h1v1h-1zM15 1h1v1h-1zM40 1h2v1h-2zM12 2h1v1h-1zM19 2h2v1h-2zM26 2h1v1h-1zM29 2h1v1h-1zM31 2h1v1h-1zM37 2h1v1h-1zM8 3h1v1h-1zM27 3h1v1h-1zM31 3h1v1h-1zM37 3h1v1h-1zM22 4h1v1h-1zM30 4h1v1h-1zM37 4h1v1h-1zM34 5h1v1h-1zM29 6h1v1h-1zM31 6h1v1h-1zM34 6h1v1h-1zM8 7h1v1h-1zM23 7h1v1h-1zM28 7h1v1h-1zM30 7h3v1h-3zM38 7h1v1h-1zM3 8h1v1h-1zM7 8h1v1h-1zM16 8h1v1h-1zM19 8h1v1h-1zM23 8h1v1h-1zM25 8h2v1h-2zM31 8h1v1h-1zM34 8h1v1h-1zM38 8h2v1h-2zM19 9h2v1h-2zM27 9h1v1h-1zM29 9h2v1h-2zM35 9h1v1h-1zM31 10h2v1h-2zM38 10h2v1h-2zM20 11h1v1h-1zM29 11h2v1h-2zM36 11h1v1h-1zM2 12h1v1h-1zM21 12h1v1h-1zM25 12h1v1h-1zM42 12h1v1h-1zM25 13h1v1h-1zM29 13h1v1h-1zM32 13h1v1h-1zM28 14h1v1h-1zM33 14h1v1h-1zM1 15h1v1h-1zM39 15h1v1h-1zM8 16h1v1h-1zM39 16h1v1h-1zM31 17h1v1h-1zM36 17h1v1h-1zM19 18h1v1h-1zM24 18h1v1h-1zM26 18h1v1h-1zM32 18h1v1h-1zM40 18h1v1h-1zM0 19h1v1h-1zM2 19h1v1h-1zM8 19h2v1h-2zM18 19h1v1h-1zM26 19h1v1h-1zM28 19h3v1h-3zM2 20h1v1h-1zM9 20h1v1h-1zM11 20h1v1h-1zM21 20h1v1h-1zM12 21h1v1h-1zM20 21h1v1h-1zM28 21h2v1h-2zM39 21h1v1h-1zM4 22h1v1h-1zM39 22h1v1h-1zM7 23h2v1h-2zM25 23h1v1h-1zM18 24h1v1h-1zM8 25h1v1h-1zM12 25h2v1h-2zM23 25h1v1h-1zM29 25h1v1h-1zM35 25h1v1h-1zM2 26h1v1h-1zM8 26h1v1h-1zM18 26h2v1h-2zM3 27h1v1h-1zM9 27h1v1h-1zM31 27h2v1h-2zM34 27h1v1h-1zM7 28h1v1h-1zM14 28h1v1h-1zM19 28h1v1h-1zM21 28h1v1h-1zM2 29h1v1h-1zM6 29h1v1h-1zM9 29h1v1h-1zM11 29h1v1h-1zM13 29h1v1h-1zM19 29h1v1h-1zM21 29h1v1h-1zM25 29h1v1h-1zM30 29h1v1h-1zM33 29h3v1h-3zM4 30h1v1h-1zM7 30h1v1h-1zM9 30h1v1h-1zM11 30h1v1h-1zM19 30h1v1h-1zM29 30h1v1h-1zM35 30h1v1h-1zM42 30h1v1h-1zM2 31h2v1h-2zM6 31h3v1h-3zM10 31h1v1h-1zM17 31h1v1h-1zM27 31h1v1h-1zM32 31h1v1h-1zM34 31h1v1h-1zM7 32h1v1h-1zM10 32h1v1h-1zM13 32h1v1h-1zM18 32h1v1h-1zM27 32h1v1h-1zM31 32h1v1h-1zM35 32h1v1h-1zM14 33h1v1h-1zM29 33h1v1h-1zM36 33h1v1h-1zM39 33h1v1h-1zM41 33h1v1h-1zM5 34h2v1h-2zM8 34h1v1h-1zM27 34h1v1h-1zM29 34h1v1h-1zM31 34h1v1h-1zM42 34h1v1h-1zM9 35h1v1h-1zM25 35h1v1h-1zM29 35h2v1h-2zM32 35h1v1h-1zM41 35h1v1h-1zM11 36h1v1h-1zM17 36h1v1h-1zM33 36h1v1h-1zM38 36h1v1h-1zM2 37h3v1h-3zM7 38h2v1h-2zM10 38h1v1h-1zM36 38h1v1h-1zM39 38h1v1h-1zM8 39h1v1h-1zM10 39h1v1h-1zM15 39h2v1h-2zM21 39h2v1h-2zM33 39h1v1h-1zM38 39h1v1h-1zM1 40h1v1h-1zM18 40h1v1h-1zM1 41h1v1h-1zM33 41h1v1h-1zM35 41h1v1h-1zM12 42h1v1h-1zM30 42h1v1h-1zM34 42h1v1h-1z"/>
<path fill="#c6c939" d="M41 22h1v1h-1zM31 26h1v1h-1zM42 29h1v1h-1zM26 31h1v1h-1zM22 41h1v1h-1zM29 42h1v1h-1z"/>
<path fill="#dfb73d" d="M8 2h1v1h-1zM34 2h2v1h-2zM20 3h1v1h-1zM26 3h1v1h-1zM32 3h1v1h-1zM35 3h1v1h-1zM32 4h1v1h-1zM34 4h1v1h-1zM42 4h1v1h-1zM25 7h1v1h-1zM29 7h1v1h-1zM2 8h1v1h-1zM9 8h1v1h-1zM15 8h1v1h-1zM8 9h1v1h-1zM21 9h1v1h-1zM28 9h1v1h-1zM33 9h1v1h-1zM19 11h1v1h-1zM25 11h1v1h-1zM31 11h2v1h-2zM17 12h1v1h-1zM20 12h1v1h-1zM31 12h2v1h-2zM26 14h1v1h-1zM8 15h1v1h-1zM41 15h1v1h-1zM18 16h1v1h-1zM12 17h1v1h-1zM16 18h1v1h-1zM11 19h1v1h-1zM3 20h1v1h-1zM12 20h1v1h-1zM31 20h1v1h-1zM34 20h1v1h-1zM9 21h1v1h-1zM31 21h2v1h-2zM35 21h1v1h-1zM31 23h1v1h-1zM35 23h1v1h-1zM35 24h1v1h-1zM7 25h1v1h-1zM11 25h1v1h-1zM3 26h1v1h-1zM14 26h1v1h-1zM9 28h1v1h-1zM7 29h1v1h-1zM11 31h2v1h-2zM20 31h2v1h-2zM23 31h1v1h-1zM33 31h1v1h-1zM35 31h1v1h-1zM37 31h1v1h-1zM40 31h1v1h-1zM3 32h2v1h-2zM11 32h2v1h-2zM21 32h1v1h-1zM42 32h1v1h-1zM9 33h1v1h-1zM31 33h1v1h-1zM38 33h1v1h-1zM2 34h1v1h-1zM4 34h1v1h-1zM20 34h1v1h-1zM2 35h2v1h-2zM21 35h1v1h-1zM23 35h2v1h-2zM31 35h1v1h-1zM31 37h1v1h-1zM33 38h1v1h-1zM31 40h1v1h-1zM15 41h1v1h-1zM4 42h1v1h-1zM32 42h1v1h-1z"/>
<path fill="#e8fc3c" d="M31 4h1v1h-1zM25 18h1v1h-1zM30 20h1v1h-1zM18 25h1v1h-1zM20 30h1v1h-1zM4 31h1v1h-1z"/>
</g></g>
<use href="#hm3" filter="url(#hblur)" opacity="0.6"/>
</g>
<rect x="58.50" y="1188.20" width="404.20" height="330.50" fill="none" stroke="#333333" stroke-width="1.3"/>
<path d="M147.80 1518.70v-3.2M147.80 1188.20v3.2M58.50 1261.22h3.2M462.70 1261.22h-3.2M241.80 1518.70v-3.2M241.80 1188.20v3.2M58.50 1338.08h3.2M462.70 1338.08h-3.2M335.80 1518.70v-3.2M335.80 1188.20v3.2M58.50 1414.94h3.2M462.70 1414.94h-3.2M429.80 1518.70v-3.2M429.80 1188.20v3.2M58.50 1491.80h3.2M462.70 1491.80h-3.2" stroke="#333333" stroke-width="1.2" fill="none"/>
<g font-family="Liberation Sans, Arial, Helvetica, sans-serif" font-size="33.2" fill="#000" stroke="#000" stroke-width="0.45" stroke-linejoin="round">
<text x="147.8" y="1562.0" text-anchor="middle">10</text>
<text x="48.2" y="1274.6" text-anchor="end">10</text>
<text x="241.8" y="1562.0" text-anchor="middle">20</text>
<text x="48.2" y="1351.5" text-anchor="end">20</text>
<text x="335.8" y="1562.0" text-anchor="middle">30</text>
<text x="48.2" y="1428.3" text-anchor="end">30</text>
<text x="429.8" y="1562.0" text-anchor="middle">40</text>
<text x="48.2" y="1505.2" text-anchor="end">40</text>
</g>
<rect x="473.40" y="1188.20" width="22.40" height="330.50" fill="url(#cbg)" stroke="#262626" stroke-width="1.2"/>
<g font-family="Liberation Sans, Arial, Helvetica, sans-serif" font-size="29.9" fill="#000" stroke="#000" stroke-width="0.45" stroke-linejoin="round">
<text x="505.15" y="1253.15">0.1</text>
<text x="505.15" y="1309.85">0.05</text>
<text x="505.15" y="1366.55">0</text>
<text x="505.15" y="1423.25">-0.05</text>
<text x="505.15" y="1479.95">-0.1</text>
</g>
<path d="M495.80 1240.10h-3M495.80 1296.80h-3M495.80 1353.50h-3M495.80 1410.20h-3M495.80 1466.90h-3" stroke="#262626" stroke-width="1.2" fill="none"/>
<text x="0.43" y="1173.80" font-family="Liberation Sans, Arial, Helvetica, sans-serif" font-size="37.15" stroke="#000" stroke-width="0.70" stroke-linejoin="round" >Mean PLV for</text>
<text x="237.97" y="1175.60" font-family="Liberation Serif, Times New Roman, Times, serif" font-size="41.17" stroke="#000" stroke-width="0.50" stroke-linejoin="round" >SR-SF</text>
<text x="365.07" y="1173.80" font-family="Liberation Sans, Arial, Helvetica, sans-serif" font-size="36.92" stroke="#000" stroke-width="0.70" stroke-linejoin="round" >high level</text>
<text x="1184.48" y="1171.70" font-family="Liberation Sans, Arial, Helvetica, sans-serif" font-size="36.65" stroke="#000" stroke-width="0.70" stroke-linejoin="round" >p-values&lt;0.05 (multiple correction)</text>
<text x="763.48" y="1198.90" font-family="Liberation Serif, Times New Roman, Times, serif" font-size="58.18" stroke="#000" stroke-width="0.30" stroke-linejoin="round" >SR &gt; SF</text>
<!-- row 2 right pmap -->
<rect x="1240.10" y="1188.20" width="450.60" height="330.50" fill="#4025b3"/>
<g transform="translate(1240.10 1188.20) scale(10.4791 7.6860)" shape-rendering="crispEdges">
<path fill="#eefa3a" d="M0 0h1v1h-1zM1 1h1v1h-1zM2 2h1v1h-1zM3 3h1v1h-1zM4 4h1v1h-1zM5 5h1v1h-1zM6 6h1v1h-1zM7 7h1v1h-1zM8 8h1v1h-1zM9 9h1v1h-1zM10 10h1v1h-1zM11 11h1v1h-1zM12 12h1v1h-1zM13 13h1v1h-1zM14 14h1v1h-1zM15 15h1v1h-1zM16 16h1v1h-1zM17 17h1v1h-1zM18 18h1v1h-1zM19 19h1v1h-1zM20 20h1v1h-1zM21 21h1v1h-1zM22 22h1v1h-1zM23 23h1v1h-1zM24 24h1v1h-1zM25 25h1v1h-1zM26 26h1v1h-1zM27 27h1v1h-1zM28 28h1v1h-1zM29 29h1v1h-1zM30 30h1v1h-1zM31 31h1v1h-1zM32 32h1v1h-1zM33 33h1v1h-1zM34 34h1v1h-1zM35 35h1v1h-1zM36 36h1v1h-1zM37 37h1v1h-1zM38 38h1v1h-1zM39 39h1v1h-1zM40 40h1v1h-1zM41 41h1v1h-1zM42 42h1v1h-1zM31 4h1v1h-1zM4 31h1v1h-1zM30 20h1v1h-1zM20 30h1v1h-1z"/>
</g>
<rect x="1240.10" y="1188.20" width="450.60" height="330.50" fill="none" stroke="#0e0e30" stroke-width="1.3"/>
<path d="M1339.65 1518.70v-3.2M1339.65 1188.20v3.2M1240.10 1261.22h3.2M1690.70 1261.22h-3.2M1444.44 1518.70v-3.2M1444.44 1188.20v3.2M1240.10 1338.08h3.2M1690.70 1338.08h-3.2M1549.23 1518.70v-3.2M1549.23 1188.20v3.2M1240.10 1414.94h3.2M1690.70 1414.94h-3.2M1654.02 1518.70v-3.2M1654.02 1188.20v3.2M1240.10 1491.80h3.2M1690.70 1491.80h-3.2" stroke="#0e0e30" stroke-width="1.2" fill="none"/>
<g font-family="Liberation Sans, Arial, Helvetica, sans-serif" font-size="33.2" fill="#000" stroke="#000" stroke-width="0.45" stroke-linejoin="round">
<text x="1339.7" y="1562.0" text-anchor="middle">10</text>
<text x="1229.9" y="1274.6" text-anchor="end">10</text>
<text x="1444.4" y="1562.0" text-anchor="middle">20</text>
<text x="1229.9" y="1351.5" text-anchor="end">20</text>
<text x="1549.2" y="1562.0" text-anchor="middle">30</text>
<text x="1229.9" y="1428.3" text-anchor="end">30</text>
<text x="1654.0" y="1562.0" text-anchor="middle">40</text>
<text x="1229.9" y="1505.2" text-anchor="end">40</text>
</g>
<!-- row 3 left heatmap -->
<clipPath id="hc4"><rect x="58.50" y="1669.20" width="404.20" height="330.50"/></clipPath>
<g clip-path="url(#hc4)"><g>
<g id="hm4" transform="translate(58.50 1669.20) scale(9.4000 7.6860)">
<rect x="-1" y="-1" width="45" height="45" fill="#5cd4bd"/>
<path fill="#4e3dfd" d="M27 2h1v1h-1zM13 3h1v1h-1zM16 4h1v1h-1zM25 4h1v1h-1zM7 5h1v1h-1zM13 5h1v1h-1zM5 7h1v1h-1zM27 7h1v1h-1zM42 8h1v1h-1zM19 10h1v1h-1zM37 10h1v1h-1zM3 13h1v1h-1zM5 13h1v1h-1zM31 13h1v1h-1zM41 13h1v1h-1zM19 14h2v1h-2zM23 14h1v1h-1zM19 15h2v1h-2zM4 16h1v1h-1zM22 17h1v1h-1zM10 19h1v1h-1zM14 19h2v1h-2zM27 19h1v1h-1zM31 19h1v1h-1zM14 20h2v1h-2zM41 20h1v1h-1zM17 22h1v1h-1zM14 23h1v1h-1zM4 25h1v1h-1zM2 27h1v1h-1zM7 27h1v1h-1zM19 27h1v1h-1zM38 27h1v1h-1zM31 28h1v1h-1zM37 28h1v1h-1zM13 31h1v1h-1zM19 31h1v1h-1zM28 31h1v1h-1zM34 31h1v1h-1zM31 34h1v1h-1zM10 37h1v1h-1zM28 37h1v1h-1zM39 37h1v1h-1zM27 38h1v1h-1zM37 39h1v1h-1zM13 41h1v1h-1zM20 41h1v1h-1zM8 42h1v1h-1z"/>
<path fill="#5668ff" d="M20 19h1v1h-1zM19 20h1v1h-1zM36 26h1v1h-1zM26 36h1v1h-1z"/>
<path fill="#4d89ff" d="M2 0h1v1h-1zM12 0h1v1h-1zM14 0h1v1h-1zM28 0h1v1h-1zM31 0h2v1h-2zM11 1h1v1h-1zM0 2h1v1h-1zM7 2h1v1h-1zM10 2h1v1h-1zM16 2h1v1h-1zM36 3h1v1h-1zM14 4h2v1h-2zM24 4h1v1h-1zM36 4h1v1h-1zM11 5h1v1h-1zM17 5h1v1h-1zM9 6h1v1h-1zM27 6h1v1h-1zM2 7h1v1h-1zM9 7h1v1h-1zM11 7h2v1h-2zM34 7h1v1h-1zM18 8h3v1h-3zM34 8h1v1h-1zM37 8h1v1h-1zM40 8h1v1h-1zM6 9h2v1h-2zM10 9h1v1h-1zM12 9h1v1h-1zM14 9h1v1h-1zM26 9h1v1h-1zM2 10h1v1h-1zM9 10h1v1h-1zM12 10h1v1h-1zM14 10h1v1h-1zM23 10h1v1h-1zM27 10h1v1h-1zM29 10h1v1h-1zM33 10h1v1h-1zM1 11h1v1h-1zM5 11h1v1h-1zM7 11h1v1h-1zM12 11h2v1h-2zM27 11h1v1h-1zM35 11h1v1h-1zM0 12h1v1h-1zM7 12h1v1h-1zM9 12h3v1h-3zM27 12h2v1h-2zM35 12h2v1h-2zM38 12h2v1h-2zM11 13h1v1h-1zM14 13h1v1h-1zM19 13h1v1h-1zM24 13h1v1h-1zM26 13h1v1h-1zM34 13h1v1h-1zM36 13h1v1h-1zM38 13h1v1h-1zM0 14h1v1h-1zM4 14h1v1h-1zM9 14h2v1h-2zM13 14h1v1h-1zM15 14h1v1h-1zM21 14h2v1h-2zM29 14h1v1h-1zM32 14h1v1h-1zM36 14h1v1h-1zM39 14h1v1h-1zM41 14h1v1h-1zM4 15h1v1h-1zM14 15h1v1h-1zM21 15h1v1h-1zM2 16h1v1h-1zM17 16h1v1h-1zM21 16h1v1h-1zM25 16h1v1h-1zM29 16h1v1h-1zM31 16h1v1h-1zM34 16h1v1h-1zM42 16h1v1h-1zM5 17h1v1h-1zM16 17h1v1h-1zM34 17h1v1h-1zM39 17h1v1h-1zM8 18h1v1h-1zM34 18h1v1h-1zM8 19h1v1h-1zM13 19h1v1h-1zM8 20h1v1h-1zM22 20h1v1h-1zM24 20h1v1h-1zM27 20h2v1h-2zM36 20h3v1h-3zM14 21h3v1h-3zM14 22h1v1h-1zM20 22h1v1h-1zM23 22h1v1h-1zM27 22h1v1h-1zM10 23h1v1h-1zM22 23h1v1h-1zM26 23h2v1h-2zM40 23h1v1h-1zM4 24h1v1h-1zM13 24h1v1h-1zM20 24h1v1h-1zM31 24h1v1h-1zM33 24h1v1h-1zM16 25h1v1h-1zM9 26h1v1h-1zM13 26h1v1h-1zM23 26h1v1h-1zM33 26h1v1h-1zM6 27h1v1h-1zM10 27h3v1h-3zM20 27h1v1h-1zM22 27h2v1h-2zM37 27h1v1h-1zM39 27h3v1h-3zM0 28h1v1h-1zM12 28h1v1h-1zM20 28h1v1h-1zM33 28h2v1h-2zM10 29h1v1h-1zM14 29h1v1h-1zM16 29h1v1h-1zM31 30h2v1h-2zM0 31h1v1h-1zM16 31h1v1h-1zM24 31h1v1h-1zM30 31h1v1h-1zM0 32h1v1h-1zM14 32h1v1h-1zM30 32h1v1h-1zM38 32h3v1h-3zM10 33h1v1h-1zM24 33h1v1h-1zM26 33h1v1h-1zM28 33h1v1h-1zM7 34h2v1h-2zM13 34h1v1h-1zM16 34h3v1h-3zM28 34h1v1h-1zM41 34h1v1h-1zM11 35h2v1h-2zM39 35h1v1h-1zM3 36h2v1h-2zM12 36h3v1h-3zM20 36h1v1h-1zM40 36h1v1h-1zM42 36h1v1h-1zM8 37h1v1h-1zM20 37h1v1h-1zM27 37h1v1h-1zM42 37h1v1h-1zM12 38h2v1h-2zM20 38h1v1h-1zM32 38h1v1h-1zM42 38h1v1h-1zM12 39h1v1h-1zM14 39h1v1h-1zM17 39h1v1h-1zM27 39h1v1h-1zM32 39h1v1h-1zM35 39h1v1h-1zM8 40h1v1h-1zM23 40h1v1h-1zM27 40h1v1h-1zM32 40h1v1h-1zM36 40h1v1h-1zM14 41h1v1h-1zM27 41h1v1h-1zM34 41h1v1h-1zM16 42h1v1h-1zM36 42h3v1h-3z"/>
<path fill="#4c9cf4" d="M14 2h1v1h-1zM14 3h1v1h-1zM15 10h1v1h-1zM2 14h2v1h-2zM10 15h1v1h-1zM42 22h1v1h-1zM33 23h2v1h-2zM37 23h1v1h-1zM42 23h1v1h-1zM36 24h2v1h-2zM34 25h1v1h-1zM36 27h1v1h-1zM30 29h1v1h-1zM29 30h1v1h-1zM41 32h1v1h-1zM23 33h1v1h-1zM23 34h1v1h-1zM25 34h1v1h-1zM24 36h1v1h-1zM27 36h1v1h-1zM37 36h1v1h-1zM39 36h1v1h-1zM23 37h2v1h-2zM36 37h1v1h-1zM36 39h1v1h-1zM40 39h1v1h-1zM39 40h1v1h-1zM42 40h1v1h-1zM32 41h1v1h-1zM22 42h2v1h-2zM40 42h1v1h-1z"/>
<path fill="#4da5eb" d="M21 5h1v1h-1zM21 10h1v1h-1zM21 17h1v1h-1zM5 21h1v1h-1zM10 21h1v1h-1zM17 21h1v1h-1z"/>
<path fill="#4fafe1" d="M1 0h1v1h-1zM5 0h1v1h-1zM13 0h1v1h-1zM20 0h1v1h-1zM24 0h1v1h-1zM29 0h1v1h-1zM40 0h1v1h-1zM0 1h1v1h-1zM31 1h1v1h-1zM9 2h1v1h-1zM22 2h1v1h-1zM24 2h1v1h-1zM31 2h1v1h-1zM36 2h1v1h-1zM41 2h1v1h-1zM4 3h1v1h-1zM9 3h1v1h-1zM16 3h1v1h-1zM28 3h1v1h-1zM30 3h1v1h-1zM41 3h2v1h-2zM3 4h1v1h-1zM7 4h1v1h-1zM17 4h1v1h-1zM35 4h1v1h-1zM38 4h4v1h-4zM0 5h1v1h-1zM10 5h1v1h-1zM23 5h1v1h-1zM25 5h1v1h-1zM28 5h1v1h-1zM36 5h1v1h-1zM39 5h2v1h-2zM39 6h1v1h-1zM42 6h1v1h-1zM4 7h1v1h-1zM14 7h2v1h-2zM17 7h1v1h-1zM22 7h1v1h-1zM30 7h1v1h-1zM39 7h1v1h-1zM24 8h1v1h-1zM27 8h4v1h-4zM2 9h2v1h-2zM22 9h1v1h-1zM27 9h1v1h-1zM36 9h1v1h-1zM38 9h1v1h-1zM41 9h1v1h-1zM5 10h1v1h-1zM26 10h1v1h-1zM42 10h1v1h-1zM16 11h1v1h-1zM22 11h1v1h-1zM41 11h1v1h-1zM22 12h1v1h-1zM26 12h1v1h-1zM34 12h1v1h-1zM0 13h1v1h-1zM22 13h1v1h-1zM27 13h1v1h-1zM33 13h1v1h-1zM39 13h1v1h-1zM7 14h1v1h-1zM17 14h1v1h-1zM27 14h1v1h-1zM33 14h1v1h-1zM7 15h1v1h-1zM16 15h1v1h-1zM27 15h1v1h-1zM32 15h1v1h-1zM3 16h1v1h-1zM11 16h1v1h-1zM15 16h1v1h-1zM20 16h1v1h-1zM23 16h2v1h-2zM33 16h1v1h-1zM4 17h1v1h-1zM7 17h1v1h-1zM14 17h1v1h-1zM20 17h1v1h-1zM27 17h1v1h-1zM33 17h1v1h-1zM35 17h1v1h-1zM41 17h2v1h-2zM21 18h1v1h-1zM27 18h3v1h-3zM31 18h1v1h-1zM33 18h1v1h-1zM35 18h2v1h-2zM42 18h1v1h-1zM39 19h1v1h-1zM0 20h1v1h-1zM16 20h2v1h-2zM23 20h1v1h-1zM29 20h1v1h-1zM40 20h1v1h-1zM18 21h1v1h-1zM23 21h2v1h-2zM2 22h1v1h-1zM7 22h1v1h-1zM9 22h1v1h-1zM11 22h3v1h-3zM5 23h1v1h-1zM16 23h1v1h-1zM20 23h2v1h-2zM24 23h1v1h-1zM29 23h1v1h-1zM0 24h1v1h-1zM2 24h1v1h-1zM8 24h1v1h-1zM16 24h1v1h-1zM21 24h1v1h-1zM23 24h1v1h-1zM5 25h1v1h-1zM26 25h1v1h-1zM10 26h1v1h-1zM12 26h1v1h-1zM25 26h1v1h-1zM27 26h1v1h-1zM8 27h2v1h-2zM13 27h3v1h-3zM17 27h2v1h-2zM26 27h1v1h-1zM3 28h1v1h-1zM5 28h1v1h-1zM8 28h1v1h-1zM18 28h1v1h-1zM42 28h1v1h-1zM0 29h1v1h-1zM8 29h1v1h-1zM18 29h1v1h-1zM20 29h1v1h-1zM23 29h1v1h-1zM41 29h1v1h-1zM3 30h1v1h-1zM7 30h2v1h-2zM1 31h2v1h-2zM18 31h1v1h-1zM32 31h1v1h-1zM15 32h1v1h-1zM31 32h1v1h-1zM33 32h2v1h-2zM13 33h2v1h-2zM16 33h3v1h-3zM32 33h1v1h-1zM35 33h1v1h-1zM37 33h1v1h-1zM12 34h1v1h-1zM32 34h1v1h-1zM36 34h1v1h-1zM4 35h1v1h-1zM17 35h2v1h-2zM33 35h1v1h-1zM36 35h1v1h-1zM2 36h1v1h-1zM5 36h1v1h-1zM9 36h1v1h-1zM18 36h1v1h-1zM34 36h2v1h-2zM33 37h1v1h-1zM4 38h1v1h-1zM9 38h1v1h-1zM4 39h4v1h-4zM13 39h1v1h-1zM19 39h1v1h-1zM0 40h1v1h-1zM4 40h2v1h-2zM20 40h1v1h-1zM2 41h3v1h-3zM9 41h1v1h-1zM11 41h1v1h-1zM17 41h1v1h-1zM29 41h1v1h-1zM3 42h1v1h-1zM6 42h1v1h-1zM10 42h1v1h-1zM17 42h2v1h-2zM28 42h1v1h-1z"/>
<path fill="#56c3cd" d="M21 8h1v1h-1zM8 21h1v1h-1zM40 21h1v1h-1zM21 40h1v1h-1zM42 41h1v1h-1zM41 42h1v1h-1z"/>
<path fill="#59cbc6" d="M16 1h1v1h-1zM20 5h1v1h-1zM19 7h1v1h-1zM13 8h1v1h-1zM17 8h1v1h-1zM8 13h1v1h-1zM20 13h1v1h-1zM1 16h1v1h-1zM8 17h1v1h-1zM19 17h1v1h-1zM7 19h1v1h-1zM17 19h1v1h-1zM21 19h1v1h-1zM5 20h1v1h-1zM13 20h1v1h-1zM19 21h1v1h-1zM38 21h1v1h-1zM41 21h1v1h-1zM34 24h1v1h-1zM36 28h1v1h-1zM39 28h1v1h-1zM39 29h1v1h-1zM24 34h1v1h-1zM28 36h1v1h-1zM21 38h1v1h-1zM41 38h1v1h-1zM28 39h2v1h-2zM21 41h1v1h-1zM38 41h1v1h-1z"/>
<path fill="#65dda5" d="M16 0h1v1h-1zM8 7h1v1h-1zM20 7h1v1h-1zM7 8h1v1h-1zM17 9h1v1h-1zM19 9h1v1h-1zM0 16h1v1h-1zM9 17h1v1h-1zM9 19h1v1h-1zM7 20h1v1h-1zM39 23h1v1h-1zM42 27h1v1h-1zM33 30h2v1h-2zM30 33h1v1h-1zM40 33h2v1h-2zM30 34h1v1h-1zM40 35h1v1h-1zM42 35h1v1h-1zM40 38h1v1h-1zM23 39h1v1h-1zM33 40h1v1h-1zM35 40h1v1h-1zM38 40h1v1h-1zM33 41h1v1h-1zM27 42h1v1h-1zM35 42h1v1h-1z"/>
<path fill="#6ae098" d="M21 1h1v1h-1zM21 11h1v1h-1zM1 21h1v1h-1zM11 21h1v1h-1zM25 21h1v1h-1zM21 25h1v1h-1z"/>
<path fill="#74e381" d="M3 0h2v1h-2zM10 0h1v1h-1zM18 0h1v1h-1zM26 0h1v1h-1zM37 0h3v1h-3zM2 1h1v1h-1zM23 1h1v1h-1zM25 1h1v1h-1zM35 1h1v1h-1zM39 1h1v1h-1zM1 2h1v1h-1zM3 2h2v1h-2zM11 2h1v1h-1zM19 2h1v1h-1zM26 2h1v1h-1zM28 2h2v1h-2zM32 2h3v1h-3zM42 2h1v1h-1zM0 3h1v1h-1zM2 3h1v1h-1zM7 3h1v1h-1zM11 3h1v1h-1zM17 3h1v1h-1zM19 3h1v1h-1zM25 3h1v1h-1zM27 3h1v1h-1zM31 3h1v1h-1zM37 3h1v1h-1zM0 4h1v1h-1zM2 4h1v1h-1zM10 4h2v1h-2zM18 4h2v1h-2zM21 4h1v1h-1zM23 4h1v1h-1zM27 4h1v1h-1zM31 4h1v1h-1zM24 5h1v1h-1zM26 5h1v1h-1zM29 5h1v1h-1zM32 5h2v1h-2zM41 5h2v1h-2zM8 6h1v1h-1zM17 6h1v1h-1zM30 6h1v1h-1zM3 7h1v1h-1zM10 7h1v1h-1zM16 7h1v1h-1zM23 7h2v1h-2zM26 7h1v1h-1zM28 7h2v1h-2zM32 7h1v1h-1zM35 7h1v1h-1zM37 7h1v1h-1zM6 8h1v1h-1zM23 8h1v1h-1zM36 8h1v1h-1zM16 9h1v1h-1zM25 9h1v1h-1zM32 9h1v1h-1zM0 10h1v1h-1zM4 10h1v1h-1zM7 10h1v1h-1zM16 10h1v1h-1zM22 10h1v1h-1zM25 10h1v1h-1zM39 10h1v1h-1zM2 11h3v1h-3zM20 11h1v1h-1zM28 11h1v1h-1zM37 11h1v1h-1zM40 11h1v1h-1zM17 12h1v1h-1zM19 12h1v1h-1zM23 12h1v1h-1zM25 12h1v1h-1zM18 14h1v1h-1zM37 14h1v1h-1zM17 15h1v1h-1zM25 15h1v1h-1zM7 16h1v1h-1zM9 16h2v1h-2zM22 16h1v1h-1zM36 16h3v1h-3zM3 17h1v1h-1zM6 17h1v1h-1zM12 17h1v1h-1zM15 17h1v1h-1zM26 17h1v1h-1zM0 18h1v1h-1zM4 18h1v1h-1zM14 18h1v1h-1zM20 18h1v1h-1zM24 18h1v1h-1zM37 18h1v1h-1zM2 19h3v1h-3zM12 19h1v1h-1zM28 19h1v1h-1zM35 19h4v1h-4zM11 20h1v1h-1zM18 20h1v1h-1zM26 20h1v1h-1zM4 21h1v1h-1zM34 21h1v1h-1zM10 22h1v1h-1zM16 22h1v1h-1zM24 22h2v1h-2zM32 22h2v1h-2zM35 22h1v1h-1zM1 23h1v1h-1zM4 23h1v1h-1zM7 23h2v1h-2zM12 23h1v1h-1zM38 23h1v1h-1zM5 24h1v1h-1zM7 24h1v1h-1zM18 24h1v1h-1zM22 24h1v1h-1zM26 24h2v1h-2zM30 24h1v1h-1zM32 24h1v1h-1zM1 25h1v1h-1zM3 25h1v1h-1zM9 25h2v1h-2zM12 25h1v1h-1zM15 25h1v1h-1zM22 25h1v1h-1zM37 25h2v1h-2zM0 26h1v1h-1zM2 26h1v1h-1zM5 26h1v1h-1zM7 26h1v1h-1zM17 26h1v1h-1zM20 26h1v1h-1zM24 26h1v1h-1zM39 26h2v1h-2zM3 27h2v1h-2zM24 27h1v1h-1zM31 27h1v1h-1zM2 28h1v1h-1zM7 28h1v1h-1zM11 28h1v1h-1zM19 28h1v1h-1zM38 28h1v1h-1zM2 29h1v1h-1zM5 29h1v1h-1zM7 29h1v1h-1zM33 29h4v1h-4zM6 30h1v1h-1zM24 30h1v1h-1zM39 30h2v1h-2zM42 30h1v1h-1zM3 31h2v1h-2zM27 31h1v1h-1zM36 31h3v1h-3zM2 32h1v1h-1zM5 32h1v1h-1zM7 32h1v1h-1zM9 32h1v1h-1zM22 32h1v1h-1zM24 32h1v1h-1zM2 33h1v1h-1zM5 33h1v1h-1zM22 33h1v1h-1zM29 33h1v1h-1zM2 34h1v1h-1zM21 34h1v1h-1zM29 34h1v1h-1zM1 35h1v1h-1zM7 35h1v1h-1zM19 35h1v1h-1zM22 35h1v1h-1zM29 35h1v1h-1zM8 36h1v1h-1zM16 36h1v1h-1zM19 36h1v1h-1zM29 36h1v1h-1zM31 36h1v1h-1zM0 37h1v1h-1zM3 37h1v1h-1zM7 37h1v1h-1zM11 37h1v1h-1zM14 37h1v1h-1zM16 37h1v1h-1zM18 37h2v1h-2zM25 37h1v1h-1zM31 37h1v1h-1zM38 37h1v1h-1zM0 38h1v1h-1zM16 38h1v1h-1zM19 38h1v1h-1zM23 38h1v1h-1zM25 38h1v1h-1zM28 38h1v1h-1zM31 38h1v1h-1zM37 38h1v1h-1zM0 39h2v1h-2zM10 39h1v1h-1zM26 39h1v1h-1zM30 39h1v1h-1zM11 40h1v1h-1zM26 40h1v1h-1zM30 40h1v1h-1zM5 41h1v1h-1zM2 42h1v1h-1zM5 42h1v1h-1zM30 42h1v1h-1z"/>
<path fill="#8cdd57" d="M18 3h1v1h-1zM18 6h1v1h-1zM3 18h1v1h-1zM6 18h1v1h-1zM29 27h1v1h-1zM40 28h1v1h-1zM27 29h1v1h-1zM40 29h1v1h-1zM28 40h2v1h-2z"/>
<path fill="#aad243" d="M15 0h1v1h-1zM17 0h1v1h-1zM19 0h1v1h-1zM22 0h2v1h-2zM3 1h2v1h-2zM6 1h1v1h-1zM10 1h1v1h-1zM15 1h1v1h-1zM17 1h1v1h-1zM20 1h1v1h-1zM26 1h5v1h-5zM33 1h1v1h-1zM37 1h2v1h-2zM20 2h2v1h-2zM30 2h1v1h-1zM37 2h1v1h-1zM40 2h1v1h-1zM1 3h1v1h-1zM6 3h1v1h-1zM8 3h1v1h-1zM10 3h1v1h-1zM24 3h1v1h-1zM32 3h1v1h-1zM34 3h1v1h-1zM1 4h1v1h-1zM20 4h1v1h-1zM22 4h1v1h-1zM34 4h1v1h-1zM37 4h1v1h-1zM42 4h1v1h-1zM9 5h1v1h-1zM14 5h2v1h-2zM18 5h1v1h-1zM27 5h1v1h-1zM34 5h2v1h-2zM37 5h1v1h-1zM1 6h1v1h-1zM3 6h1v1h-1zM11 6h1v1h-1zM14 6h3v1h-3zM23 6h1v1h-1zM25 6h2v1h-2zM28 6h1v1h-1zM40 6h2v1h-2zM21 7h1v1h-1zM25 7h1v1h-1zM33 7h1v1h-1zM36 7h1v1h-1zM38 7h1v1h-1zM40 7h1v1h-1zM3 8h1v1h-1zM14 8h3v1h-3zM25 8h2v1h-2zM33 8h1v1h-1zM39 8h1v1h-1zM5 9h1v1h-1zM20 9h1v1h-1zM33 9h1v1h-1zM40 9h1v1h-1zM42 9h1v1h-1zM1 10h1v1h-1zM3 10h1v1h-1zM20 10h1v1h-1zM30 10h1v1h-1zM32 10h1v1h-1zM40 10h1v1h-1zM6 11h1v1h-1zM17 11h1v1h-1zM23 11h1v1h-1zM25 11h1v1h-1zM31 11h1v1h-1zM33 11h1v1h-1zM42 11h1v1h-1zM13 12h1v1h-1zM42 12h1v1h-1zM12 13h1v1h-1zM23 13h1v1h-1zM25 13h1v1h-1zM32 13h1v1h-1zM5 14h2v1h-2zM8 14h1v1h-1zM28 14h1v1h-1zM30 14h1v1h-1zM0 15h2v1h-2zM5 15h2v1h-2zM8 15h1v1h-1zM23 15h2v1h-2zM36 15h1v1h-1zM41 15h1v1h-1zM6 16h1v1h-1zM8 16h1v1h-1zM28 16h1v1h-1zM35 16h1v1h-1zM41 16h1v1h-1zM0 17h2v1h-2zM11 17h1v1h-1zM18 17h1v1h-1zM29 17h3v1h-3zM36 17h1v1h-1zM5 18h1v1h-1zM17 18h1v1h-1zM23 18h1v1h-1zM30 18h1v1h-1zM32 18h1v1h-1zM39 18h1v1h-1zM0 19h1v1h-1zM24 19h1v1h-1zM30 19h1v1h-1zM32 19h1v1h-1zM41 19h2v1h-2zM1 20h2v1h-2zM4 20h1v1h-1zM9 20h2v1h-2zM21 20h1v1h-1zM32 20h1v1h-1zM2 21h1v1h-1zM7 21h1v1h-1zM20 21h1v1h-1zM26 21h1v1h-1zM0 22h1v1h-1zM4 22h1v1h-1zM30 22h2v1h-2zM38 22h1v1h-1zM40 22h1v1h-1zM0 23h1v1h-1zM6 23h1v1h-1zM11 23h1v1h-1zM13 23h1v1h-1zM15 23h1v1h-1zM18 23h1v1h-1zM25 23h1v1h-1zM28 23h1v1h-1zM30 23h1v1h-1zM3 24h1v1h-1zM15 24h1v1h-1zM19 24h1v1h-1zM25 24h1v1h-1zM39 24h1v1h-1zM42 24h1v1h-1zM6 25h3v1h-3zM11 25h1v1h-1zM13 25h1v1h-1zM23 25h2v1h-2zM40 25h1v1h-1zM1 26h1v1h-1zM6 26h1v1h-1zM8 26h1v1h-1zM21 26h1v1h-1zM28 26h1v1h-1zM32 26h1v1h-1zM41 26h2v1h-2zM1 27h1v1h-1zM5 27h1v1h-1zM33 27h1v1h-1zM1 28h1v1h-1zM6 28h1v1h-1zM14 28h1v1h-1zM16 28h1v1h-1zM23 28h1v1h-1zM26 28h1v1h-1zM1 29h1v1h-1zM17 29h1v1h-1zM42 29h1v1h-1zM1 30h2v1h-2zM10 30h1v1h-1zM14 30h1v1h-1zM17 30h3v1h-3zM22 30h2v1h-2zM41 30h1v1h-1zM11 31h1v1h-1zM17 31h1v1h-1zM22 31h1v1h-1zM33 31h1v1h-1zM3 32h1v1h-1zM10 32h1v1h-1zM13 32h1v1h-1zM18 32h3v1h-3zM26 32h1v1h-1zM35 32h1v1h-1zM37 32h1v1h-1zM1 33h1v1h-1zM7 33h3v1h-3zM11 33h1v1h-1zM27 33h1v1h-1zM31 33h1v1h-1zM34 33h1v1h-1zM39 33h1v1h-1zM3 34h3v1h-3zM33 34h1v1h-1zM5 35h1v1h-1zM16 35h1v1h-1zM32 35h1v1h-1zM7 36h1v1h-1zM15 36h1v1h-1zM17 36h1v1h-1zM38 36h1v1h-1zM1 37h2v1h-2zM4 37h2v1h-2zM32 37h1v1h-1zM40 37h2v1h-2zM1 38h1v1h-1zM7 38h1v1h-1zM22 38h1v1h-1zM36 38h1v1h-1zM39 38h1v1h-1zM8 39h1v1h-1zM18 39h1v1h-1zM24 39h1v1h-1zM33 39h1v1h-1zM38 39h1v1h-1zM2 40h1v1h-1zM6 40h2v1h-2zM9 40h2v1h-2zM22 40h1v1h-1zM25 40h1v1h-1zM37 40h1v1h-1zM6 41h1v1h-1zM15 41h2v1h-2zM19 41h1v1h-1zM26 41h1v1h-1zM30 41h1v1h-1zM37 41h1v1h-1zM4 42h1v1h-1zM9 42h1v1h-1zM11 42h2v1h-2zM19 42h1v1h-1zM24 42h1v1h-1zM26 42h1v1h-1zM29 42h1v1h-1z"/>
<path fill="#c6c939" d="M6 4h1v1h-1zM4 6h1v1h-1zM40 34h1v1h-1zM34 40h1v1h-1z"/>
<path fill="#d4bf3a" d="M21 3h1v1h-1zM3 21h1v1h-1z"/>
<path fill="#dfb73d" d="M6 0h1v1h-1zM8 0h2v1h-2zM9 1h1v1h-1zM19 1h1v1h-1zM24 1h1v1h-1zM34 1h1v1h-1zM42 1h1v1h-1zM18 2h1v1h-1zM20 3h1v1h-1zM26 3h1v1h-1zM29 3h1v1h-1zM33 3h1v1h-1zM39 3h1v1h-1zM12 4h1v1h-1zM32 4h2v1h-2zM6 5h1v1h-1zM19 5h1v1h-1zM0 6h1v1h-1zM5 6h1v1h-1zM22 6h1v1h-1zM24 6h1v1h-1zM29 6h1v1h-1zM32 6h2v1h-2zM37 6h1v1h-1zM0 8h1v1h-1zM38 8h1v1h-1zM0 9h2v1h-2zM21 9h1v1h-1zM24 9h1v1h-1zM28 9h1v1h-1zM19 11h1v1h-1zM26 11h1v1h-1zM29 11h2v1h-2zM4 12h1v1h-1zM20 12h2v1h-2zM30 13h1v1h-1zM42 13h1v1h-1zM38 15h1v1h-1zM18 16h1v1h-1zM39 16h1v1h-1zM25 17h1v1h-1zM38 17h1v1h-1zM2 18h1v1h-1zM16 18h1v1h-1zM22 18h1v1h-1zM1 19h1v1h-1zM5 19h1v1h-1zM11 19h1v1h-1zM25 19h1v1h-1zM3 20h1v1h-1zM12 20h1v1h-1zM9 21h1v1h-1zM12 21h1v1h-1zM28 21h5v1h-5zM35 21h1v1h-1zM6 22h1v1h-1zM18 22h1v1h-1zM28 22h1v1h-1zM41 22h1v1h-1zM31 23h1v1h-1zM35 23h1v1h-1zM1 24h1v1h-1zM6 24h1v1h-1zM9 24h1v1h-1zM28 24h1v1h-1zM35 24h1v1h-1zM17 25h1v1h-1zM19 25h1v1h-1zM28 25h1v1h-1zM30 25h1v1h-1zM3 26h1v1h-1zM11 26h1v1h-1zM29 26h2v1h-2zM35 26h1v1h-1zM9 28h1v1h-1zM21 28h2v1h-2zM24 28h2v1h-2zM3 29h1v1h-1zM6 29h1v1h-1zM11 29h1v1h-1zM21 29h1v1h-1zM26 29h1v1h-1zM11 30h1v1h-1zM13 30h1v1h-1zM21 30h1v1h-1zM25 30h2v1h-2zM35 30h1v1h-1zM37 30h1v1h-1zM21 31h1v1h-1zM23 31h1v1h-1zM35 31h1v1h-1zM39 31h2v1h-2zM4 32h1v1h-1zM6 32h1v1h-1zM21 32h1v1h-1zM42 32h1v1h-1zM3 33h2v1h-2zM6 33h1v1h-1zM1 34h1v1h-1zM21 35h1v1h-1zM23 35h2v1h-2zM26 35h1v1h-1zM30 35h2v1h-2zM41 35h1v1h-1zM6 37h1v1h-1zM30 37h1v1h-1zM8 38h1v1h-1zM15 38h1v1h-1zM17 38h1v1h-1zM3 39h1v1h-1zM16 39h1v1h-1zM31 39h1v1h-1zM31 40h1v1h-1zM22 41h1v1h-1zM35 41h1v1h-1zM1 42h1v1h-1zM13 42h1v1h-1zM32 42h1v1h-1z"/>
<path fill="#e8fc3c" d="M25 0h1v1h-1zM12 2h1v1h-1zM35 6h1v1h-1zM38 10h1v1h-1zM24 11h1v1h-1zM2 12h1v1h-1zM25 18h1v1h-1zM30 20h1v1h-1zM11 24h1v1h-1zM0 25h1v1h-1zM18 25h1v1h-1zM29 25h1v1h-1zM25 29h1v1h-1zM20 30h1v1h-1zM6 35h1v1h-1zM10 38h1v1h-1z"/>
</g></g>
<use href="#hm4" filter="url(#hblur)" opacity="0.6"/>
</g>
<rect x="58.50" y="1669.20" width="404.20" height="330.50" fill="none" stroke="#333333" stroke-width="1.3"/>
<path d="M147.80 1999.70v-3.2M147.80 1669.20v3.2M58.50 1742.22h3.2M462.70 1742.22h-3.2M241.80 1999.70v-3.2M241.80 1669.20v3.2M58.50 1819.08h3.2M462.70 1819.08h-3.2M335.80 1999.70v-3.2M335.80 1669.20v3.2M58.50 1895.94h3.2M462.70 1895.94h-3.2M429.80 1999.70v-3.2M429.80 1669.20v3.2M58.50 1972.80h3.2M462.70 1972.80h-3.2" stroke="#333333" stroke-width="1.2" fill="none"/>
<g font-family="Liberation Sans, Arial, Helvetica, sans-serif" font-size="33.2" fill="#000" stroke="#000" stroke-width="0.45" stroke-linejoin="round">
<text x="147.8" y="2043.0" text-anchor="middle">10</text>
<text x="48.2" y="1755.6" text-anchor="end">10</text>
<text x="241.8" y="2043.0" text-anchor="middle">20</text>
<text x="48.2" y="1832.5" text-anchor="end">20</text>
<text x="335.8" y="2043.0" text-anchor="middle">30</text>
<text x="48.2" y="1909.3" text-anchor="end">30</text>
<text x="429.8" y="2043.0" text-anchor="middle">40</text>
<text x="48.2" y="1986.2" text-anchor="end">40</text>
</g>
<rect x="473.40" y="1669.20" width="22.40" height="330.50" fill="url(#cbg)" stroke="#262626" stroke-width="1.2"/>
<g font-family="Liberation Sans, Arial, Helvetica, sans-serif" font-size="29.9" fill="#000" stroke="#000" stroke-width="0.45" stroke-linejoin="round">
<text x="505.15" y="1712.15">0.1</text>
<text x="505.15" y="1779.75">0.05</text>
<text x="505.15" y="1847.35">0</text>
<text x="505.15" y="1914.85">-0.05</text>
<text x="505.15" y="1982.45">-0.1</text>
</g>
<path d="M495.80 1699.10h-3M495.80 1766.70h-3M495.80 1834.30h-3M495.80 1901.80h-3M495.80 1969.40h-3" stroke="#262626" stroke-width="1.2" fill="none"/>
<text x="-0.22" y="1654.10" font-family="Liberation Sans, Arial, Helvetica, sans-serif" font-size="37.15" stroke="#000" stroke-width="0.70" stroke-linejoin="round" >Mean PLV for</text>
<text x="236.41" y="1656.20" font-family="Liberation Serif, Times New Roman, Times, serif" font-size="40.64" stroke="#000" stroke-width="0.50" stroke-linejoin="round" >SR-RR</text>
<text x="366.27" y="1654.10" font-family="Liberation Sans, Arial, Helvetica, sans-serif" font-size="36.85" stroke="#000" stroke-width="0.70" stroke-linejoin="round" >high level</text>
<text x="1184.48" y="1651.70" font-family="Liberation Sans, Arial, Helvetica, sans-serif" font-size="36.65" stroke="#000" stroke-width="0.70" stroke-linejoin="round" >p-values&lt;0.05 (multiple correction)</text>
<text x="766.79" y="1697.70" font-family="Liberation Serif, Times New Roman, Times, serif" font-size="58.06" stroke="#000" stroke-width="0.30" stroke-linejoin="round" >SR &gt; RR</text>
<!-- row 3 right pmap -->
<rect x="1240.10" y="1669.20" width="450.60" height="330.50" fill="#4025b3"/>
<g transform="translate(1240.10 1669.20) scale(10.4791 7.6860)" shape-rendering="crispEdges">
<path fill="#eefa3a" d="M0 0h1v1h-1zM1 1h1v1h-1zM2 2h1v1h-1zM3 3h1v1h-1zM4 4h1v1h-1zM5 5h1v1h-1zM6 6h1v1h-1zM7 7h1v1h-1zM8 8h1v1h-1zM9 9h1v1h-1zM10 10h1v1h-1zM11 11h1v1h-1zM12 12h1v1h-1zM13 13h1v1h-1zM14 14h1v1h-1zM15 15h1v1h-1zM16 16h1v1h-1zM17 17h1v1h-1zM18 18h1v1h-1zM19 19h1v1h-1zM20 20h1v1h-1zM21 21h1v1h-1zM22 22h1v1h-1zM23 23h1v1h-1zM24 24h1v1h-1zM25 25h1v1h-1zM26 26h1v1h-1zM27 27h1v1h-1zM28 28h1v1h-1zM29 29h1v1h-1zM30 30h1v1h-1zM31 31h1v1h-1zM32 32h1v1h-1zM33 33h1v1h-1zM34 34h1v1h-1zM35 35h1v1h-1zM36 36h1v1h-1zM37 37h1v1h-1zM38 38h1v1h-1zM39 39h1v1h-1zM40 40h1v1h-1zM41 41h1v1h-1zM42 42h1v1h-1zM35 6h1v1h-1zM6 35h1v1h-1z"/>
</g>
<rect x="1240.10" y="1669.20" width="450.60" height="330.50" fill="none" stroke="#0e0e30" stroke-width="1.3"/>
<path d="M1339.65 1999.70v-3.2M1339.65 1669.20v3.2M1240.10 1742.22h3.2M1690.70 1742.22h-3.2M1444.44 1999.70v-3.2M1444.44 1669.20v3.2M1240.10 1819.08h3.2M1690.70 1819.08h-3.2M1549.23 1999.70v-3.2M1549.23 1669.20v3.2M1240.10 1895.94h3.2M1690.70 1895.94h-3.2M1654.02 1999.70v-3.2M1654.02 1669.20v3.2M1240.10 1972.80h3.2M1690.70 1972.80h-3.2" stroke="#0e0e30" stroke-width="1.2" fill="none"/>
<g font-family="Liberation Sans, Arial, Helvetica, sans-serif" font-size="33.2" fill="#000" stroke="#000" stroke-width="0.45" stroke-linejoin="round">
<text x="1339.7" y="2043.0" text-anchor="middle">10</text>
<text x="1229.9" y="1755.6" text-anchor="end">10</text>
<text x="1444.4" y="2043.0" text-anchor="middle">20</text>
<text x="1229.9" y="1832.5" text-anchor="end">20</text>
<text x="1549.2" y="2043.0" text-anchor="middle">30</text>
<text x="1229.9" y="1909.3" text-anchor="end">30</text>
<text x="1654.0" y="2043.0" text-anchor="middle">40</text>
<text x="1229.9" y="1986.2" text-anchor="end">40</text>
</g>
<g><use href="#brain" transform="translate(681.50 106.60) scale(1.0000 1.0000) translate(-681.50 -106.60)"/>
<line x1="769.8" y1="261.7" x2="861.7" y2="170" stroke="#d22828" stroke-width="3.5" stroke-linecap="round"/>
<text x="861.7" y="160.8" font-family="Liberation Sans, Arial, sans-serif" font-weight="bold" font-size="10" text-anchor="middle" fill="#111" opacity="1.00">10</text><circle cx="861.7" cy="170.0" r="12.7" fill="url(#nblue)" opacity="1.00"/>
<text x="769.8" y="252.5" font-family="Liberation Sans, Arial, sans-serif" font-weight="bold" font-size="10" text-anchor="middle" fill="#111" opacity="1.00">22</text><circle cx="769.8" cy="261.7" r="12.7" fill="url(#nblue)" opacity="1.00"/>
</g>
<g><use href="#brain" transform="translate(664.90 558.00) scale(1.1232 1.1151) translate(-681.50 -106.60)"/>
<line x1="786.5" y1="758.4" x2="1024.3" y2="643.7" stroke="url(#lg2)" stroke-width="3.2" stroke-linecap="round"/>
<circle cx="786.5" cy="758.4" r="14.2" fill="url(#nblue)" opacity="0.30"/>
<text x="1024.3" y="633.0" font-family="Liberation Sans, Arial, sans-serif" font-weight="bold" font-size="10" text-anchor="middle" fill="#111" opacity="0.80">2</text><circle cx="1024.3" cy="643.7" r="14.2" fill="url(#nblue)" opacity="0.38"/>
<line x1="764.4" y1="730.8" x2="867.3" y2="628.5" stroke="#d22828" stroke-width="3.8" stroke-linecap="round"/>
<text x="867.3" y="617.6" font-family="Liberation Sans, Arial, sans-serif" font-weight="bold" font-size="10" text-anchor="middle" fill="#111" opacity="1.00">10</text><circle cx="867.3" cy="628.5" r="14.4" fill="url(#nblue)" opacity="1.00"/>
<text x="764.4" y="719.9" font-family="Liberation Sans, Arial, sans-serif" font-weight="bold" font-size="10" text-anchor="middle" fill="#111" opacity="1.00">22</text><circle cx="764.4" cy="730.8" r="14.4" fill="url(#nblue)" opacity="1.00"/>
</g>
<g><use href="#brain" transform="translate(659.40 1239.00) scale(1.1159 1.1102) translate(-681.50 -106.60)"/>
<line x1="704.1" y1="1398.6" x2="927.5" y2="1252.9" stroke="url(#lg3a)" stroke-width="3.6" stroke-linecap="round"/>
<line x1="829.4" y1="1288.8" x2="1018.8" y2="1323.4" stroke="url(#lg3b)" stroke-width="3.6" stroke-linecap="round"/>
<text x="927.5" y="1242.9" font-family="Liberation Sans, Arial, sans-serif" font-weight="bold" font-size="10" text-anchor="middle" fill="#111" opacity="0.90">31</text><circle cx="927.5" cy="1252.9" r="13.5" fill="url(#nred)" opacity="0.22"/>
<text x="1018.8" y="1313.4" font-family="Liberation Sans, Arial, sans-serif" font-weight="bold" font-size="10" text-anchor="middle" fill="#111" opacity="0.90">3</text><circle cx="1018.8" cy="1323.4" r="13.5" fill="url(#ndblue)" opacity="0.30"/>
<text x="829.4" y="1277.7" font-family="Liberation Sans, Arial, sans-serif" font-weight="bold" font-size="10" text-anchor="middle" fill="#111" opacity="1.00">5</text><circle cx="829.4" cy="1288.8" r="14.6" fill="url(#ndblue)" opacity="1.00"/>
<text x="704.1" y="1387.5" font-family="Liberation Sans, Arial, sans-serif" font-weight="bold" font-size="10" text-anchor="middle" fill="#111" opacity="1.00">21</text><circle cx="704.1" cy="1398.6" r="14.6" fill="url(#nred)" opacity="1.00"/>
</g>
<g><use href="#brain" transform="translate(669.00 1728.70) scale(1.0944 1.0906) translate(-681.50 -106.60)"/>
<line x1="923.9" y1="1777.9" x2="969.6" y2="1789.5" stroke="#a85058" stroke-width="3.2" opacity="0.8"/>
<text x="923.9" y="1767.6" font-family="Liberation Sans, Arial, sans-serif" font-weight="bold" font-size="10" text-anchor="middle" fill="#111" opacity="0.35">36</text><circle cx="923.9" cy="1777.9" r="13.8" fill="url(#nblue)" opacity="0.33"/>
<text x="969.6" y="1778.8" font-family="Liberation Sans, Arial, sans-serif" font-weight="bold" font-size="10" text-anchor="middle" fill="#111" opacity="1.00">7</text><circle cx="969.6" cy="1789.5" r="14.2" fill="url(#nblue)" opacity="1.00"/>
</g>
<text x="643.50" y="1005.60" font-family="Liberation Serif, Times New Roman, Times, serif" font-size="63.79" stroke="#000" stroke-width="0.30" stroke-linejoin="round" >(<tspan font-weight="bold">3a:</tspan> Group-level)</text>
<text x="660.00" y="2147.70" font-family="Liberation Serif, Times New Roman, Times, serif" font-size="63.72" stroke="#000" stroke-width="0.30" stroke-linejoin="round" >(<tspan font-weight="bold">3b:</tspan> High-level)</text>
</svg></body></html>
